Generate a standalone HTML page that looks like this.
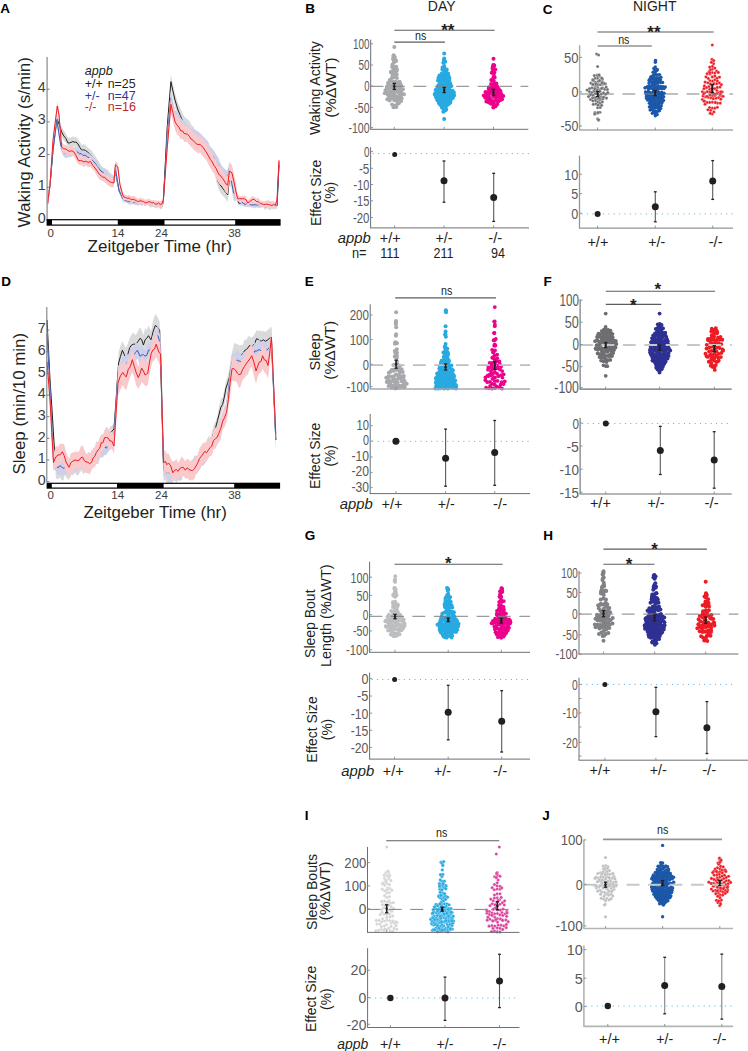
<!DOCTYPE html>
<html><head><meta charset="utf-8"><style>
html,body{margin:0;padding:0;background:#fff;width:748px;height:1051px;overflow:hidden}
svg{display:block}
text{font-family:"Liberation Sans", sans-serif}
</style></head><body>
<svg width="748" height="1051" viewBox="0 0 748 1051">
<rect width="748" height="1051" fill="#fff"/>
<text x="5.20" y="13.03" font-size="13.5" fill="#000" text-anchor="middle" font-weight="bold">A</text>
<polygon points="47.50,198.90 50.00,180.40 53.00,145.36 55.00,128.71 57.00,113.99 59.30,119.60 61.60,126.38 63.73,130.18 65.87,133.50 68.00,137.82 69.60,137.86 71.20,137.31 72.80,136.21 74.40,137.29 76.00,136.95 77.90,138.84 79.80,141.63 81.70,144.88 83.57,144.27 85.43,144.74 87.30,147.18 89.70,148.95 92.10,150.89 93.88,154.29 95.66,156.59 97.44,159.39 99.22,162.27 101.00,165.18 102.67,167.31 104.33,168.34 106.00,168.73 107.95,170.09 109.90,172.82 111.85,173.90 113.80,175.65 115.40,165.74 117.40,177.79 119.40,188.89 121.20,191.83 123.00,196.95 125.20,195.91 127.40,198.36 129.16,197.69 130.92,197.49 132.68,198.99 134.44,199.02 136.20,199.62 137.96,199.83 139.72,199.81 141.48,200.62 143.24,199.69 145.00,200.14 146.69,200.73 148.38,200.51 150.07,201.98 151.76,202.49 153.45,202.10 155.14,202.51 156.83,202.77 158.52,203.52 160.21,203.37 161.90,203.44 163.30,198.75 165.15,164.53 167.00,123.38 168.95,99.07 170.90,74.25 172.95,84.37 175.00,93.59 178.00,103.12 180.30,107.89 182.60,113.49 184.70,117.14 186.80,118.56 188.44,119.99 190.08,121.86 191.72,125.24 193.36,126.69 195.00,129.71 196.67,130.20 198.33,132.97 200.00,133.99 201.67,134.94 203.33,136.20 205.00,138.52 206.60,142.80 208.20,144.56 209.80,148.24 211.40,150.37 213.00,153.07 214.77,160.22 216.53,167.97 218.30,174.32 220.20,178.23 222.10,181.09 224.00,182.96 225.85,185.83 227.70,188.62 229.40,171.54 231.90,173.72 233.55,179.88 235.20,185.64 236.85,194.94 238.50,199.98 240.14,201.36 241.79,200.12 243.43,202.22 245.07,202.14 246.71,203.66 248.36,203.24 250.00,203.28 251.69,201.86 253.38,202.52 255.07,203.83 256.77,202.25 258.46,202.56 260.15,203.47 261.84,202.39 263.53,203.06 265.23,204.54 266.92,202.89 268.61,204.00 270.30,204.49 271.98,203.78 273.65,204.07 275.32,203.31 277.00,203.17 279.00,162.17 279.00,167.42 277.00,209.45 275.32,208.57 273.65,209.78 271.98,208.31 270.30,210.20 268.61,209.59 266.92,207.94 265.23,210.17 263.53,207.34 261.84,207.85 260.15,207.78 258.46,208.28 256.77,206.88 255.07,208.62 253.38,207.91 251.69,207.51 250.00,207.13 248.36,207.14 246.71,207.11 245.07,207.00 243.43,206.39 241.79,205.51 240.14,205.63 238.50,204.84 236.85,198.95 235.20,199.57 233.55,193.59 231.90,187.43 229.40,185.29 227.70,201.97 225.85,199.22 224.00,196.99 222.10,195.25 220.20,192.24 218.30,188.53 216.53,182.42 214.77,173.59 213.00,166.32 211.40,164.55 209.80,161.92 208.20,158.43 206.60,156.39 205.00,153.06 203.33,150.42 201.67,150.04 200.00,147.78 198.33,146.05 196.67,144.49 195.00,143.29 193.36,140.24 191.72,139.76 190.08,136.07 188.44,135.20 186.80,131.37 184.70,130.53 182.60,127.41 180.30,121.80 178.00,116.57 175.00,107.31 172.95,98.29 170.90,89.33 168.95,112.47 167.00,137.52 165.15,169.39 163.30,205.04 161.90,208.91 160.21,209.19 158.52,207.24 156.83,208.29 155.14,208.09 153.45,207.03 151.76,207.34 150.07,207.42 148.38,204.86 146.69,205.19 145.00,205.86 143.24,203.83 141.48,205.91 139.72,204.28 137.96,204.68 136.20,205.12 134.44,203.83 132.68,204.77 130.92,203.68 129.16,202.71 127.40,203.34 125.20,201.21 123.00,201.19 121.20,196.82 119.40,193.77 117.40,187.06 115.40,175.34 113.80,185.62 111.85,182.55 109.90,183.46 107.95,180.06 106.00,179.00 104.33,177.61 102.67,176.71 101.00,173.70 99.22,171.95 97.44,168.48 95.66,166.75 93.88,164.42 92.10,161.68 89.70,159.81 87.30,157.54 85.43,155.07 83.57,154.79 81.70,154.65 79.80,152.27 77.90,148.48 76.00,146.59 74.40,146.87 72.80,146.79 71.20,147.92 69.60,148.42 68.00,147.34 65.87,142.87 63.73,140.44 61.60,137.19 59.30,129.01 57.00,123.41 55.00,138.43 53.00,154.76 50.00,189.85 47.50,209.22" fill="#d9dadb" opacity="1"/>
<polyline points="47.50,204.00 50.00,185.00 53.00,150.00 55.00,134.15 57.00,119.00 59.30,124.70 61.60,131.80 63.73,135.84 65.87,138.41 68.00,143.00 69.60,142.87 71.20,142.33 72.80,141.52 74.40,142.21 76.00,142.00 77.90,143.81 79.80,147.33 81.70,150.20 83.57,149.87 85.43,150.45 87.30,151.80 89.70,154.05 92.10,156.60 93.88,159.83 95.66,161.01 97.44,163.79 99.22,167.17 101.00,169.50 102.67,171.90 104.33,172.65 106.00,174.00 107.95,175.54 109.90,178.45 111.85,178.34 113.80,181.00 115.40,171.00 117.40,182.22 119.40,192.00 121.20,195.08 123.00,199.00 125.20,199.14 127.40,200.70 129.16,200.17 130.92,200.78 132.68,202.02 134.44,200.98 136.20,202.01 137.96,202.36 139.72,202.05 141.48,202.64 143.24,201.90 145.00,203.00 146.69,202.46 148.38,203.09 150.07,204.38 151.76,204.22 153.45,204.33 155.14,205.21 156.83,205.29 158.52,205.32 160.21,206.65 161.90,206.40 163.30,202.00 165.15,166.40 167.00,130.00 168.95,105.34 170.90,81.70 172.95,91.00 175.00,100.00 178.00,110.00 180.30,115.55 182.60,121.00 184.70,123.75 186.80,125.00 188.44,127.66 190.08,128.98 191.72,132.56 193.36,133.04 195.00,136.00 196.67,137.50 198.33,139.85 200.00,140.30 201.67,142.64 203.33,143.41 205.00,146.00 206.60,149.14 208.20,152.13 209.80,154.55 211.40,157.95 213.00,160.00 214.77,166.96 216.53,175.06 218.30,182.00 220.20,184.86 222.10,187.49 224.00,190.00 225.85,192.41 227.70,195.00 229.40,178.00 231.90,180.00 233.55,186.40 235.20,192.34 236.85,197.12 238.50,202.90 240.14,203.53 241.79,202.62 243.43,204.20 245.07,204.39 246.71,205.39 248.36,205.34 250.00,205.00 251.69,204.74 253.38,205.10 255.07,205.84 256.77,204.71 258.46,205.76 260.15,205.34 261.84,205.40 263.53,205.45 265.23,207.04 266.92,205.93 268.61,206.33 270.30,207.00 271.98,206.58 273.65,207.34 275.32,205.56 277.00,206.20 279.00,165.00" fill="none" stroke="#231f20" stroke-width="1.0" stroke-linejoin="round"/>
<polygon points="47.50,199.87 50.00,180.96 53.00,144.79 54.90,130.71 56.80,115.07 58.80,128.72 60.80,140.86 62.40,144.74 64.00,149.09 66.00,148.29 68.00,148.55 70.00,146.88 72.00,146.73 74.00,147.76 76.00,146.86 77.67,147.71 79.33,149.96 81.00,149.69 83.10,151.03 85.20,150.68 87.30,152.82 89.65,153.93 92.00,155.75 93.80,157.46 95.60,158.82 97.40,162.87 99.20,164.08 101.00,165.96 102.75,168.38 104.50,168.33 106.25,171.25 108.00,172.86 109.93,174.91 111.87,176.50 113.80,177.67 115.40,162.70 117.20,175.26 119.00,187.72 121.00,192.50 123.00,196.86 125.00,198.25 127.00,199.14 128.66,198.39 130.32,199.58 131.99,197.48 133.65,200.46 135.31,200.39 136.97,200.37 138.63,200.93 140.30,200.01 141.96,199.28 143.62,199.00 145.28,200.36 146.94,199.70 148.60,199.45 150.27,199.88 151.93,200.60 153.59,200.88 155.25,201.56 156.91,200.56 158.58,201.50 160.24,201.11 161.90,202.27 163.30,199.84 165.15,168.95 167.00,131.82 168.95,111.15 170.90,90.54 172.95,101.00 175.00,109.82 176.75,111.85 178.50,113.04 180.25,116.89 182.00,119.25 183.62,120.89 185.25,121.89 186.88,123.04 188.50,126.23 190.12,127.90 191.75,128.15 193.38,128.44 195.00,130.50 196.67,131.29 198.33,131.39 200.00,132.89 201.67,134.78 203.33,137.57 205.00,137.99 206.67,139.98 208.33,141.80 210.00,146.56 211.67,147.97 213.33,149.68 215.00,152.39 216.70,155.22 218.40,157.65 220.10,162.45 221.80,165.64 223.77,168.09 225.73,169.76 227.70,170.76 229.40,161.20 231.45,173.65 233.50,184.55 235.18,187.24 236.87,193.66 238.55,194.88 240.23,197.53 241.92,199.90 243.60,201.57 245.27,202.23 246.95,201.17 248.62,200.95 250.29,201.39 251.96,201.98 253.64,201.74 255.31,203.09 256.98,203.17 258.65,202.00 260.33,200.75 262.00,202.04 263.67,201.95 265.33,202.62 267.00,201.40 268.67,200.60 270.33,201.32 272.00,201.28 273.67,202.02 275.33,203.76 277.00,203.13 279.00,160.05 279.00,165.17 277.00,207.91 275.33,207.56 273.67,207.41 272.00,206.56 270.33,207.18 268.67,205.90 267.00,206.41 265.33,207.55 263.67,206.73 262.00,206.74 260.33,207.02 258.65,207.73 256.98,207.03 255.31,207.99 253.64,206.64 251.96,206.79 250.29,206.38 248.62,206.29 246.95,206.50 245.27,206.69 243.60,205.45 241.92,205.08 240.23,202.89 238.55,199.59 236.87,199.34 235.18,201.44 233.50,200.26 231.45,187.57 229.40,175.39 227.70,186.02 225.73,185.07 223.77,182.89 221.80,180.03 220.10,178.05 218.40,172.45 216.70,171.57 215.00,167.26 213.33,163.94 211.67,161.76 210.00,160.37 208.33,156.28 206.67,154.12 205.00,152.31 203.33,152.25 201.67,148.95 200.00,149.08 198.33,147.74 196.67,145.34 195.00,145.23 193.38,144.78 191.75,143.48 190.12,142.73 188.50,141.31 186.88,138.51 185.25,136.81 183.62,134.87 182.00,133.78 180.25,130.93 178.50,129.56 176.75,126.77 175.00,124.33 172.95,115.18 170.90,106.22 168.95,125.82 167.00,147.37 165.15,172.78 163.30,204.00 161.90,207.49 160.24,207.24 158.58,206.09 156.91,206.35 155.25,205.40 153.59,205.80 151.93,206.19 150.27,205.28 148.60,205.86 146.94,204.44 145.28,205.87 143.62,204.99 141.96,205.49 140.30,204.33 138.63,205.72 136.97,205.26 135.31,204.75 133.65,204.32 131.99,202.74 130.32,204.91 128.66,204.19 127.00,203.11 125.00,202.40 123.00,201.78 121.00,197.38 119.00,191.73 117.20,184.10 115.40,172.83 113.80,187.24 111.87,184.89 109.93,183.15 108.00,182.46 106.25,181.20 104.50,178.24 102.75,177.51 101.00,175.44 99.20,173.16 97.40,170.29 95.60,168.53 93.80,165.72 92.00,164.32 89.65,162.49 87.30,161.54 85.20,158.91 83.10,159.39 81.00,158.22 79.33,158.42 77.67,156.29 76.00,155.90 74.00,156.02 72.00,156.29 70.00,157.17 68.00,157.13 66.00,158.26 64.00,156.76 62.40,154.55 60.80,149.83 58.80,137.57 56.80,124.44 54.90,139.60 53.00,155.21 50.00,189.79 47.50,208.54" fill="#cdd0ea" opacity="1"/>
<polyline points="47.50,204.00 50.00,185.00 53.00,150.00 54.90,134.75 56.80,119.70 58.80,132.65 60.80,145.40 62.40,149.97 64.00,153.00 66.00,153.31 68.00,153.06 70.00,152.00 72.00,151.56 74.00,151.83 76.00,152.00 77.67,152.18 79.33,153.70 81.00,153.40 83.10,155.52 85.20,155.10 87.30,157.00 89.65,157.85 92.00,160.00 93.80,161.66 95.60,163.87 97.40,166.57 99.20,168.98 101.00,171.00 102.75,172.28 104.50,173.51 106.25,176.09 108.00,178.00 109.93,179.07 111.87,180.80 113.80,182.00 115.40,168.00 117.20,179.91 119.00,190.00 121.00,194.88 123.00,199.00 125.00,200.03 127.00,201.00 128.66,201.43 130.32,201.73 131.99,200.68 133.65,202.56 135.31,202.51 136.97,202.89 138.63,202.93 140.30,202.31 141.96,202.51 143.62,202.11 145.28,203.36 146.94,202.41 148.60,202.61 150.27,203.08 151.93,203.18 153.59,203.73 155.25,203.34 156.91,203.43 158.58,203.92 160.24,204.01 161.90,205.00 163.30,202.00 165.15,170.73 167.00,140.00 168.95,118.05 170.90,98.00 172.95,108.25 175.00,117.00 176.75,119.73 178.50,121.30 180.25,124.00 182.00,127.00 183.62,128.07 185.25,129.48 186.88,130.37 188.50,133.20 190.12,134.86 191.75,135.18 193.38,136.59 195.00,138.00 196.67,138.34 198.33,139.54 200.00,141.19 201.67,142.20 203.33,144.49 205.00,145.00 206.67,146.82 208.33,149.05 210.00,153.40 211.67,155.06 213.33,156.79 215.00,160.00 216.70,163.34 218.40,165.55 220.10,169.81 221.80,173.00 223.77,175.62 225.73,177.06 227.70,178.00 229.40,168.00 231.45,180.79 233.50,192.80 235.18,194.14 236.87,196.17 238.55,197.58 240.23,200.61 241.92,201.95 243.60,203.70 245.27,204.33 246.95,203.50 248.62,203.36 250.29,204.61 251.96,205.03 253.64,204.84 255.31,204.82 256.98,204.92 258.65,204.83 260.33,203.88 262.00,204.50 263.67,204.59 265.33,204.32 267.00,203.72 268.67,203.78 270.33,204.34 272.00,204.35 273.67,205.27 275.33,205.86 277.00,205.00 279.00,162.00" fill="none" stroke="#3b5bab" stroke-width="1.0" stroke-linejoin="round"/>
<polygon points="47.50,199.29 50.00,179.79 53.00,136.26 55.15,118.82 57.30,101.54 59.00,109.77 61.60,141.77 63.80,144.56 66.00,144.90 67.92,146.29 69.85,146.82 71.78,145.64 73.70,147.81 76.10,150.66 78.50,155.72 80.33,155.50 82.17,155.99 84.00,157.33 85.62,157.03 87.25,157.74 88.88,158.07 90.50,156.45 92.75,161.55 95.00,163.98 97.20,166.20 99.40,170.20 101.05,171.98 102.70,173.50 104.35,172.41 106.00,174.78 107.95,175.05 109.90,176.71 111.85,177.28 113.80,178.88 115.40,160.87 117.80,163.15 120.00,182.00 121.70,188.01 123.40,193.78 125.40,194.88 127.40,195.43 129.30,194.89 131.20,196.45 133.10,195.84 135.00,196.44 136.70,197.66 138.40,199.19 140.10,197.21 141.80,198.41 143.50,198.49 145.20,199.98 146.90,199.23 148.60,199.26 150.30,199.38 152.00,200.41 153.65,200.02 155.30,200.53 156.95,200.99 158.60,200.24 160.25,201.65 161.90,200.21 163.30,196.99 165.15,173.39 167.00,141.01 168.95,118.72 170.90,95.01 172.95,104.89 175.00,113.34 176.97,115.95 178.93,118.15 180.90,121.84 182.57,123.09 184.25,125.42 185.93,125.88 187.60,126.30 189.28,127.00 190.95,130.33 192.62,130.68 194.30,133.60 196.18,134.58 198.05,136.18 199.93,136.28 201.80,137.06 203.48,138.79 205.15,142.72 206.82,144.33 208.50,147.31 210.34,151.32 212.18,153.63 214.02,157.51 215.86,160.04 217.70,163.89 219.37,166.38 221.03,167.40 222.70,170.54 224.37,173.32 226.03,175.67 227.70,176.51 229.40,163.00 231.90,164.60 233.83,173.25 235.77,181.93 237.70,195.42 239.38,196.20 241.05,196.20 242.72,195.71 244.40,195.42 246.05,196.41 247.70,200.35 249.38,199.27 251.05,197.05 252.72,196.30 254.40,196.65 256.37,198.61 258.33,197.72 260.30,200.80 261.97,200.53 263.63,201.56 265.30,201.31 266.97,200.32 268.63,200.69 270.30,201.96 271.97,202.88 273.63,200.86 275.30,202.67 277.00,197.59 279.00,156.36 279.00,163.62 277.00,203.25 275.30,207.98 273.63,208.08 271.97,208.26 270.30,208.78 268.63,208.17 266.97,208.01 265.30,207.04 263.63,207.22 261.97,206.29 260.30,206.61 258.33,204.85 256.37,204.32 254.40,202.23 252.72,203.23 251.05,203.77 249.38,204.56 247.70,206.61 246.05,202.68 244.40,202.53 242.72,201.40 241.05,202.37 239.38,201.66 237.70,201.20 235.77,200.09 233.83,190.24 231.90,180.76 229.40,180.17 227.70,194.53 226.03,192.38 224.37,190.30 222.70,186.58 221.03,185.14 219.37,183.91 217.70,181.29 215.86,177.13 214.02,173.36 212.18,171.14 210.34,167.68 208.50,164.51 206.82,160.77 205.15,159.10 203.48,156.95 201.80,154.87 199.93,152.23 198.05,153.32 196.18,151.43 194.30,150.42 192.62,148.27 190.95,146.81 189.28,144.64 187.60,142.21 185.93,141.65 184.25,142.05 182.57,138.84 180.90,139.43 178.93,136.14 176.97,133.89 175.00,129.88 172.95,121.23 170.90,112.99 168.95,135.20 167.00,158.40 165.15,178.88 163.30,203.25 161.90,206.88 160.25,207.62 158.60,205.83 156.95,206.80 155.30,207.35 153.65,205.55 152.00,206.16 150.30,204.36 148.60,205.32 146.90,204.87 145.20,206.19 143.50,204.70 141.80,203.35 140.10,204.39 138.40,204.94 136.70,203.52 135.00,202.40 133.10,202.05 131.20,202.76 129.30,200.92 127.40,200.85 125.40,199.95 123.40,200.23 121.70,194.90 120.00,187.85 117.80,171.06 115.40,169.66 113.80,186.96 111.85,187.58 109.90,186.51 107.95,185.47 106.00,183.32 104.35,182.18 102.70,181.03 101.05,180.25 99.40,179.56 97.20,176.32 95.00,171.90 92.75,169.40 90.50,166.65 88.88,167.34 87.25,166.43 85.62,165.13 84.00,167.18 82.17,165.46 80.33,164.67 78.50,164.53 76.10,160.15 73.70,156.09 71.78,155.52 69.85,155.15 67.92,155.83 66.00,153.73 63.80,153.46 61.60,150.72 59.00,118.96 57.30,110.44 55.15,128.01 53.00,144.35 50.00,190.01 47.50,208.38" fill="#f9c9cb" opacity="1"/>
<polyline points="47.50,204.00 50.00,185.00 53.00,140.00 55.15,122.89 57.30,106.00 59.00,115.00 61.60,147.00 63.80,148.87 66.00,149.00 67.92,150.68 69.85,151.31 71.78,150.83 73.70,151.80 76.10,155.64 78.50,160.60 80.33,160.52 82.17,160.93 84.00,162.00 85.62,161.26 87.25,161.95 88.88,162.35 90.50,161.40 92.75,165.38 95.00,168.00 97.20,171.11 99.40,174.30 101.05,175.78 102.70,177.25 104.35,176.99 106.00,179.00 107.95,180.32 109.90,181.82 111.85,182.56 113.80,183.00 115.40,164.70 117.80,167.00 120.00,185.00 121.70,191.35 123.40,196.70 125.40,197.46 127.40,198.30 129.30,198.08 131.20,199.73 133.10,199.24 135.00,200.00 136.70,200.92 138.40,201.58 140.10,200.75 141.80,201.08 143.50,201.60 145.20,202.77 146.90,202.61 148.60,201.78 150.30,201.97 152.00,203.00 153.65,202.47 155.30,204.14 156.95,204.11 158.60,202.96 160.25,204.49 161.90,204.00 163.30,200.00 165.15,175.96 167.00,150.00 168.95,127.46 170.90,104.30 172.95,112.75 175.00,121.80 176.97,124.96 178.93,127.20 180.90,131.00 182.57,130.85 184.25,133.59 185.93,133.77 187.60,134.30 189.28,136.25 190.95,138.97 192.62,139.87 194.30,141.90 196.18,143.67 198.05,144.60 199.93,144.40 201.80,146.00 203.48,148.00 205.15,150.59 206.82,152.98 208.50,156.00 210.34,159.37 212.18,161.92 214.02,165.44 215.86,168.06 217.70,172.00 219.37,175.04 221.03,176.14 222.70,178.57 224.37,181.03 226.03,183.89 227.70,185.30 229.40,171.00 231.90,172.80 233.83,181.27 235.77,190.90 237.70,198.70 239.38,198.70 241.05,198.76 242.72,198.75 244.40,198.70 246.05,199.84 247.70,202.90 249.38,201.93 251.05,200.57 252.72,199.36 254.40,199.50 256.37,201.50 258.33,201.64 260.30,203.70 261.97,203.84 263.63,204.53 265.30,204.38 266.97,204.11 268.63,204.68 270.30,204.94 271.97,205.59 273.63,204.42 275.30,205.40 277.00,200.00 279.00,160.20" fill="none" stroke="#ed1c24" stroke-width="1.0" stroke-linejoin="round"/>
<line x1="47.10" y1="57.00" x2="47.10" y2="221.00" stroke="#a0a0a0" stroke-width="1.5" />
<text x="45.80" y="222.52" font-size="14.3" fill="#3d3d3f" text-anchor="end">0</text>
<line x1="47.10" y1="220.00" x2="49.60" y2="220.00" stroke="#6d6e71" stroke-width="0.9" />
<text x="45.80" y="189.82" font-size="14.3" fill="#3d3d3f" text-anchor="end">1</text>
<line x1="47.10" y1="187.30" x2="49.60" y2="187.30" stroke="#6d6e71" stroke-width="0.9" />
<text x="45.80" y="157.12" font-size="14.3" fill="#3d3d3f" text-anchor="end">2</text>
<line x1="47.10" y1="154.60" x2="49.60" y2="154.60" stroke="#6d6e71" stroke-width="0.9" />
<text x="45.80" y="124.42" font-size="14.3" fill="#3d3d3f" text-anchor="end">3</text>
<line x1="47.10" y1="121.90" x2="49.60" y2="121.90" stroke="#6d6e71" stroke-width="0.9" />
<text x="45.80" y="91.72" font-size="14.3" fill="#3d3d3f" text-anchor="end">4</text>
<line x1="47.10" y1="89.20" x2="49.60" y2="89.20" stroke="#6d6e71" stroke-width="0.9" />
<rect x="46.60" y="219.10" width="234.00" height="6.60" fill="#000"/>
<rect x="52.00" y="220.30" width="65.80" height="4.20" fill="#fff"/>
<rect x="164.50" y="220.30" width="70.70" height="4.20" fill="#fff"/>
<text x="50.80" y="236.52" font-size="11.5" fill="#3a3a3a" text-anchor="middle">0</text>
<text x="118.00" y="236.52" font-size="11.5" fill="#3a3a3a" text-anchor="middle">14</text>
<text x="161.50" y="236.52" font-size="11.5" fill="#3a3a3a" text-anchor="middle">24</text>
<text x="234.60" y="236.52" font-size="11.5" fill="#3a3a3a" text-anchor="middle">38</text>
<text x="87.60" y="251.60" font-size="17" fill="#231f20" text-anchor="start" textLength="144.4" lengthAdjust="spacingAndGlyphs">Zeitgeber Time (hr)</text>
<text x="29.50" y="227.50" font-size="16.5" fill="#231f20" text-anchor="start" textLength="170.5" lengthAdjust="spacingAndGlyphs" transform="rotate(-90 29.50 227.50)">Waking Activity (s/min)</text>
<text x="84.80" y="75.40" font-size="13.5" fill="#231f20" text-anchor="start" font-style="italic" textLength="28" lengthAdjust="spacingAndGlyphs">appb</text>
<text x="84.80" y="88.40" font-size="13.5" fill="#231f20" text-anchor="start" textLength="18" lengthAdjust="spacingAndGlyphs">+/+</text>
<text x="107.70" y="88.40" font-size="13.5" fill="#231f20" text-anchor="start" textLength="28" lengthAdjust="spacingAndGlyphs">n=25</text>
<text x="84.80" y="99.70" font-size="13.5" fill="#2b3a97" text-anchor="start" textLength="14.8" lengthAdjust="spacingAndGlyphs">+/-</text>
<text x="107.70" y="99.70" font-size="13.5" fill="#2b3a97" text-anchor="start" textLength="28" lengthAdjust="spacingAndGlyphs">n=47</text>
<text x="84.80" y="110.90" font-size="13.5" fill="#c1272d" text-anchor="start" textLength="11.6" lengthAdjust="spacingAndGlyphs">-/-</text>
<text x="107.70" y="110.90" font-size="13.5" fill="#c1272d" text-anchor="start" textLength="28.4" lengthAdjust="spacingAndGlyphs">n=16</text>
<text x="6.20" y="285.53" font-size="13.5" fill="#000" text-anchor="middle" font-weight="bold">D</text>
<polygon points="47.00,313.46 50.00,371.06 51.97,401.10 53.93,433.51 55.90,462.96 57.95,465.31 60.00,464.45 61.67,466.59 63.33,467.19 65.00,462.71 66.67,467.70 68.33,464.31 70.00,461.84 71.67,461.09 73.33,462.97 75.00,459.44 76.67,462.64 78.33,461.44 80.00,458.59 81.67,458.10 83.33,457.87 85.00,455.11 86.67,455.19 88.33,456.44 90.00,454.00 91.67,451.66 93.33,454.16 95.00,448.03 96.67,447.43 98.33,447.70 100.00,444.20 101.60,441.57 103.20,440.20 104.80,436.41 106.40,433.39 108.00,433.75 110.00,426.77 112.00,425.73 114.00,422.32 116.30,388.38 118.60,352.15 120.50,345.78 122.40,341.20 124.10,344.46 125.80,348.18 127.75,344.10 129.70,338.06 131.70,334.21 133.70,332.45 135.70,335.47 137.85,331.31 140.00,327.19 141.70,330.04 143.40,335.14 145.10,327.88 146.80,330.04 148.50,325.53 151.10,331.36 153.25,319.84 155.40,313.64 157.55,317.24 159.70,322.10 161.65,388.74 163.60,459.84 165.23,465.27 166.87,468.88 168.50,470.74 170.14,467.78 171.79,469.96 173.43,468.85 175.07,464.30 176.71,469.88 178.36,464.03 180.00,465.43 181.67,461.74 183.33,463.40 185.00,461.67 186.67,464.55 188.33,464.68 190.00,461.47 191.67,459.70 193.33,459.46 195.00,459.33 196.73,457.25 198.46,453.06 200.19,450.80 201.92,449.74 203.65,446.30 205.38,443.70 207.11,439.30 208.84,436.11 210.57,437.51 212.30,430.69 214.01,424.38 215.73,421.30 217.44,415.14 219.16,405.87 220.87,399.00 222.59,396.93 224.30,390.42 225.95,380.79 227.60,377.39 229.25,369.03 230.90,357.85 232.55,349.84 234.20,343.33 235.94,343.59 237.68,344.32 239.42,345.39 241.16,344.91 242.90,345.00 244.60,339.16 246.30,340.09 248.00,336.49 249.70,336.13 251.40,337.82 253.10,336.26 254.80,333.70 256.50,329.96 258.20,331.29 259.96,330.15 261.72,331.69 263.48,330.83 265.24,332.04 267.00,330.48 269.20,328.78 271.40,326.45 273.60,379.66 275.80,433.55 275.80,448.29 273.60,393.77 271.40,347.62 269.20,350.15 267.00,351.50 265.24,349.39 263.48,348.53 261.72,349.22 259.96,352.09 258.20,349.13 256.50,349.37 254.80,352.25 253.10,356.00 251.40,357.71 249.70,355.99 248.00,358.40 246.30,359.97 244.60,360.94 242.90,365.14 241.16,366.25 239.42,365.19 237.68,364.63 235.94,366.54 234.20,363.36 232.55,368.42 230.90,376.46 229.25,383.09 227.60,390.47 225.95,396.58 224.30,405.19 222.59,409.63 220.87,415.38 219.16,421.51 217.44,428.00 215.73,433.35 214.01,437.22 212.30,445.22 210.57,451.55 208.84,450.83 207.11,456.96 205.38,458.69 203.65,458.29 201.92,462.82 200.19,463.83 198.46,469.17 196.73,470.10 195.00,474.31 193.33,471.73 191.67,472.99 190.00,474.31 188.33,475.75 186.67,479.05 185.00,477.71 183.33,475.79 181.67,476.25 180.00,480.45 178.36,478.13 176.71,483.22 175.07,480.97 173.43,480.63 171.79,485.64 170.14,483.04 168.50,485.34 166.87,484.85 165.23,479.46 163.60,481.73 161.65,409.77 159.70,340.94 157.55,335.44 155.40,335.94 153.25,341.52 151.10,348.30 148.50,347.54 146.80,347.87 145.10,349.28 143.40,356.46 141.70,350.26 140.00,348.55 137.85,351.80 135.70,355.56 133.70,352.19 131.70,356.37 129.70,357.86 127.75,364.58 125.80,367.97 124.10,362.73 122.40,360.07 120.50,364.54 118.60,372.97 116.30,402.07 114.00,434.94 112.00,437.18 110.00,441.50 108.00,448.53 106.40,446.96 104.80,451.94 103.20,455.04 101.60,457.75 100.00,457.79 98.33,464.15 96.67,464.10 95.00,464.49 93.33,467.75 91.67,466.47 90.00,469.43 88.33,472.30 86.67,467.58 85.00,471.91 83.33,474.45 81.67,470.33 80.00,472.39 78.33,475.11 76.67,475.43 75.00,472.54 73.33,475.38 71.67,474.87 70.00,477.62 68.33,479.71 66.67,477.88 65.00,474.32 63.33,480.55 61.67,480.34 60.00,477.56 57.95,479.23 55.90,478.32 53.93,449.75 51.97,414.51 50.00,388.42 47.00,328.71" fill="#d9dadb" opacity="1"/>
<polyline points="47.00,320.00 50.00,380.00 51.97,409.28 53.93,441.44 55.90,469.70 57.95,471.09 60.00,472.00 61.67,472.02 63.33,473.02 65.00,469.26 66.67,472.84 68.33,470.90 70.00,470.00 71.67,468.87 73.33,469.98 75.00,466.96 76.67,469.49 78.33,467.01 80.00,466.00 81.67,464.72 83.33,465.83 85.00,463.75 86.67,461.91 88.33,463.74 90.00,462.00 91.67,458.35 93.33,460.07 95.00,455.92 96.67,455.95 98.33,455.80 100.00,452.00 101.60,449.98 103.20,447.92 104.80,443.98 106.40,440.21 108.00,440.00 110.00,434.28 112.00,431.12 114.00,429.00 116.30,396.51 118.60,363.00 120.50,356.30 122.40,350.20 124.10,354.16 125.80,358.00 127.75,354.59 129.70,347.70 131.70,344.91 133.70,344.17 135.70,344.20 137.85,341.92 140.00,338.30 141.70,339.60 143.40,345.10 145.10,339.78 146.80,338.20 148.50,335.70 151.10,340.00 153.25,330.97 155.40,325.40 157.55,327.32 159.70,330.50 161.65,399.04 163.60,470.00 165.23,473.13 166.87,475.93 168.50,478.30 170.14,476.10 171.79,477.05 173.43,475.49 175.07,473.09 176.71,475.72 178.36,471.77 180.00,472.00 181.67,469.79 183.33,468.89 185.00,470.61 186.67,470.97 188.33,469.91 190.00,467.57 191.67,466.30 193.33,464.52 195.00,466.00 196.73,463.93 198.46,460.85 200.19,457.21 201.92,455.80 203.65,452.20 205.38,451.66 207.11,448.06 208.84,443.21 210.57,443.39 212.30,438.90 214.01,430.95 215.73,427.15 217.44,420.66 219.16,413.97 220.87,407.24 222.59,404.47 224.30,397.30 225.95,388.04 227.60,383.29 229.25,377.89 230.90,367.26 232.55,360.39 234.20,354.60 235.94,354.86 237.68,354.19 239.42,354.56 241.16,355.10 242.90,353.50 244.60,350.49 246.30,349.51 248.00,347.89 249.70,345.20 251.40,347.32 253.10,345.28 254.80,343.40 256.50,338.71 258.20,339.30 259.96,341.04 261.72,340.82 263.48,339.81 265.24,341.24 267.00,340.40 269.20,338.49 271.40,337.00 273.60,387.29 275.80,440.00" fill="none" stroke="#231f20" stroke-width="1.0" stroke-linejoin="round"/>
<polygon points="47.00,325.85 50.00,382.75 51.75,418.23 53.50,455.79 55.75,457.13 58.00,461.73 59.71,458.96 61.43,459.14 63.14,459.51 64.86,462.50 66.57,460.82 68.29,462.06 70.00,460.52 71.67,456.23 73.33,457.94 75.00,455.54 76.67,458.48 78.33,458.55 80.00,455.42 81.67,455.76 83.33,455.30 85.00,451.33 86.67,455.77 88.33,451.72 90.00,454.59 91.64,450.00 93.27,450.26 94.91,451.38 96.55,451.44 98.18,449.25 99.82,443.32 101.45,446.64 103.09,439.47 104.73,441.23 106.36,439.68 108.00,439.48 110.00,437.84 112.00,432.64 114.00,431.03 116.00,397.29 118.00,365.25 120.00,365.61 122.00,358.30 123.60,356.53 125.20,355.71 126.80,353.71 128.40,355.12 130.00,349.49 131.85,346.94 133.70,347.25 135.55,342.73 137.40,343.18 140.00,346.34 141.70,346.29 143.40,348.49 145.10,350.08 146.80,346.80 148.53,340.81 150.27,343.96 152.00,337.76 154.00,331.42 156.00,330.05 158.00,326.26 160.50,337.05 163.60,461.76 165.20,461.30 166.80,465.59 168.40,465.06 170.00,466.29 171.67,466.34 173.33,462.74 175.00,464.03 176.67,465.27 178.33,464.57 180.00,465.19 181.67,465.00 183.33,459.94 185.00,461.12 186.67,460.26 188.33,462.63 190.00,461.83 191.67,463.05 193.33,458.60 195.00,454.94 196.67,456.86 198.33,457.94 200.00,455.87 201.67,449.58 203.33,449.49 205.00,450.60 206.67,447.06 208.33,443.24 210.00,441.98 211.67,440.87 213.33,435.85 215.00,432.59 216.83,427.85 218.67,422.35 220.50,417.93 222.33,413.23 224.17,407.18 226.00,403.31 228.00,387.79 230.00,368.44 232.00,352.45 233.62,355.04 235.25,352.33 236.88,350.65 238.50,351.46 240.12,352.76 241.75,355.85 243.38,352.01 245.00,352.77 246.62,350.97 248.25,351.39 249.88,350.13 251.50,351.21 253.12,346.81 254.75,341.75 256.38,344.32 258.00,341.00 259.80,339.99 261.60,344.27 263.40,340.90 265.20,342.19 267.00,342.14 269.20,340.84 271.40,337.98 273.60,383.25 275.80,431.83 275.80,448.36 273.60,397.34 271.40,351.62 269.20,355.31 267.00,357.07 265.20,360.38 263.40,355.90 261.60,359.41 259.80,358.58 258.00,356.23 256.38,358.00 254.75,357.51 253.12,363.53 251.50,365.46 249.88,366.81 248.25,368.40 246.62,367.52 245.00,370.51 243.38,370.79 241.75,372.66 240.12,367.43 238.50,368.72 236.88,366.45 235.25,371.22 233.62,370.67 232.00,371.74 230.00,382.58 228.00,403.84 226.00,415.14 224.17,419.01 222.33,426.11 220.50,429.11 218.67,438.29 216.83,442.00 215.00,445.95 213.33,449.26 211.67,454.30 210.00,456.03 208.33,455.98 206.67,459.59 205.00,463.42 203.33,465.85 201.67,465.86 200.00,469.48 198.33,471.98 196.67,473.93 195.00,470.78 193.33,473.08 191.67,473.52 190.00,476.94 188.33,477.48 186.67,476.24 185.00,478.04 183.33,473.28 181.67,479.89 180.00,480.49 178.33,480.70 176.67,479.26 175.00,476.51 173.33,476.08 171.67,477.81 170.00,482.97 168.40,480.68 166.80,478.53 165.20,474.56 163.60,475.57 160.50,353.68 158.00,345.53 156.00,345.28 154.00,348.59 152.00,352.03 150.27,360.11 148.53,356.56 146.80,362.99 145.10,364.53 143.40,360.79 141.70,364.79 140.00,365.99 137.40,358.03 135.55,361.94 133.70,363.32 131.85,361.98 130.00,364.33 128.40,368.18 126.80,369.43 125.20,371.29 123.60,372.40 122.00,377.25 120.00,381.08 118.00,381.07 116.00,414.01 114.00,443.70 112.00,448.63 110.00,448.95 108.00,452.27 106.36,455.10 104.73,455.04 103.09,457.30 101.45,457.26 99.82,456.14 98.18,461.34 96.55,462.88 94.91,464.37 93.27,461.74 91.64,465.73 90.00,467.53 88.33,463.79 86.67,469.17 85.00,469.24 83.33,469.22 81.67,468.72 80.00,469.04 78.33,470.21 76.67,472.53 75.00,470.67 73.33,473.04 71.67,470.19 70.00,471.77 68.29,472.97 66.57,475.45 64.86,474.62 63.14,475.33 61.43,475.25 59.71,474.27 58.00,475.32 55.75,469.75 53.50,470.09 51.75,432.49 50.00,395.35 47.00,340.84" fill="#cdd0ea" opacity="1"/>
<polyline points="47.00,334.00 50.00,390.00 51.75,424.26 53.50,462.00 55.75,463.82 58.00,468.00 59.71,465.69 61.43,466.70 63.14,468.24 64.86,467.72 66.57,468.09 68.29,467.22 70.00,466.00 71.67,464.47 73.33,465.24 75.00,464.22 76.67,465.27 78.33,463.60 80.00,461.97 81.67,463.12 83.33,464.05 85.00,460.25 86.67,462.67 88.33,458.37 90.00,460.00 91.64,457.58 93.27,456.11 94.91,456.98 96.55,456.50 98.18,454.26 99.82,451.06 101.45,452.13 103.09,448.34 104.73,446.58 106.36,448.16 108.00,445.00 110.00,442.91 112.00,440.52 114.00,437.00 116.00,405.23 118.00,372.00 120.00,371.81 122.00,367.40 123.60,365.39 125.20,365.13 126.80,362.63 128.40,361.45 130.00,358.00 131.85,355.77 133.70,355.09 135.55,352.46 137.40,350.20 140.00,356.20 141.70,355.15 143.40,354.53 145.10,356.14 146.80,355.40 148.53,350.08 150.27,350.27 152.00,345.00 154.00,340.34 156.00,336.72 158.00,335.70 160.50,345.00 163.60,468.00 165.20,467.77 166.80,472.89 168.40,471.82 170.00,474.00 171.67,471.92 173.33,470.93 175.00,470.48 176.67,472.85 178.33,472.09 180.00,471.87 181.67,471.54 183.33,468.09 185.00,469.90 186.67,468.40 188.33,469.90 190.00,468.00 191.67,468.29 193.33,467.50 195.00,462.76 196.67,465.17 198.33,464.27 200.00,463.29 201.67,458.49 203.33,457.82 205.00,458.00 206.67,453.29 208.33,449.95 210.00,450.53 211.67,447.37 213.33,443.59 215.00,440.00 216.83,436.43 218.67,430.58 220.50,424.06 222.33,418.24 224.17,413.23 226.00,410.00 228.00,395.13 230.00,376.70 232.00,362.00 233.62,361.20 235.25,361.66 236.88,359.89 238.50,360.93 240.12,361.04 241.75,362.95 243.38,361.42 245.00,362.00 246.62,359.71 248.25,361.04 249.88,357.52 251.50,357.55 253.12,355.02 254.75,350.94 256.38,351.12 258.00,350.00 259.80,349.72 261.60,351.20 263.40,349.33 265.20,350.90 267.00,350.00 269.20,347.67 271.40,345.00 273.60,391.25 275.80,440.00" fill="none" stroke="#3b5bab" stroke-width="1.0" stroke-linejoin="round"/>
<polygon points="47.00,352.66 50.00,391.83 51.75,423.38 53.50,453.73 55.75,445.84 58.00,447.04 60.15,443.39 62.30,444.07 64.15,444.37 66.00,451.83 68.90,458.96 70.93,453.26 72.97,452.48 75.00,451.47 76.93,452.11 78.87,451.68 80.80,446.34 82.53,445.53 84.27,449.36 86.00,454.11 87.83,453.47 89.67,452.55 91.50,454.77 93.12,447.58 94.75,447.55 96.38,441.04 98.00,442.44 99.65,437.63 101.30,433.88 102.95,434.59 104.60,430.09 106.38,426.67 108.15,428.44 109.92,432.78 111.70,431.76 114.00,434.85 116.00,406.02 118.00,370.51 120.40,365.38 122.80,361.78 124.55,362.17 126.30,363.95 128.30,358.47 130.30,356.35 132.30,349.35 134.30,354.10 136.30,360.91 138.30,366.50 140.00,362.64 141.70,355.75 143.40,358.13 145.10,361.75 147.70,361.07 149.40,352.31 151.10,343.44 152.80,337.14 154.50,337.45 156.20,331.31 158.80,341.78 160.50,340.76 163.60,451.66 165.23,450.31 166.87,453.75 168.50,453.53 170.65,458.25 172.80,461.66 174.56,461.02 176.32,458.61 178.08,462.76 179.84,460.24 181.60,456.57 183.43,458.43 185.27,462.00 187.10,458.84 188.93,459.48 190.77,462.69 192.60,461.02 194.34,459.60 196.08,456.47 197.82,454.74 199.56,448.21 201.30,445.63 203.04,442.94 204.78,442.62 206.52,442.34 208.26,441.13 210.00,437.19 211.76,438.16 213.52,429.53 215.28,427.53 217.04,427.98 218.80,423.85 220.73,418.93 222.65,411.71 224.57,410.05 226.50,401.23 228.33,391.30 230.17,371.52 232.00,358.39 233.74,357.54 235.48,356.86 237.22,362.87 238.96,364.33 240.70,361.50 242.53,358.90 244.37,356.52 246.20,351.49 248.03,348.83 249.87,346.81 251.70,342.89 253.85,351.45 256.00,357.52 257.65,353.55 259.30,351.80 260.95,351.12 262.60,343.73 264.40,347.97 266.20,349.36 268.00,355.01 269.70,341.66 271.40,326.45 273.60,374.13 275.80,423.56 275.80,445.04 273.60,394.47 271.40,349.96 269.70,365.36 268.00,378.78 266.20,373.88 264.40,372.44 262.60,368.40 260.95,373.03 259.30,373.33 257.65,377.04 256.00,383.95 253.85,375.70 251.70,366.60 249.87,369.33 248.03,374.08 246.20,375.65 244.37,378.14 242.53,379.93 240.70,386.06 238.96,388.20 237.22,383.26 235.48,380.76 233.74,381.63 232.00,379.98 230.17,396.20 228.33,408.33 226.50,422.07 224.57,427.36 222.65,429.81 220.73,439.50 218.80,442.31 217.04,445.01 215.28,448.69 213.52,449.56 211.76,455.45 210.00,456.09 208.26,458.62 206.52,461.43 204.78,460.78 203.04,463.85 201.30,466.09 199.56,467.92 197.82,473.07 196.08,474.34 194.34,478.98 192.60,480.38 190.77,480.15 188.93,480.22 187.10,477.51 185.27,478.01 183.43,475.88 181.60,476.05 179.84,477.61 178.08,480.00 176.32,477.62 174.56,478.42 172.80,480.89 170.65,475.45 168.50,472.37 166.87,473.28 165.23,470.73 163.60,476.82 160.50,366.38 158.80,362.48 156.20,356.79 154.50,360.31 152.80,361.22 151.10,367.50 149.40,374.85 147.70,385.48 145.10,386.00 143.40,383.45 141.70,381.90 140.00,385.63 138.30,388.69 136.30,385.61 134.30,377.60 132.30,372.27 130.30,376.80 128.30,382.79 126.30,390.34 124.55,388.49 122.80,385.03 120.40,389.68 118.00,395.91 116.00,425.77 114.00,454.06 111.70,448.58 109.92,450.55 108.15,447.28 106.38,445.28 104.60,447.22 102.95,451.61 101.30,452.78 99.65,457.55 98.00,458.50 96.38,463.69 94.75,467.56 93.12,467.56 91.50,470.21 89.67,474.53 87.83,472.89 86.00,473.15 84.27,471.28 82.53,468.44 80.80,467.04 78.87,469.48 76.93,468.88 75.00,468.85 72.97,471.73 70.93,473.94 68.90,476.38 66.00,471.60 64.15,466.31 62.30,460.98 60.15,463.86 58.00,466.25 55.75,467.75 53.50,470.66 51.75,443.33 50.00,409.79 47.00,369.59" fill="#f9c9cb" opacity="1"/>
<polyline points="47.00,361.50 50.00,400.00 51.75,432.84 53.50,462.50 55.75,456.95 58.00,455.00 60.15,454.81 62.30,451.80 64.15,455.45 66.00,462.00 68.90,467.30 70.93,462.67 72.97,461.12 75.00,460.00 76.93,460.42 78.87,460.64 80.80,457.80 82.53,457.02 84.27,460.56 86.00,462.00 87.83,462.13 89.67,463.64 91.50,462.50 93.12,457.99 94.75,456.23 96.38,452.45 98.00,450.00 99.65,448.36 101.30,442.75 102.95,442.65 104.60,437.60 106.38,437.50 108.15,438.04 109.92,441.03 111.70,441.00 114.00,446.00 116.00,414.39 118.00,382.80 120.40,375.93 122.80,372.50 124.55,375.25 126.30,376.80 128.30,369.26 130.30,366.67 132.30,359.70 134.30,366.53 136.30,372.90 138.30,377.60 140.00,373.46 141.70,368.20 143.40,370.96 145.10,375.00 147.70,373.40 149.40,363.12 151.10,353.70 152.80,350.07 154.50,349.08 156.20,344.20 158.80,352.00 160.50,354.00 163.60,463.00 165.23,461.18 166.87,464.71 168.50,463.00 170.65,465.81 172.80,472.80 174.56,470.43 176.32,469.60 178.08,471.33 179.84,468.49 181.60,467.40 183.43,467.40 185.27,470.16 187.10,467.83 188.93,469.36 190.77,470.21 192.60,470.60 194.34,468.88 196.08,466.03 197.82,462.72 199.56,458.57 201.30,456.40 203.04,453.90 204.78,451.40 206.52,452.69 208.26,450.15 210.00,447.70 211.76,445.90 213.52,440.53 215.28,438.85 217.04,437.46 218.80,433.40 220.73,428.55 222.65,421.35 224.57,417.63 226.50,412.60 228.33,399.69 230.17,382.25 232.00,368.80 233.74,368.54 235.48,370.13 237.22,372.99 238.96,374.71 240.70,374.30 242.53,369.68 244.37,366.59 246.20,363.89 248.03,361.14 249.87,358.90 251.70,355.70 253.85,361.86 256.00,371.00 257.65,366.42 259.30,361.98 260.95,361.62 262.60,355.70 264.40,359.97 266.20,360.48 268.00,365.50 269.70,353.28 271.40,337.00 273.60,384.00 275.80,434.50" fill="none" stroke="#ed1c24" stroke-width="1.0" stroke-linejoin="round"/>
<line x1="46.80" y1="307.10" x2="46.80" y2="482.60" stroke="#808285" stroke-width="1.1" />
<text x="45.80" y="484.92" font-size="14.3" fill="#3d3d3f" text-anchor="end">0</text>
<line x1="46.80" y1="481.60" x2="49.30" y2="481.60" stroke="#6d6e71" stroke-width="0.9" />
<text x="45.80" y="463.27" font-size="14.3" fill="#3d3d3f" text-anchor="end">1</text>
<line x1="46.80" y1="459.95" x2="49.30" y2="459.95" stroke="#6d6e71" stroke-width="0.9" />
<text x="45.80" y="441.62" font-size="14.3" fill="#3d3d3f" text-anchor="end">2</text>
<line x1="46.80" y1="438.30" x2="49.30" y2="438.30" stroke="#6d6e71" stroke-width="0.9" />
<text x="45.80" y="419.97" font-size="14.3" fill="#3d3d3f" text-anchor="end">3</text>
<line x1="46.80" y1="416.65" x2="49.30" y2="416.65" stroke="#6d6e71" stroke-width="0.9" />
<text x="45.80" y="398.32" font-size="14.3" fill="#3d3d3f" text-anchor="end">4</text>
<line x1="46.80" y1="395.00" x2="49.30" y2="395.00" stroke="#6d6e71" stroke-width="0.9" />
<text x="45.80" y="376.67" font-size="14.3" fill="#3d3d3f" text-anchor="end">5</text>
<line x1="46.80" y1="373.35" x2="49.30" y2="373.35" stroke="#6d6e71" stroke-width="0.9" />
<text x="45.80" y="355.02" font-size="14.3" fill="#3d3d3f" text-anchor="end">6</text>
<line x1="46.80" y1="351.70" x2="49.30" y2="351.70" stroke="#6d6e71" stroke-width="0.9" />
<text x="45.80" y="333.37" font-size="14.3" fill="#3d3d3f" text-anchor="end">7</text>
<line x1="46.80" y1="330.05" x2="49.30" y2="330.05" stroke="#6d6e71" stroke-width="0.9" />
<rect x="46.60" y="482.70" width="233.50" height="6.00" fill="#000"/>
<rect x="51.80" y="483.90" width="65.20" height="3.60" fill="#fff"/>
<rect x="163.60" y="483.90" width="70.60" height="3.60" fill="#fff"/>
<text x="50.60" y="498.92" font-size="11.5" fill="#3a3a3a" text-anchor="middle">0</text>
<text x="117.70" y="498.92" font-size="11.5" fill="#3a3a3a" text-anchor="middle">14</text>
<text x="161.50" y="498.92" font-size="11.5" fill="#3a3a3a" text-anchor="middle">24</text>
<text x="234.60" y="498.92" font-size="11.5" fill="#3a3a3a" text-anchor="middle">38</text>
<text x="83.40" y="517.50" font-size="17" fill="#231f20" text-anchor="start" textLength="143.4" lengthAdjust="spacingAndGlyphs">Zeitgeber Time (hr)</text>
<text x="25.50" y="474.40" font-size="16.5" fill="#231f20" text-anchor="start" textLength="141.5" lengthAdjust="spacingAndGlyphs" transform="rotate(-90 25.50 474.40)">Sleep (min/10 min)</text>
<text x="310.00" y="13.43" font-size="13.5" fill="#000" text-anchor="middle" font-weight="bold">B</text>
<text x="441.70" y="10.81" font-size="14" fill="#231f20" text-anchor="middle">DAY</text>
<line x1="394.30" y1="30.20" x2="494.70" y2="30.20" stroke="#5d5d5f" stroke-width="1.1" />
<text x="447.80" y="35.80" font-size="17" fill="#231f20" text-anchor="middle" font-weight="bold">**</text>
<line x1="394.30" y1="42.10" x2="444.90" y2="42.10" stroke="#5d5d5f" stroke-width="1.1" />
<text x="420.70" y="40.26" font-size="13.3" fill="#231f20" text-anchor="middle" textLength="11.3" lengthAdjust="spacingAndGlyphs">ns</text>
<circle cx="394.04" cy="94.26" r="2.0" fill="#a7a9ac"/>
<circle cx="394.52" cy="56.84" r="2.0" fill="#a7a9ac"/>
<circle cx="394.56" cy="81.98" r="2.0" fill="#a7a9ac"/>
<circle cx="397.11" cy="82.47" r="2.0" fill="#a7a9ac"/>
<circle cx="394.38" cy="77.21" r="2.0" fill="#a7a9ac"/>
<circle cx="395.86" cy="96.12" r="2.0" fill="#a7a9ac"/>
<circle cx="394.47" cy="90.42" r="2.0" fill="#a7a9ac"/>
<circle cx="394.02" cy="62.24" r="2.0" fill="#a7a9ac"/>
<circle cx="394.24" cy="86.69" r="2.0" fill="#a7a9ac"/>
<circle cx="394.33" cy="105.68" r="2.0" fill="#a7a9ac"/>
<circle cx="396.79" cy="104.82" r="2.0" fill="#a7a9ac"/>
<circle cx="393.52" cy="97.26" r="2.0" fill="#a7a9ac"/>
<circle cx="392.09" cy="91.46" r="2.0" fill="#a7a9ac"/>
<circle cx="392.03" cy="81.36" r="2.0" fill="#a7a9ac"/>
<circle cx="394.40" cy="100.22" r="2.0" fill="#a7a9ac"/>
<circle cx="396.76" cy="87.32" r="2.0" fill="#a7a9ac"/>
<circle cx="396.63" cy="91.87" r="2.0" fill="#a7a9ac"/>
<circle cx="389.90" cy="92.86" r="2.0" fill="#a7a9ac"/>
<circle cx="392.06" cy="104.41" r="2.0" fill="#a7a9ac"/>
<circle cx="394.32" cy="68.51" r="2.0" fill="#a7a9ac"/>
<circle cx="396.26" cy="106.91" r="2.0" fill="#a7a9ac"/>
<circle cx="391.75" cy="87.44" r="2.0" fill="#a7a9ac"/>
<circle cx="391.20" cy="98.44" r="2.0" fill="#a7a9ac"/>
<circle cx="389.61" cy="88.91" r="2.0" fill="#a7a9ac"/>
<circle cx="393.11" cy="70.81" r="2.0" fill="#a7a9ac"/>
<circle cx="398.43" cy="89.31" r="2.0" fill="#a7a9ac"/>
<circle cx="391.89" cy="77.96" r="2.0" fill="#a7a9ac"/>
<circle cx="391.56" cy="95.05" r="2.0" fill="#a7a9ac"/>
<circle cx="396.67" cy="98.59" r="2.0" fill="#a7a9ac"/>
<circle cx="396.88" cy="77.93" r="2.0" fill="#a7a9ac"/>
<circle cx="390.14" cy="85.40" r="2.0" fill="#a7a9ac"/>
<circle cx="400.71" cy="90.56" r="2.0" fill="#a7a9ac"/>
<circle cx="399.62" cy="81.79" r="2.0" fill="#a7a9ac"/>
<circle cx="399.02" cy="92.89" r="2.0" fill="#a7a9ac"/>
<circle cx="387.13" cy="88.14" r="2.0" fill="#a7a9ac"/>
<circle cx="385.53" cy="90.19" r="2.0" fill="#a7a9ac"/>
<circle cx="397.10" cy="101.15" r="2.0" fill="#a7a9ac"/>
<circle cx="402.96" cy="89.26" r="2.0" fill="#a7a9ac"/>
<circle cx="389.87" cy="79.91" r="2.0" fill="#a7a9ac"/>
<circle cx="399.19" cy="99.20" r="2.0" fill="#a7a9ac"/>
<circle cx="397.36" cy="90.85" r="2.0" fill="#a7a9ac"/>
<circle cx="387.35" cy="93.36" r="2.0" fill="#a7a9ac"/>
<circle cx="395.63" cy="60.20" r="2.0" fill="#a7a9ac"/>
<circle cx="401.61" cy="93.12" r="2.0" fill="#a7a9ac"/>
<circle cx="393.46" cy="56.42" r="2.0" fill="#a7a9ac"/>
<circle cx="396.26" cy="66.77" r="2.0" fill="#a7a9ac"/>
<circle cx="394.47" cy="73.03" r="2.0" fill="#a7a9ac"/>
<circle cx="392.16" cy="67.06" r="2.0" fill="#a7a9ac"/>
<circle cx="398.38" cy="84.74" r="2.0" fill="#a7a9ac"/>
<circle cx="395.01" cy="67.87" r="2.0" fill="#a7a9ac"/>
<circle cx="400.94" cy="85.21" r="2.0" fill="#a7a9ac"/>
<circle cx="384.75" cy="93.32" r="2.0" fill="#a7a9ac"/>
<circle cx="389.13" cy="96.87" r="2.0" fill="#a7a9ac"/>
<circle cx="403.94" cy="94.28" r="2.0" fill="#a7a9ac"/>
<circle cx="401.60" cy="98.21" r="2.0" fill="#a7a9ac"/>
<circle cx="394.07" cy="67.73" r="2.0" fill="#a7a9ac"/>
<circle cx="396.25" cy="71.13" r="2.0" fill="#a7a9ac"/>
<circle cx="390.49" cy="92.72" r="2.0" fill="#a7a9ac"/>
<circle cx="387.77" cy="94.77" r="2.0" fill="#a7a9ac"/>
<circle cx="398.81" cy="103.19" r="2.0" fill="#a7a9ac"/>
<circle cx="390.10" cy="80.50" r="2.0" fill="#a7a9ac"/>
<circle cx="400.75" cy="87.89" r="2.0" fill="#a7a9ac"/>
<circle cx="388.16" cy="83.72" r="2.0" fill="#a7a9ac"/>
<circle cx="389.41" cy="92.38" r="2.0" fill="#a7a9ac"/>
<circle cx="391.19" cy="72.56" r="2.0" fill="#a7a9ac"/>
<circle cx="393.10" cy="59.02" r="2.0" fill="#a7a9ac"/>
<circle cx="386.81" cy="86.77" r="2.0" fill="#a7a9ac"/>
<circle cx="398.45" cy="96.69" r="2.0" fill="#a7a9ac"/>
<circle cx="389.60" cy="100.48" r="2.0" fill="#a7a9ac"/>
<circle cx="393.04" cy="84.38" r="2.0" fill="#a7a9ac"/>
<circle cx="396.11" cy="60.93" r="2.0" fill="#a7a9ac"/>
<circle cx="393.47" cy="107.16" r="2.0" fill="#a7a9ac"/>
<circle cx="387.65" cy="88.80" r="2.0" fill="#a7a9ac"/>
<circle cx="393.49" cy="91.24" r="2.0" fill="#a7a9ac"/>
<circle cx="391.12" cy="72.09" r="2.0" fill="#a7a9ac"/>
<circle cx="387.32" cy="99.22" r="2.0" fill="#a7a9ac"/>
<circle cx="396.16" cy="82.05" r="2.0" fill="#a7a9ac"/>
<circle cx="393.67" cy="59.99" r="2.0" fill="#a7a9ac"/>
<circle cx="395.07" cy="84.89" r="2.0" fill="#a7a9ac"/>
<circle cx="390.78" cy="98.04" r="2.0" fill="#a7a9ac"/>
<circle cx="388.52" cy="92.83" r="2.0" fill="#a7a9ac"/>
<circle cx="392.51" cy="64.48" r="2.0" fill="#a7a9ac"/>
<circle cx="393.61" cy="55.29" r="2.0" fill="#a7a9ac"/>
<circle cx="401.18" cy="100.88" r="2.0" fill="#a7a9ac"/>
<circle cx="392.66" cy="75.26" r="2.0" fill="#a7a9ac"/>
<circle cx="395.56" cy="106.69" r="2.0" fill="#a7a9ac"/>
<circle cx="398.53" cy="98.01" r="2.0" fill="#a7a9ac"/>
<circle cx="396.66" cy="74.42" r="2.0" fill="#a7a9ac"/>
<circle cx="398.71" cy="98.04" r="2.0" fill="#a7a9ac"/>
<circle cx="399.78" cy="93.52" r="2.0" fill="#a7a9ac"/>
<circle cx="401.09" cy="95.47" r="2.0" fill="#a7a9ac"/>
<circle cx="393.48" cy="57.92" r="2.0" fill="#a7a9ac"/>
<circle cx="400.19" cy="83.47" r="2.0" fill="#a7a9ac"/>
<circle cx="397.01" cy="69.73" r="2.0" fill="#a7a9ac"/>
<circle cx="394.71" cy="57.72" r="2.0" fill="#a7a9ac"/>
<circle cx="391.24" cy="71.70" r="2.0" fill="#a7a9ac"/>
<circle cx="392.76" cy="65.65" r="2.0" fill="#a7a9ac"/>
<circle cx="391.76" cy="71.84" r="2.0" fill="#a7a9ac"/>
<circle cx="388.25" cy="82.87" r="2.0" fill="#a7a9ac"/>
<circle cx="388.77" cy="83.13" r="2.0" fill="#a7a9ac"/>
<circle cx="394.30" cy="47.10" r="2.0" fill="#a7a9ac"/>
<circle cx="443.93" cy="98.32" r="2.0" fill="#27aae1"/>
<circle cx="444.14" cy="84.26" r="2.0" fill="#27aae1"/>
<circle cx="443.99" cy="93.72" r="2.0" fill="#27aae1"/>
<circle cx="444.45" cy="91.14" r="2.0" fill="#27aae1"/>
<circle cx="442.25" cy="91.16" r="2.0" fill="#27aae1"/>
<circle cx="446.06" cy="89.63" r="2.0" fill="#27aae1"/>
<circle cx="444.33" cy="78.41" r="2.0" fill="#27aae1"/>
<circle cx="445.85" cy="97.25" r="2.0" fill="#27aae1"/>
<circle cx="448.01" cy="90.64" r="2.0" fill="#27aae1"/>
<circle cx="444.05" cy="88.73" r="2.0" fill="#27aae1"/>
<circle cx="444.88" cy="76.27" r="2.0" fill="#27aae1"/>
<circle cx="443.94" cy="102.62" r="2.0" fill="#27aae1"/>
<circle cx="443.00" cy="95.68" r="2.0" fill="#27aae1"/>
<circle cx="444.08" cy="70.95" r="2.0" fill="#27aae1"/>
<circle cx="442.70" cy="76.61" r="2.0" fill="#27aae1"/>
<circle cx="441.96" cy="83.99" r="2.0" fill="#27aae1"/>
<circle cx="445.58" cy="101.15" r="2.0" fill="#27aae1"/>
<circle cx="443.99" cy="109.72" r="2.0" fill="#27aae1"/>
<circle cx="440.92" cy="89.41" r="2.0" fill="#27aae1"/>
<circle cx="442.22" cy="79.01" r="2.0" fill="#27aae1"/>
<circle cx="445.81" cy="82.83" r="2.0" fill="#27aae1"/>
<circle cx="446.37" cy="95.11" r="2.0" fill="#27aae1"/>
<circle cx="440.99" cy="96.58" r="2.0" fill="#27aae1"/>
<circle cx="446.04" cy="85.36" r="2.0" fill="#27aae1"/>
<circle cx="445.02" cy="80.50" r="2.0" fill="#27aae1"/>
<circle cx="446.52" cy="78.13" r="2.0" fill="#27aae1"/>
<circle cx="440.97" cy="92.95" r="2.0" fill="#27aae1"/>
<circle cx="442.83" cy="100.72" r="2.0" fill="#27aae1"/>
<circle cx="447.16" cy="80.99" r="2.0" fill="#27aae1"/>
<circle cx="447.61" cy="93.30" r="2.0" fill="#27aae1"/>
<circle cx="449.72" cy="92.02" r="2.0" fill="#27aae1"/>
<circle cx="444.25" cy="66.03" r="2.0" fill="#27aae1"/>
<circle cx="448.10" cy="82.98" r="2.0" fill="#27aae1"/>
<circle cx="438.83" cy="92.43" r="2.0" fill="#27aae1"/>
<circle cx="447.22" cy="99.69" r="2.0" fill="#27aae1"/>
<circle cx="436.70" cy="91.86" r="2.0" fill="#27aae1"/>
<circle cx="446.18" cy="109.47" r="2.0" fill="#27aae1"/>
<circle cx="439.80" cy="83.57" r="2.0" fill="#27aae1"/>
<circle cx="448.24" cy="85.42" r="2.0" fill="#27aae1"/>
<circle cx="441.35" cy="98.75" r="2.0" fill="#27aae1"/>
<circle cx="451.87" cy="91.56" r="2.0" fill="#27aae1"/>
<circle cx="449.49" cy="94.43" r="2.0" fill="#27aae1"/>
<circle cx="440.64" cy="77.36" r="2.0" fill="#27aae1"/>
<circle cx="453.81" cy="92.61" r="2.0" fill="#27aae1"/>
<circle cx="442.67" cy="86.07" r="2.0" fill="#27aae1"/>
<circle cx="448.05" cy="97.24" r="2.0" fill="#27aae1"/>
<circle cx="446.78" cy="87.55" r="2.0" fill="#27aae1"/>
<circle cx="445.96" cy="103.50" r="2.0" fill="#27aae1"/>
<circle cx="447.87" cy="76.40" r="2.0" fill="#27aae1"/>
<circle cx="435.24" cy="93.51" r="2.0" fill="#27aae1"/>
<circle cx="440.11" cy="79.63" r="2.0" fill="#27aae1"/>
<circle cx="444.13" cy="105.33" r="2.0" fill="#27aae1"/>
<circle cx="447.39" cy="92.53" r="2.0" fill="#27aae1"/>
<circle cx="439.17" cy="98.42" r="2.0" fill="#27aae1"/>
<circle cx="438.49" cy="77.82" r="2.0" fill="#27aae1"/>
<circle cx="445.26" cy="91.58" r="2.0" fill="#27aae1"/>
<circle cx="444.42" cy="68.46" r="2.0" fill="#27aae1"/>
<circle cx="438.04" cy="96.53" r="2.0" fill="#27aae1"/>
<circle cx="441.91" cy="103.47" r="2.0" fill="#27aae1"/>
<circle cx="440.67" cy="93.33" r="2.0" fill="#27aae1"/>
<circle cx="453.18" cy="92.75" r="2.0" fill="#27aae1"/>
<circle cx="445.16" cy="110.62" r="2.0" fill="#27aae1"/>
<circle cx="450.52" cy="96.38" r="2.0" fill="#27aae1"/>
<circle cx="449.35" cy="80.77" r="2.0" fill="#27aae1"/>
<circle cx="446.13" cy="106.26" r="2.0" fill="#27aae1"/>
<circle cx="443.91" cy="59.93" r="2.0" fill="#27aae1"/>
<circle cx="438.11" cy="80.55" r="2.0" fill="#27aae1"/>
<circle cx="438.45" cy="80.28" r="2.0" fill="#27aae1"/>
<circle cx="443.84" cy="74.33" r="2.0" fill="#27aae1"/>
<circle cx="438.73" cy="89.47" r="2.0" fill="#27aae1"/>
<circle cx="446.16" cy="74.49" r="2.0" fill="#27aae1"/>
<circle cx="452.62" cy="90.74" r="2.0" fill="#27aae1"/>
<circle cx="451.84" cy="94.62" r="2.0" fill="#27aae1"/>
<circle cx="436.12" cy="97.61" r="2.0" fill="#27aae1"/>
<circle cx="443.43" cy="90.83" r="2.0" fill="#27aae1"/>
<circle cx="440.64" cy="100.92" r="2.0" fill="#27aae1"/>
<circle cx="449.30" cy="100.43" r="2.0" fill="#27aae1"/>
<circle cx="448.05" cy="104.21" r="2.0" fill="#27aae1"/>
<circle cx="435.65" cy="89.93" r="2.0" fill="#27aae1"/>
<circle cx="447.02" cy="76.24" r="2.0" fill="#27aae1"/>
<circle cx="436.36" cy="94.00" r="2.0" fill="#27aae1"/>
<circle cx="440.01" cy="79.95" r="2.0" fill="#27aae1"/>
<circle cx="452.49" cy="97.34" r="2.0" fill="#27aae1"/>
<circle cx="447.39" cy="80.54" r="2.0" fill="#27aae1"/>
<circle cx="439.09" cy="102.48" r="2.0" fill="#27aae1"/>
<circle cx="453.96" cy="95.20" r="2.0" fill="#27aae1"/>
<circle cx="450.31" cy="102.38" r="2.0" fill="#27aae1"/>
<circle cx="446.85" cy="77.08" r="2.0" fill="#27aae1"/>
<circle cx="450.22" cy="83.56" r="2.0" fill="#27aae1"/>
<circle cx="449.29" cy="91.83" r="2.0" fill="#27aae1"/>
<circle cx="440.47" cy="86.15" r="2.0" fill="#27aae1"/>
<circle cx="450.55" cy="98.62" r="2.0" fill="#27aae1"/>
<circle cx="438.36" cy="85.53" r="2.0" fill="#27aae1"/>
<circle cx="446.93" cy="94.09" r="2.0" fill="#27aae1"/>
<circle cx="448.03" cy="96.99" r="2.0" fill="#27aae1"/>
<circle cx="449.38" cy="77.99" r="2.0" fill="#27aae1"/>
<circle cx="445.29" cy="78.08" r="2.0" fill="#27aae1"/>
<circle cx="450.18" cy="86.47" r="2.0" fill="#27aae1"/>
<circle cx="442.61" cy="80.61" r="2.0" fill="#27aae1"/>
<circle cx="451.03" cy="96.67" r="2.0" fill="#27aae1"/>
<circle cx="437.47" cy="87.67" r="2.0" fill="#27aae1"/>
<circle cx="440.45" cy="84.79" r="2.0" fill="#27aae1"/>
<circle cx="446.21" cy="71.52" r="2.0" fill="#27aae1"/>
<circle cx="440.09" cy="104.70" r="2.0" fill="#27aae1"/>
<circle cx="451.32" cy="86.01" r="2.0" fill="#27aae1"/>
<circle cx="440.46" cy="84.74" r="2.0" fill="#27aae1"/>
<circle cx="436.97" cy="90.56" r="2.0" fill="#27aae1"/>
<circle cx="442.16" cy="98.13" r="2.0" fill="#27aae1"/>
<circle cx="434.87" cy="94.29" r="2.0" fill="#27aae1"/>
<circle cx="448.70" cy="76.42" r="2.0" fill="#27aae1"/>
<circle cx="437.55" cy="99.90" r="2.0" fill="#27aae1"/>
<circle cx="445.19" cy="61.72" r="2.0" fill="#27aae1"/>
<circle cx="444.91" cy="99.67" r="2.0" fill="#27aae1"/>
<circle cx="448.68" cy="85.66" r="2.0" fill="#27aae1"/>
<circle cx="449.28" cy="88.85" r="2.0" fill="#27aae1"/>
<circle cx="438.44" cy="97.11" r="2.0" fill="#27aae1"/>
<circle cx="441.84" cy="73.43" r="2.0" fill="#27aae1"/>
<circle cx="452.79" cy="97.94" r="2.0" fill="#27aae1"/>
<circle cx="444.30" cy="81.30" r="2.0" fill="#27aae1"/>
<circle cx="448.06" cy="103.78" r="2.0" fill="#27aae1"/>
<circle cx="442.37" cy="106.64" r="2.0" fill="#27aae1"/>
<circle cx="443.46" cy="95.13" r="2.0" fill="#27aae1"/>
<circle cx="453.99" cy="95.45" r="2.0" fill="#27aae1"/>
<circle cx="444.75" cy="94.68" r="2.0" fill="#27aae1"/>
<circle cx="439.86" cy="95.39" r="2.0" fill="#27aae1"/>
<circle cx="437.80" cy="94.48" r="2.0" fill="#27aae1"/>
<circle cx="449.67" cy="99.94" r="2.0" fill="#27aae1"/>
<circle cx="448.47" cy="86.60" r="2.0" fill="#27aae1"/>
<circle cx="442.95" cy="86.96" r="2.0" fill="#27aae1"/>
<circle cx="449.95" cy="95.39" r="2.0" fill="#27aae1"/>
<circle cx="442.28" cy="107.76" r="2.0" fill="#27aae1"/>
<circle cx="449.24" cy="78.92" r="2.0" fill="#27aae1"/>
<circle cx="448.31" cy="84.51" r="2.0" fill="#27aae1"/>
<circle cx="449.70" cy="93.86" r="2.0" fill="#27aae1"/>
<circle cx="442.00" cy="107.14" r="2.0" fill="#27aae1"/>
<circle cx="448.19" cy="73.64" r="2.0" fill="#27aae1"/>
<circle cx="444.90" cy="91.09" r="2.0" fill="#27aae1"/>
<circle cx="442.40" cy="69.53" r="2.0" fill="#27aae1"/>
<circle cx="446.95" cy="73.49" r="2.0" fill="#27aae1"/>
<circle cx="443.46" cy="91.09" r="2.0" fill="#27aae1"/>
<circle cx="438.10" cy="99.54" r="2.0" fill="#27aae1"/>
<circle cx="442.11" cy="101.60" r="2.0" fill="#27aae1"/>
<circle cx="444.28" cy="60.38" r="2.0" fill="#27aae1"/>
<circle cx="447.74" cy="77.57" r="2.0" fill="#27aae1"/>
<circle cx="443.60" cy="79.74" r="2.0" fill="#27aae1"/>
<circle cx="443.28" cy="62.80" r="2.0" fill="#27aae1"/>
<circle cx="443.45" cy="68.91" r="2.0" fill="#27aae1"/>
<circle cx="448.93" cy="103.80" r="2.0" fill="#27aae1"/>
<circle cx="439.12" cy="103.29" r="2.0" fill="#27aae1"/>
<circle cx="438.77" cy="85.36" r="2.0" fill="#27aae1"/>
<circle cx="446.74" cy="105.09" r="2.0" fill="#27aae1"/>
<circle cx="446.73" cy="69.38" r="2.0" fill="#27aae1"/>
<circle cx="449.77" cy="94.60" r="2.0" fill="#27aae1"/>
<circle cx="435.32" cy="95.23" r="2.0" fill="#27aae1"/>
<circle cx="442.54" cy="106.47" r="2.0" fill="#27aae1"/>
<circle cx="444.84" cy="97.71" r="2.0" fill="#27aae1"/>
<circle cx="450.77" cy="100.05" r="2.0" fill="#27aae1"/>
<circle cx="447.05" cy="101.34" r="2.0" fill="#27aae1"/>
<circle cx="440.47" cy="99.21" r="2.0" fill="#27aae1"/>
<circle cx="439.46" cy="75.49" r="2.0" fill="#27aae1"/>
<circle cx="439.28" cy="102.77" r="2.0" fill="#27aae1"/>
<circle cx="443.32" cy="111.82" r="2.0" fill="#27aae1"/>
<circle cx="448.20" cy="101.30" r="2.0" fill="#27aae1"/>
<circle cx="442.61" cy="67.48" r="2.0" fill="#27aae1"/>
<circle cx="443.94" cy="103.40" r="2.0" fill="#27aae1"/>
<circle cx="440.03" cy="102.49" r="2.0" fill="#27aae1"/>
<circle cx="442.13" cy="95.12" r="2.0" fill="#27aae1"/>
<circle cx="439.10" cy="80.27" r="2.0" fill="#27aae1"/>
<circle cx="440.63" cy="77.76" r="2.0" fill="#27aae1"/>
<circle cx="437.24" cy="99.93" r="2.0" fill="#27aae1"/>
<circle cx="444.20" cy="53.50" r="2.0" fill="#27aae1"/>
<circle cx="444.20" cy="58.50" r="2.0" fill="#27aae1"/>
<circle cx="444.20" cy="119.00" r="2.0" fill="#27aae1"/>
<circle cx="493.50" cy="104.59" r="2.0" fill="#ec008c"/>
<circle cx="493.37" cy="85.15" r="2.0" fill="#ec008c"/>
<circle cx="493.22" cy="93.64" r="2.0" fill="#ec008c"/>
<circle cx="495.57" cy="106.17" r="2.0" fill="#ec008c"/>
<circle cx="495.62" cy="94.64" r="2.0" fill="#ec008c"/>
<circle cx="493.61" cy="88.58" r="2.0" fill="#ec008c"/>
<circle cx="491.21" cy="87.56" r="2.0" fill="#ec008c"/>
<circle cx="493.40" cy="101.56" r="2.0" fill="#ec008c"/>
<circle cx="496.20" cy="88.73" r="2.0" fill="#ec008c"/>
<circle cx="491.22" cy="100.14" r="2.0" fill="#ec008c"/>
<circle cx="488.77" cy="88.47" r="2.0" fill="#ec008c"/>
<circle cx="491.88" cy="90.53" r="2.0" fill="#ec008c"/>
<circle cx="493.61" cy="96.29" r="2.0" fill="#ec008c"/>
<circle cx="490.63" cy="92.80" r="2.0" fill="#ec008c"/>
<circle cx="498.05" cy="93.72" r="2.0" fill="#ec008c"/>
<circle cx="495.99" cy="97.34" r="2.0" fill="#ec008c"/>
<circle cx="488.10" cy="92.20" r="2.0" fill="#ec008c"/>
<circle cx="495.97" cy="85.25" r="2.0" fill="#ec008c"/>
<circle cx="493.30" cy="107.43" r="2.0" fill="#ec008c"/>
<circle cx="488.95" cy="94.79" r="2.0" fill="#ec008c"/>
<circle cx="493.31" cy="67.84" r="2.0" fill="#ec008c"/>
<circle cx="498.79" cy="88.97" r="2.0" fill="#ec008c"/>
<circle cx="493.73" cy="73.22" r="2.0" fill="#ec008c"/>
<circle cx="493.56" cy="77.35" r="2.0" fill="#ec008c"/>
<circle cx="494.34" cy="72.65" r="2.0" fill="#ec008c"/>
<circle cx="491.01" cy="103.85" r="2.0" fill="#ec008c"/>
<circle cx="494.41" cy="91.12" r="2.0" fill="#ec008c"/>
<circle cx="493.76" cy="80.74" r="2.0" fill="#ec008c"/>
<circle cx="486.36" cy="95.03" r="2.0" fill="#ec008c"/>
<circle cx="489.81" cy="97.96" r="2.0" fill="#ec008c"/>
<circle cx="493.86" cy="76.46" r="2.0" fill="#ec008c"/>
<circle cx="497.16" cy="86.62" r="2.0" fill="#ec008c"/>
<circle cx="500.47" cy="92.76" r="2.0" fill="#ec008c"/>
<circle cx="491.70" cy="72.66" r="2.0" fill="#ec008c"/>
<circle cx="497.01" cy="91.30" r="2.0" fill="#ec008c"/>
<circle cx="491.08" cy="83.91" r="2.0" fill="#ec008c"/>
<circle cx="495.84" cy="100.67" r="2.0" fill="#ec008c"/>
<circle cx="498.55" cy="96.91" r="2.0" fill="#ec008c"/>
<circle cx="492.57" cy="68.91" r="2.0" fill="#ec008c"/>
<circle cx="501.11" cy="96.44" r="2.0" fill="#ec008c"/>
<circle cx="492.97" cy="66.64" r="2.0" fill="#ec008c"/>
<circle cx="483.80" cy="95.46" r="2.0" fill="#ec008c"/>
<circle cx="495.26" cy="69.55" r="2.0" fill="#ec008c"/>
<circle cx="494.04" cy="95.61" r="2.0" fill="#ec008c"/>
<circle cx="493.11" cy="87.51" r="2.0" fill="#ec008c"/>
<circle cx="498.32" cy="101.43" r="2.0" fill="#ec008c"/>
<circle cx="487.46" cy="99.08" r="2.0" fill="#ec008c"/>
<circle cx="493.28" cy="68.22" r="2.0" fill="#ec008c"/>
<circle cx="488.86" cy="102.39" r="2.0" fill="#ec008c"/>
<circle cx="500.93" cy="95.32" r="2.0" fill="#ec008c"/>
<circle cx="493.87" cy="90.05" r="2.0" fill="#ec008c"/>
<circle cx="486.39" cy="101.45" r="2.0" fill="#ec008c"/>
<circle cx="500.41" cy="99.89" r="2.0" fill="#ec008c"/>
<circle cx="502.04" cy="99.23" r="2.0" fill="#ec008c"/>
<circle cx="503.19" cy="96.02" r="2.0" fill="#ec008c"/>
<circle cx="501.43" cy="94.55" r="2.0" fill="#ec008c"/>
<circle cx="485.51" cy="91.98" r="2.0" fill="#ec008c"/>
<circle cx="491.24" cy="80.08" r="2.0" fill="#ec008c"/>
<circle cx="496.27" cy="92.03" r="2.0" fill="#ec008c"/>
<circle cx="488.57" cy="93.74" r="2.0" fill="#ec008c"/>
<circle cx="495.32" cy="100.18" r="2.0" fill="#ec008c"/>
<circle cx="493.50" cy="70.62" r="2.0" fill="#ec008c"/>
<circle cx="493.24" cy="65.09" r="2.0" fill="#ec008c"/>
<circle cx="494.64" cy="105.77" r="2.0" fill="#ec008c"/>
<circle cx="499.04" cy="100.30" r="2.0" fill="#ec008c"/>
<circle cx="494.60" cy="77.29" r="2.0" fill="#ec008c"/>
<circle cx="498.88" cy="93.25" r="2.0" fill="#ec008c"/>
<circle cx="500.47" cy="91.00" r="2.0" fill="#ec008c"/>
<circle cx="485.25" cy="97.71" r="2.0" fill="#ec008c"/>
<circle cx="487.75" cy="100.68" r="2.0" fill="#ec008c"/>
<circle cx="487.70" cy="95.50" r="2.0" fill="#ec008c"/>
<circle cx="497.19" cy="104.13" r="2.0" fill="#ec008c"/>
<circle cx="493.51" cy="95.27" r="2.0" fill="#ec008c"/>
<circle cx="494.49" cy="83.45" r="2.0" fill="#ec008c"/>
<circle cx="492.93" cy="80.86" r="2.0" fill="#ec008c"/>
<circle cx="489.11" cy="87.33" r="2.0" fill="#ec008c"/>
<circle cx="493.97" cy="65.75" r="2.0" fill="#ec008c"/>
<circle cx="495.85" cy="95.46" r="2.0" fill="#ec008c"/>
<circle cx="493.96" cy="104.51" r="2.0" fill="#ec008c"/>
<circle cx="493.41" cy="96.64" r="2.0" fill="#ec008c"/>
<circle cx="494.16" cy="65.20" r="2.0" fill="#ec008c"/>
<circle cx="488.97" cy="89.69" r="2.0" fill="#ec008c"/>
<circle cx="490.31" cy="99.99" r="2.0" fill="#ec008c"/>
<circle cx="496.35" cy="83.56" r="2.0" fill="#ec008c"/>
<circle cx="492.80" cy="67.22" r="2.0" fill="#ec008c"/>
<circle cx="493.50" cy="58.70" r="2.0" fill="#ec008c"/>
<line x1="370.70" y1="86.30" x2="528.30" y2="86.30" stroke="#808285" stroke-width="1.0" stroke-dasharray="12.8 8.6"/>
<line x1="394.30" y1="83.40" x2="394.30" y2="89.40" stroke="#231f20" stroke-width="1.5" />
<line x1="392.60" y1="83.40" x2="396.00" y2="83.40" stroke="#231f20" stroke-width="1.3" />
<line x1="392.60" y1="89.40" x2="396.00" y2="89.40" stroke="#231f20" stroke-width="1.3" />
<circle cx="394.30" cy="86.40" r="1.2" fill="#231f20"/>
<line x1="444.20" y1="87.50" x2="444.20" y2="92.50" stroke="#231f20" stroke-width="1.5" />
<line x1="442.50" y1="87.50" x2="445.90" y2="87.50" stroke="#231f20" stroke-width="1.3" />
<line x1="442.50" y1="92.50" x2="445.90" y2="92.50" stroke="#231f20" stroke-width="1.3" />
<circle cx="444.20" cy="90.00" r="1.2" fill="#231f20"/>
<line x1="493.50" y1="89.40" x2="493.50" y2="95.40" stroke="#231f20" stroke-width="1.5" />
<line x1="491.80" y1="89.40" x2="495.20" y2="89.40" stroke="#231f20" stroke-width="1.3" />
<line x1="491.80" y1="95.40" x2="495.20" y2="95.40" stroke="#231f20" stroke-width="1.3" />
<circle cx="493.50" cy="92.40" r="1.2" fill="#231f20"/>
<line x1="370.70" y1="39.60" x2="370.70" y2="129.30" stroke="#6d6e71" stroke-width="1.0" />
<line x1="370.20" y1="129.30" x2="528.30" y2="129.30" stroke="#6d6e71" stroke-width="1.0" />
<line x1="394.30" y1="129.30" x2="394.30" y2="126.80" stroke="#8a8a8a" stroke-width="0.9" />
<line x1="444.20" y1="129.30" x2="444.20" y2="126.80" stroke="#8a8a8a" stroke-width="0.9" />
<line x1="493.50" y1="129.30" x2="493.50" y2="126.80" stroke="#8a8a8a" stroke-width="0.9" />
<line x1="370.70" y1="43.80" x2="373.20" y2="43.80" stroke="#8a8a8a" stroke-width="0.9" />
<text x="369.50" y="48.99" font-size="14.5" fill="#58595b" text-anchor="end" textLength="16.5" lengthAdjust="spacingAndGlyphs">100</text>
<line x1="370.70" y1="65.00" x2="373.20" y2="65.00" stroke="#8a8a8a" stroke-width="0.9" />
<text x="369.50" y="70.19" font-size="14.5" fill="#58595b" text-anchor="end" textLength="11" lengthAdjust="spacingAndGlyphs">50</text>
<line x1="370.70" y1="86.00" x2="373.20" y2="86.00" stroke="#8a8a8a" stroke-width="0.9" />
<text x="369.50" y="91.19" font-size="14.5" fill="#58595b" text-anchor="end" textLength="5.3" lengthAdjust="spacingAndGlyphs">0</text>
<line x1="370.70" y1="107.40" x2="373.20" y2="107.40" stroke="#8a8a8a" stroke-width="0.9" />
<text x="369.50" y="112.59" font-size="14.5" fill="#58595b" text-anchor="end" textLength="15.2" lengthAdjust="spacingAndGlyphs">-50</text>
<line x1="370.70" y1="127.60" x2="373.20" y2="127.60" stroke="#8a8a8a" stroke-width="0.9" />
<text x="369.50" y="132.79" font-size="14.5" fill="#58595b" text-anchor="end" textLength="21" lengthAdjust="spacingAndGlyphs">-100</text>
<text x="314.20" y="93.65" font-size="15.5" fill="#231f20" text-anchor="middle" textLength="93.8" lengthAdjust="spacingAndGlyphs" transform="rotate(-90 314.20 88.10)">Waking Activity</text>
<text x="330.00" y="93.05" font-size="15.5" fill="#231f20" text-anchor="middle" textLength="60.4" lengthAdjust="spacingAndGlyphs" transform="rotate(-90 330.00 87.50)">(%ΔWT)</text>
<line x1="370.60" y1="153.60" x2="529.00" y2="153.60" stroke="#5ab4ea" stroke-width="1.0" stroke-dasharray="1.1 4.25" stroke-dashoffset="-2.1"/>
<circle cx="394.70" cy="154.60" r="2.5" fill="#231f20"/>
<line x1="444.00" y1="161.00" x2="444.00" y2="202.20" stroke="#58595b" stroke-width="1.1" />
<line x1="442.60" y1="161.00" x2="445.40" y2="161.00" stroke="#231f20" stroke-width="1.3" />
<line x1="442.60" y1="202.20" x2="445.40" y2="202.20" stroke="#231f20" stroke-width="1.3" />
<circle cx="444.00" cy="180.70" r="3.5" fill="#231f20"/>
<line x1="493.70" y1="173.30" x2="493.70" y2="221.40" stroke="#58595b" stroke-width="1.1" />
<line x1="492.30" y1="173.30" x2="495.10" y2="173.30" stroke="#231f20" stroke-width="1.3" />
<line x1="492.30" y1="221.40" x2="495.10" y2="221.40" stroke="#231f20" stroke-width="1.3" />
<circle cx="493.70" cy="197.40" r="3.5" fill="#231f20"/>
<line x1="370.60" y1="147.20" x2="370.60" y2="227.90" stroke="#6d6e71" stroke-width="1.0" />
<line x1="370.10" y1="227.90" x2="529.00" y2="227.90" stroke="#6d6e71" stroke-width="1.0" />
<line x1="394.70" y1="227.90" x2="394.70" y2="225.40" stroke="#8a8a8a" stroke-width="0.9" />
<line x1="444.00" y1="227.90" x2="444.00" y2="225.40" stroke="#8a8a8a" stroke-width="0.9" />
<line x1="493.70" y1="227.90" x2="493.70" y2="225.40" stroke="#8a8a8a" stroke-width="0.9" />
<text x="369.40" y="156.90" font-size="14.8" fill="#58595b" text-anchor="end" textLength="5.5" lengthAdjust="spacingAndGlyphs">0</text>
<line x1="370.60" y1="151.60" x2="373.10" y2="151.60" stroke="#8a8a8a" stroke-width="0.9" />
<text x="369.40" y="173.60" font-size="14.8" fill="#58595b" text-anchor="end" textLength="10.5" lengthAdjust="spacingAndGlyphs">-5</text>
<line x1="370.60" y1="168.30" x2="373.10" y2="168.30" stroke="#8a8a8a" stroke-width="0.9" />
<text x="369.40" y="189.80" font-size="14.8" fill="#58595b" text-anchor="end" textLength="15.8" lengthAdjust="spacingAndGlyphs">-10</text>
<line x1="370.60" y1="184.50" x2="373.10" y2="184.50" stroke="#8a8a8a" stroke-width="0.9" />
<text x="369.40" y="206.10" font-size="14.8" fill="#58595b" text-anchor="end" textLength="16" lengthAdjust="spacingAndGlyphs">-15</text>
<line x1="370.60" y1="200.80" x2="373.10" y2="200.80" stroke="#8a8a8a" stroke-width="0.9" />
<text x="369.40" y="222.80" font-size="14.8" fill="#58595b" text-anchor="end" textLength="16.5" lengthAdjust="spacingAndGlyphs">-20</text>
<line x1="370.60" y1="217.50" x2="373.10" y2="217.50" stroke="#8a8a8a" stroke-width="0.9" />
<text x="315.00" y="198.35" font-size="15.5" fill="#231f20" text-anchor="middle" textLength="66.3" lengthAdjust="spacingAndGlyphs" transform="rotate(-90 315.00 192.80)">Effect Size</text>
<text x="329.30" y="198.25" font-size="15.5" fill="#231f20" text-anchor="middle" textLength="21.4" lengthAdjust="spacingAndGlyphs" transform="rotate(-90 329.30 192.70)">(%)</text>
<text x="354.20" y="243.40" font-size="14" fill="#231f20" text-anchor="middle" font-style="italic" textLength="33" lengthAdjust="spacingAndGlyphs">appb</text>
<text x="390.30" y="243.40" font-size="14" fill="#231f20" text-anchor="middle" textLength="21" lengthAdjust="spacingAndGlyphs">+/+</text>
<text x="444.00" y="243.40" font-size="14" fill="#231f20" text-anchor="middle" textLength="17" lengthAdjust="spacingAndGlyphs">+/-</text>
<text x="495.30" y="243.40" font-size="14" fill="#231f20" text-anchor="middle" textLength="14" lengthAdjust="spacingAndGlyphs">-/-</text>
<text x="359.30" y="258.30" font-size="14" fill="#231f20" text-anchor="middle" textLength="14.6" lengthAdjust="spacingAndGlyphs">n=</text>
<text x="389.90" y="258.30" font-size="14" fill="#231f20" text-anchor="middle" textLength="19.3" lengthAdjust="spacingAndGlyphs">111</text>
<text x="443.50" y="258.30" font-size="14" fill="#231f20" text-anchor="middle" textLength="20" lengthAdjust="spacingAndGlyphs">211</text>
<text x="497.90" y="258.30" font-size="14" fill="#231f20" text-anchor="middle" textLength="14" lengthAdjust="spacingAndGlyphs">94</text>
<text x="547.50" y="13.53" font-size="13.5" fill="#000" text-anchor="middle" font-weight="bold">C</text>
<text x="654.70" y="10.81" font-size="14" fill="#231f20" text-anchor="middle">NIGHT</text>
<line x1="597.60" y1="32.00" x2="713.60" y2="32.00" stroke="#5d5d5f" stroke-width="1.1" />
<text x="653.90" y="38.20" font-size="17" fill="#231f20" text-anchor="middle" font-weight="bold">**</text>
<line x1="597.60" y1="46.00" x2="651.80" y2="46.00" stroke="#5d5d5f" stroke-width="1.1" />
<text x="623.80" y="44.26" font-size="13.3" fill="#231f20" text-anchor="middle" textLength="11.3" lengthAdjust="spacingAndGlyphs">ns</text>
<circle cx="597.61" cy="93.26" r="1.6" fill="#6d6e71" stroke="#fff" stroke-width="0.3"/>
<circle cx="596.50" cy="90.90" r="1.6" fill="#6d6e71" stroke="#fff" stroke-width="0.3"/>
<circle cx="597.63" cy="87.39" r="1.6" fill="#6d6e71" stroke="#fff" stroke-width="0.3"/>
<circle cx="597.88" cy="81.64" r="1.6" fill="#6d6e71" stroke="#fff" stroke-width="0.3"/>
<circle cx="597.43" cy="98.84" r="1.6" fill="#6d6e71" stroke="#fff" stroke-width="0.3"/>
<circle cx="595.03" cy="93.57" r="1.6" fill="#6d6e71" stroke="#fff" stroke-width="0.3"/>
<circle cx="599.05" cy="95.42" r="1.6" fill="#6d6e71" stroke="#fff" stroke-width="0.3"/>
<circle cx="597.56" cy="78.22" r="1.6" fill="#6d6e71" stroke="#fff" stroke-width="0.3"/>
<circle cx="597.70" cy="84.70" r="1.6" fill="#6d6e71" stroke="#fff" stroke-width="0.3"/>
<circle cx="595.35" cy="82.23" r="1.6" fill="#6d6e71" stroke="#fff" stroke-width="0.3"/>
<circle cx="597.46" cy="113.16" r="1.6" fill="#6d6e71" stroke="#fff" stroke-width="0.3"/>
<circle cx="595.12" cy="97.65" r="1.6" fill="#6d6e71" stroke="#fff" stroke-width="0.3"/>
<circle cx="599.67" cy="91.67" r="1.6" fill="#6d6e71" stroke="#fff" stroke-width="0.3"/>
<circle cx="600.07" cy="80.23" r="1.6" fill="#6d6e71" stroke="#fff" stroke-width="0.3"/>
<circle cx="600.89" cy="97.26" r="1.6" fill="#6d6e71" stroke="#fff" stroke-width="0.3"/>
<circle cx="597.60" cy="118.93" r="1.6" fill="#6d6e71" stroke="#fff" stroke-width="0.3"/>
<circle cx="592.53" cy="97.88" r="1.6" fill="#6d6e71" stroke="#fff" stroke-width="0.3"/>
<circle cx="597.64" cy="107.74" r="1.6" fill="#6d6e71" stroke="#fff" stroke-width="0.3"/>
<circle cx="600.39" cy="89.17" r="1.6" fill="#6d6e71" stroke="#fff" stroke-width="0.3"/>
<circle cx="599.59" cy="100.28" r="1.6" fill="#6d6e71" stroke="#fff" stroke-width="0.3"/>
<circle cx="600.30" cy="84.71" r="1.6" fill="#6d6e71" stroke="#fff" stroke-width="0.3"/>
<circle cx="595.28" cy="85.64" r="1.6" fill="#6d6e71" stroke="#fff" stroke-width="0.3"/>
<circle cx="602.60" cy="99.22" r="1.6" fill="#6d6e71" stroke="#fff" stroke-width="0.3"/>
<circle cx="597.73" cy="102.09" r="1.6" fill="#6d6e71" stroke="#fff" stroke-width="0.3"/>
<circle cx="594.60" cy="88.15" r="1.6" fill="#6d6e71" stroke="#fff" stroke-width="0.3"/>
<circle cx="600.23" cy="107.52" r="1.6" fill="#6d6e71" stroke="#fff" stroke-width="0.3"/>
<circle cx="593.03" cy="95.23" r="1.6" fill="#6d6e71" stroke="#fff" stroke-width="0.3"/>
<circle cx="590.51" cy="99.52" r="1.6" fill="#6d6e71" stroke="#fff" stroke-width="0.3"/>
<circle cx="599.20" cy="76.21" r="1.6" fill="#6d6e71" stroke="#fff" stroke-width="0.3"/>
<circle cx="592.82" cy="84.79" r="1.6" fill="#6d6e71" stroke="#fff" stroke-width="0.3"/>
<circle cx="598.73" cy="120.03" r="1.6" fill="#6d6e71" stroke="#fff" stroke-width="0.3"/>
<circle cx="602.29" cy="81.59" r="1.6" fill="#6d6e71" stroke="#fff" stroke-width="0.3"/>
<circle cx="594.96" cy="78.34" r="1.6" fill="#6d6e71" stroke="#fff" stroke-width="0.3"/>
<circle cx="595.36" cy="100.41" r="1.6" fill="#6d6e71" stroke="#fff" stroke-width="0.3"/>
<circle cx="602.64" cy="87.87" r="1.6" fill="#6d6e71" stroke="#fff" stroke-width="0.3"/>
<circle cx="593.44" cy="80.44" r="1.6" fill="#6d6e71" stroke="#fff" stroke-width="0.3"/>
<circle cx="598.44" cy="119.84" r="1.6" fill="#6d6e71" stroke="#fff" stroke-width="0.3"/>
<circle cx="601.32" cy="94.16" r="1.6" fill="#6d6e71" stroke="#fff" stroke-width="0.3"/>
<circle cx="594.92" cy="112.61" r="1.6" fill="#6d6e71" stroke="#fff" stroke-width="0.3"/>
<circle cx="592.01" cy="87.97" r="1.6" fill="#6d6e71" stroke="#fff" stroke-width="0.3"/>
<circle cx="596.87" cy="75.05" r="1.6" fill="#6d6e71" stroke="#fff" stroke-width="0.3"/>
<circle cx="592.68" cy="79.91" r="1.6" fill="#6d6e71" stroke="#fff" stroke-width="0.3"/>
<circle cx="604.10" cy="97.10" r="1.6" fill="#6d6e71" stroke="#fff" stroke-width="0.3"/>
<circle cx="602.84" cy="84.18" r="1.6" fill="#6d6e71" stroke="#fff" stroke-width="0.3"/>
<circle cx="589.50" cy="88.66" r="1.6" fill="#6d6e71" stroke="#fff" stroke-width="0.3"/>
<circle cx="595.86" cy="103.90" r="1.6" fill="#6d6e71" stroke="#fff" stroke-width="0.3"/>
<circle cx="590.84" cy="83.11" r="1.6" fill="#6d6e71" stroke="#fff" stroke-width="0.3"/>
<circle cx="603.53" cy="92.80" r="1.6" fill="#6d6e71" stroke="#fff" stroke-width="0.3"/>
<circle cx="593.91" cy="91.16" r="1.6" fill="#6d6e71" stroke="#fff" stroke-width="0.3"/>
<circle cx="600.03" cy="103.31" r="1.6" fill="#6d6e71" stroke="#fff" stroke-width="0.3"/>
<circle cx="594.32" cy="75.55" r="1.6" fill="#6d6e71" stroke="#fff" stroke-width="0.3"/>
<circle cx="601.93" cy="78.42" r="1.6" fill="#6d6e71" stroke="#fff" stroke-width="0.3"/>
<circle cx="597.68" cy="75.42" r="1.6" fill="#6d6e71" stroke="#fff" stroke-width="0.3"/>
<circle cx="605.44" cy="83.96" r="1.6" fill="#6d6e71" stroke="#fff" stroke-width="0.3"/>
<circle cx="604.78" cy="89.34" r="1.6" fill="#6d6e71" stroke="#fff" stroke-width="0.3"/>
<circle cx="591.68" cy="92.49" r="1.6" fill="#6d6e71" stroke="#fff" stroke-width="0.3"/>
<circle cx="590.46" cy="94.83" r="1.6" fill="#6d6e71" stroke="#fff" stroke-width="0.3"/>
<circle cx="599.48" cy="80.63" r="1.6" fill="#6d6e71" stroke="#fff" stroke-width="0.3"/>
<circle cx="598.15" cy="105.13" r="1.6" fill="#6d6e71" stroke="#fff" stroke-width="0.3"/>
<circle cx="604.14" cy="83.43" r="1.6" fill="#6d6e71" stroke="#fff" stroke-width="0.3"/>
<circle cx="593.30" cy="104.35" r="1.6" fill="#6d6e71" stroke="#fff" stroke-width="0.3"/>
<circle cx="595.81" cy="83.79" r="1.6" fill="#6d6e71" stroke="#fff" stroke-width="0.3"/>
<circle cx="602.34" cy="79.07" r="1.6" fill="#6d6e71" stroke="#fff" stroke-width="0.3"/>
<circle cx="606.50" cy="98.10" r="1.6" fill="#6d6e71" stroke="#fff" stroke-width="0.3"/>
<circle cx="588.54" cy="96.58" r="1.6" fill="#6d6e71" stroke="#fff" stroke-width="0.3"/>
<circle cx="607.38" cy="89.42" r="1.6" fill="#6d6e71" stroke="#fff" stroke-width="0.3"/>
<circle cx="605.72" cy="94.21" r="1.6" fill="#6d6e71" stroke="#fff" stroke-width="0.3"/>
<circle cx="589.27" cy="91.51" r="1.6" fill="#6d6e71" stroke="#fff" stroke-width="0.3"/>
<circle cx="599.91" cy="112.27" r="1.6" fill="#6d6e71" stroke="#fff" stroke-width="0.3"/>
<circle cx="601.72" cy="78.07" r="1.6" fill="#6d6e71" stroke="#fff" stroke-width="0.3"/>
<circle cx="587.09" cy="90.09" r="1.6" fill="#6d6e71" stroke="#fff" stroke-width="0.3"/>
<circle cx="592.80" cy="100.87" r="1.6" fill="#6d6e71" stroke="#fff" stroke-width="0.3"/>
<circle cx="606.18" cy="87.12" r="1.6" fill="#6d6e71" stroke="#fff" stroke-width="0.3"/>
<circle cx="599.12" cy="74.92" r="1.6" fill="#6d6e71" stroke="#fff" stroke-width="0.3"/>
<circle cx="598.09" cy="89.58" r="1.6" fill="#6d6e71" stroke="#fff" stroke-width="0.3"/>
<circle cx="601.65" cy="105.34" r="1.6" fill="#6d6e71" stroke="#fff" stroke-width="0.3"/>
<circle cx="594.69" cy="114.06" r="1.6" fill="#6d6e71" stroke="#fff" stroke-width="0.3"/>
<circle cx="597.97" cy="112.48" r="1.6" fill="#6d6e71" stroke="#fff" stroke-width="0.3"/>
<circle cx="599.81" cy="91.23" r="1.6" fill="#6d6e71" stroke="#fff" stroke-width="0.3"/>
<circle cx="602.28" cy="102.01" r="1.6" fill="#6d6e71" stroke="#fff" stroke-width="0.3"/>
<circle cx="593.06" cy="84.34" r="1.6" fill="#6d6e71" stroke="#fff" stroke-width="0.3"/>
<circle cx="592.87" cy="84.36" r="1.6" fill="#6d6e71" stroke="#fff" stroke-width="0.3"/>
<circle cx="600.08" cy="98.62" r="1.6" fill="#6d6e71" stroke="#fff" stroke-width="0.3"/>
<circle cx="603.34" cy="97.26" r="1.6" fill="#6d6e71" stroke="#fff" stroke-width="0.3"/>
<circle cx="601.93" cy="82.80" r="1.6" fill="#6d6e71" stroke="#fff" stroke-width="0.3"/>
<circle cx="601.71" cy="88.29" r="1.6" fill="#6d6e71" stroke="#fff" stroke-width="0.3"/>
<circle cx="607.77" cy="92.61" r="1.6" fill="#6d6e71" stroke="#fff" stroke-width="0.3"/>
<circle cx="597.08" cy="89.84" r="1.6" fill="#6d6e71" stroke="#fff" stroke-width="0.3"/>
<circle cx="598.90" cy="98.26" r="1.6" fill="#6d6e71" stroke="#fff" stroke-width="0.3"/>
<circle cx="594.83" cy="88.79" r="1.6" fill="#6d6e71" stroke="#fff" stroke-width="0.3"/>
<circle cx="596.60" cy="54.00" r="1.6" fill="#6d6e71" stroke="#fff" stroke-width="0.3"/>
<circle cx="598.60" cy="55.00" r="1.6" fill="#6d6e71" stroke="#fff" stroke-width="0.3"/>
<circle cx="597.60" cy="66.50" r="1.6" fill="#6d6e71" stroke="#fff" stroke-width="0.3"/>
<circle cx="655.10" cy="98.11" r="1.7" fill="#1c58a8"/>
<circle cx="654.90" cy="87.65" r="1.7" fill="#1c58a8"/>
<circle cx="654.90" cy="100.37" r="1.7" fill="#1c58a8"/>
<circle cx="655.28" cy="107.70" r="1.7" fill="#1c58a8"/>
<circle cx="655.33" cy="62.36" r="1.7" fill="#1c58a8"/>
<circle cx="655.21" cy="111.16" r="1.7" fill="#1c58a8"/>
<circle cx="653.00" cy="97.99" r="1.7" fill="#1c58a8"/>
<circle cx="655.05" cy="78.25" r="1.7" fill="#1c58a8"/>
<circle cx="655.28" cy="84.89" r="1.7" fill="#1c58a8"/>
<circle cx="656.81" cy="99.34" r="1.7" fill="#1c58a8"/>
<circle cx="656.60" cy="83.25" r="1.7" fill="#1c58a8"/>
<circle cx="655.16" cy="102.71" r="1.7" fill="#1c58a8"/>
<circle cx="654.58" cy="82.69" r="1.7" fill="#1c58a8"/>
<circle cx="653.66" cy="104.19" r="1.7" fill="#1c58a8"/>
<circle cx="651.72" cy="99.65" r="1.7" fill="#1c58a8"/>
<circle cx="656.94" cy="97.11" r="1.7" fill="#1c58a8"/>
<circle cx="655.34" cy="115.81" r="1.7" fill="#1c58a8"/>
<circle cx="650.96" cy="97.52" r="1.7" fill="#1c58a8"/>
<circle cx="654.72" cy="96.05" r="1.7" fill="#1c58a8"/>
<circle cx="658.99" cy="96.65" r="1.7" fill="#1c58a8"/>
<circle cx="655.58" cy="60.94" r="1.7" fill="#1c58a8"/>
<circle cx="655.45" cy="60.46" r="1.7" fill="#1c58a8"/>
<circle cx="656.99" cy="87.43" r="1.7" fill="#1c58a8"/>
<circle cx="655.12" cy="70.54" r="1.7" fill="#1c58a8"/>
<circle cx="653.33" cy="106.93" r="1.7" fill="#1c58a8"/>
<circle cx="656.12" cy="94.48" r="1.7" fill="#1c58a8"/>
<circle cx="653.22" cy="88.91" r="1.7" fill="#1c58a8"/>
<circle cx="653.46" cy="86.12" r="1.7" fill="#1c58a8"/>
<circle cx="652.79" cy="95.23" r="1.7" fill="#1c58a8"/>
<circle cx="658.90" cy="99.50" r="1.7" fill="#1c58a8"/>
<circle cx="657.33" cy="107.23" r="1.7" fill="#1c58a8"/>
<circle cx="657.96" cy="89.30" r="1.7" fill="#1c58a8"/>
<circle cx="658.20" cy="94.19" r="1.7" fill="#1c58a8"/>
<circle cx="653.08" cy="101.41" r="1.7" fill="#1c58a8"/>
<circle cx="653.72" cy="79.87" r="1.7" fill="#1c58a8"/>
<circle cx="650.69" cy="95.31" r="1.7" fill="#1c58a8"/>
<circle cx="657.14" cy="78.02" r="1.7" fill="#1c58a8"/>
<circle cx="655.27" cy="74.92" r="1.7" fill="#1c58a8"/>
<circle cx="654.51" cy="93.13" r="1.7" fill="#1c58a8"/>
<circle cx="657.23" cy="102.36" r="1.7" fill="#1c58a8"/>
<circle cx="648.86" cy="97.46" r="1.7" fill="#1c58a8"/>
<circle cx="656.35" cy="92.11" r="1.7" fill="#1c58a8"/>
<circle cx="659.51" cy="101.51" r="1.7" fill="#1c58a8"/>
<circle cx="651.20" cy="88.34" r="1.7" fill="#1c58a8"/>
<circle cx="652.49" cy="82.52" r="1.7" fill="#1c58a8"/>
<circle cx="655.24" cy="113.57" r="1.7" fill="#1c58a8"/>
<circle cx="651.88" cy="84.74" r="1.7" fill="#1c58a8"/>
<circle cx="651.38" cy="106.16" r="1.7" fill="#1c58a8"/>
<circle cx="659.37" cy="106.71" r="1.7" fill="#1c58a8"/>
<circle cx="661.02" cy="96.09" r="1.7" fill="#1c58a8"/>
<circle cx="658.37" cy="79.72" r="1.7" fill="#1c58a8"/>
<circle cx="658.40" cy="82.16" r="1.7" fill="#1c58a8"/>
<circle cx="651.03" cy="101.86" r="1.7" fill="#1c58a8"/>
<circle cx="650.61" cy="81.59" r="1.7" fill="#1c58a8"/>
<circle cx="649.66" cy="100.27" r="1.7" fill="#1c58a8"/>
<circle cx="657.29" cy="111.48" r="1.7" fill="#1c58a8"/>
<circle cx="648.68" cy="94.69" r="1.7" fill="#1c58a8"/>
<circle cx="662.41" cy="94.52" r="1.7" fill="#1c58a8"/>
<circle cx="651.91" cy="93.32" r="1.7" fill="#1c58a8"/>
<circle cx="658.44" cy="91.90" r="1.7" fill="#1c58a8"/>
<circle cx="655.77" cy="80.34" r="1.7" fill="#1c58a8"/>
<circle cx="660.96" cy="99.99" r="1.7" fill="#1c58a8"/>
<circle cx="653.28" cy="110.34" r="1.7" fill="#1c58a8"/>
<circle cx="662.68" cy="101.20" r="1.7" fill="#1c58a8"/>
<circle cx="659.80" cy="88.27" r="1.7" fill="#1c58a8"/>
<circle cx="651.95" cy="78.76" r="1.7" fill="#1c58a8"/>
<circle cx="661.13" cy="102.85" r="1.7" fill="#1c58a8"/>
<circle cx="649.18" cy="87.77" r="1.7" fill="#1c58a8"/>
<circle cx="660.24" cy="93.70" r="1.7" fill="#1c58a8"/>
<circle cx="647.57" cy="100.12" r="1.7" fill="#1c58a8"/>
<circle cx="655.27" cy="66.97" r="1.7" fill="#1c58a8"/>
<circle cx="662.18" cy="98.28" r="1.7" fill="#1c58a8"/>
<circle cx="649.41" cy="106.90" r="1.7" fill="#1c58a8"/>
<circle cx="653.40" cy="112.56" r="1.7" fill="#1c58a8"/>
<circle cx="653.37" cy="75.82" r="1.7" fill="#1c58a8"/>
<circle cx="658.57" cy="103.97" r="1.7" fill="#1c58a8"/>
<circle cx="653.94" cy="107.25" r="1.7" fill="#1c58a8"/>
<circle cx="646.83" cy="95.68" r="1.7" fill="#1c58a8"/>
<circle cx="661.89" cy="88.43" r="1.7" fill="#1c58a8"/>
<circle cx="663.66" cy="96.80" r="1.7" fill="#1c58a8"/>
<circle cx="658.14" cy="85.67" r="1.7" fill="#1c58a8"/>
<circle cx="653.84" cy="68.51" r="1.7" fill="#1c58a8"/>
<circle cx="656.98" cy="69.56" r="1.7" fill="#1c58a8"/>
<circle cx="658.63" cy="108.88" r="1.7" fill="#1c58a8"/>
<circle cx="657.37" cy="74.86" r="1.7" fill="#1c58a8"/>
<circle cx="655.10" cy="72.82" r="1.7" fill="#1c58a8"/>
<circle cx="660.47" cy="79.82" r="1.7" fill="#1c58a8"/>
<circle cx="651.69" cy="97.44" r="1.7" fill="#1c58a8"/>
<circle cx="649.91" cy="79.28" r="1.7" fill="#1c58a8"/>
<circle cx="661.28" cy="105.86" r="1.7" fill="#1c58a8"/>
<circle cx="649.09" cy="80.17" r="1.7" fill="#1c58a8"/>
<circle cx="647.01" cy="93.42" r="1.7" fill="#1c58a8"/>
<circle cx="656.01" cy="104.63" r="1.7" fill="#1c58a8"/>
<circle cx="647.32" cy="86.79" r="1.7" fill="#1c58a8"/>
<circle cx="658.93" cy="78.05" r="1.7" fill="#1c58a8"/>
<circle cx="649.36" cy="103.14" r="1.7" fill="#1c58a8"/>
<circle cx="650.71" cy="77.06" r="1.7" fill="#1c58a8"/>
<circle cx="650.93" cy="97.31" r="1.7" fill="#1c58a8"/>
<circle cx="650.00" cy="92.46" r="1.7" fill="#1c58a8"/>
<circle cx="657.29" cy="70.04" r="1.7" fill="#1c58a8"/>
<circle cx="651.51" cy="95.46" r="1.7" fill="#1c58a8"/>
<circle cx="664.06" cy="93.22" r="1.7" fill="#1c58a8"/>
<circle cx="653.09" cy="72.22" r="1.7" fill="#1c58a8"/>
<circle cx="661.65" cy="92.14" r="1.7" fill="#1c58a8"/>
<circle cx="659.45" cy="74.60" r="1.7" fill="#1c58a8"/>
<circle cx="663.98" cy="88.62" r="1.7" fill="#1c58a8"/>
<circle cx="660.76" cy="86.41" r="1.7" fill="#1c58a8"/>
<circle cx="645.49" cy="91.97" r="1.7" fill="#1c58a8"/>
<circle cx="654.75" cy="96.90" r="1.7" fill="#1c58a8"/>
<circle cx="660.48" cy="82.44" r="1.7" fill="#1c58a8"/>
<circle cx="646.45" cy="98.34" r="1.7" fill="#1c58a8"/>
<circle cx="660.90" cy="77.32" r="1.7" fill="#1c58a8"/>
<circle cx="645.38" cy="87.59" r="1.7" fill="#1c58a8"/>
<circle cx="652.80" cy="98.00" r="1.7" fill="#1c58a8"/>
<circle cx="651.45" cy="109.31" r="1.7" fill="#1c58a8"/>
<circle cx="658.28" cy="104.58" r="1.7" fill="#1c58a8"/>
<circle cx="650.80" cy="104.42" r="1.7" fill="#1c58a8"/>
<circle cx="665.28" cy="86.97" r="1.7" fill="#1c58a8"/>
<circle cx="652.54" cy="75.99" r="1.7" fill="#1c58a8"/>
<circle cx="656.72" cy="75.08" r="1.7" fill="#1c58a8"/>
<circle cx="655.75" cy="107.69" r="1.7" fill="#1c58a8"/>
<circle cx="657.57" cy="105.85" r="1.7" fill="#1c58a8"/>
<circle cx="660.40" cy="98.08" r="1.7" fill="#1c58a8"/>
<circle cx="660.01" cy="99.55" r="1.7" fill="#1c58a8"/>
<circle cx="653.47" cy="91.31" r="1.7" fill="#1c58a8"/>
<circle cx="655.62" cy="79.54" r="1.7" fill="#1c58a8"/>
<circle cx="663.05" cy="86.68" r="1.7" fill="#1c58a8"/>
<circle cx="650.14" cy="109.99" r="1.7" fill="#1c58a8"/>
<circle cx="656.08" cy="93.69" r="1.7" fill="#1c58a8"/>
<circle cx="651.37" cy="103.12" r="1.7" fill="#1c58a8"/>
<circle cx="650.57" cy="106.00" r="1.7" fill="#1c58a8"/>
<circle cx="653.81" cy="77.89" r="1.7" fill="#1c58a8"/>
<circle cx="660.71" cy="108.62" r="1.7" fill="#1c58a8"/>
<circle cx="648.98" cy="82.92" r="1.7" fill="#1c58a8"/>
<circle cx="663.38" cy="100.25" r="1.7" fill="#1c58a8"/>
<circle cx="656.19" cy="70.70" r="1.7" fill="#1c58a8"/>
<circle cx="662.58" cy="82.45" r="1.7" fill="#1c58a8"/>
<circle cx="654.74" cy="81.81" r="1.7" fill="#1c58a8"/>
<circle cx="650.84" cy="86.93" r="1.7" fill="#1c58a8"/>
<circle cx="657.12" cy="114.52" r="1.7" fill="#1c58a8"/>
<circle cx="650.12" cy="80.81" r="1.7" fill="#1c58a8"/>
<circle cx="652.52" cy="109.87" r="1.7" fill="#1c58a8"/>
<circle cx="658.41" cy="105.74" r="1.7" fill="#1c58a8"/>
<circle cx="648.53" cy="88.77" r="1.7" fill="#1c58a8"/>
<circle cx="649.07" cy="85.64" r="1.7" fill="#1c58a8"/>
<circle cx="659.44" cy="110.82" r="1.7" fill="#1c58a8"/>
<circle cx="655.11" cy="104.90" r="1.7" fill="#1c58a8"/>
<circle cx="652.34" cy="113.30" r="1.7" fill="#1c58a8"/>
<circle cx="661.65" cy="103.25" r="1.7" fill="#1c58a8"/>
<circle cx="655.17" cy="80.71" r="1.7" fill="#1c58a8"/>
<circle cx="649.53" cy="98.60" r="1.7" fill="#1c58a8"/>
<circle cx="645.08" cy="87.91" r="1.7" fill="#1c58a8"/>
<circle cx="660.45" cy="106.83" r="1.7" fill="#1c58a8"/>
<circle cx="658.33" cy="110.10" r="1.7" fill="#1c58a8"/>
<circle cx="657.43" cy="82.40" r="1.7" fill="#1c58a8"/>
<circle cx="654.11" cy="81.48" r="1.7" fill="#1c58a8"/>
<circle cx="648.34" cy="91.18" r="1.7" fill="#1c58a8"/>
<circle cx="660.08" cy="93.77" r="1.7" fill="#1c58a8"/>
<circle cx="658.39" cy="79.48" r="1.7" fill="#1c58a8"/>
<circle cx="652.67" cy="97.26" r="1.7" fill="#1c58a8"/>
<circle cx="655.06" cy="89.92" r="1.7" fill="#1c58a8"/>
<circle cx="653.70" cy="85.67" r="1.7" fill="#1c58a8"/>
<circle cx="651.14" cy="101.73" r="1.7" fill="#1c58a8"/>
<circle cx="651.73" cy="96.50" r="1.7" fill="#1c58a8"/>
<circle cx="651.82" cy="108.21" r="1.7" fill="#1c58a8"/>
<circle cx="646.50" cy="96.28" r="1.7" fill="#1c58a8"/>
<circle cx="646.33" cy="94.21" r="1.7" fill="#1c58a8"/>
<circle cx="653.60" cy="77.85" r="1.7" fill="#1c58a8"/>
<circle cx="654.96" cy="89.29" r="1.7" fill="#1c58a8"/>
<circle cx="658.80" cy="101.01" r="1.7" fill="#1c58a8"/>
<circle cx="712.36" cy="69.26" r="1.6" fill="#ed1c24" stroke="#fff" stroke-width="0.3"/>
<circle cx="712.27" cy="88.46" r="1.6" fill="#ed1c24" stroke="#fff" stroke-width="0.3"/>
<circle cx="712.17" cy="108.11" r="1.6" fill="#ed1c24" stroke="#fff" stroke-width="0.3"/>
<circle cx="712.01" cy="61.44" r="1.6" fill="#ed1c24" stroke="#fff" stroke-width="0.3"/>
<circle cx="712.33" cy="102.19" r="1.6" fill="#ed1c24" stroke="#fff" stroke-width="0.3"/>
<circle cx="712.04" cy="59.23" r="1.6" fill="#ed1c24" stroke="#fff" stroke-width="0.3"/>
<circle cx="712.56" cy="81.11" r="1.6" fill="#ed1c24" stroke="#fff" stroke-width="0.3"/>
<circle cx="713.51" cy="63.69" r="1.6" fill="#ed1c24" stroke="#fff" stroke-width="0.3"/>
<circle cx="712.28" cy="76.95" r="1.6" fill="#ed1c24" stroke="#fff" stroke-width="0.3"/>
<circle cx="712.54" cy="95.69" r="1.6" fill="#ed1c24" stroke="#fff" stroke-width="0.3"/>
<circle cx="709.93" cy="80.50" r="1.6" fill="#ed1c24" stroke="#fff" stroke-width="0.3"/>
<circle cx="709.67" cy="89.16" r="1.6" fill="#ed1c24" stroke="#fff" stroke-width="0.3"/>
<circle cx="712.58" cy="92.70" r="1.6" fill="#ed1c24" stroke="#fff" stroke-width="0.3"/>
<circle cx="712.18" cy="72.50" r="1.6" fill="#ed1c24" stroke="#fff" stroke-width="0.3"/>
<circle cx="712.25" cy="85.58" r="1.6" fill="#ed1c24" stroke="#fff" stroke-width="0.3"/>
<circle cx="714.97" cy="88.67" r="1.6" fill="#ed1c24" stroke="#fff" stroke-width="0.3"/>
<circle cx="708.89" cy="86.57" r="1.6" fill="#ed1c24" stroke="#fff" stroke-width="0.3"/>
<circle cx="715.03" cy="102.05" r="1.6" fill="#ed1c24" stroke="#fff" stroke-width="0.3"/>
<circle cx="714.87" cy="108.22" r="1.6" fill="#ed1c24" stroke="#fff" stroke-width="0.3"/>
<circle cx="709.51" cy="107.62" r="1.6" fill="#ed1c24" stroke="#fff" stroke-width="0.3"/>
<circle cx="710.85" cy="97.79" r="1.6" fill="#ed1c24" stroke="#fff" stroke-width="0.3"/>
<circle cx="713.39" cy="98.71" r="1.6" fill="#ed1c24" stroke="#fff" stroke-width="0.3"/>
<circle cx="710.01" cy="91.87" r="1.6" fill="#ed1c24" stroke="#fff" stroke-width="0.3"/>
<circle cx="714.08" cy="83.60" r="1.6" fill="#ed1c24" stroke="#fff" stroke-width="0.3"/>
<circle cx="709.92" cy="95.05" r="1.6" fill="#ed1c24" stroke="#fff" stroke-width="0.3"/>
<circle cx="709.64" cy="102.43" r="1.6" fill="#ed1c24" stroke="#fff" stroke-width="0.3"/>
<circle cx="716.89" cy="90.56" r="1.6" fill="#ed1c24" stroke="#fff" stroke-width="0.3"/>
<circle cx="714.84" cy="76.08" r="1.6" fill="#ed1c24" stroke="#fff" stroke-width="0.3"/>
<circle cx="717.36" cy="87.42" r="1.6" fill="#ed1c24" stroke="#fff" stroke-width="0.3"/>
<circle cx="716.03" cy="98.15" r="1.6" fill="#ed1c24" stroke="#fff" stroke-width="0.3"/>
<circle cx="706.42" cy="87.66" r="1.6" fill="#ed1c24" stroke="#fff" stroke-width="0.3"/>
<circle cx="712.11" cy="113.92" r="1.6" fill="#ed1c24" stroke="#fff" stroke-width="0.3"/>
<circle cx="706.94" cy="102.38" r="1.6" fill="#ed1c24" stroke="#fff" stroke-width="0.3"/>
<circle cx="709.91" cy="73.95" r="1.6" fill="#ed1c24" stroke="#fff" stroke-width="0.3"/>
<circle cx="710.20" cy="83.82" r="1.6" fill="#ed1c24" stroke="#fff" stroke-width="0.3"/>
<circle cx="715.23" cy="95.37" r="1.6" fill="#ed1c24" stroke="#fff" stroke-width="0.3"/>
<circle cx="716.78" cy="83.66" r="1.6" fill="#ed1c24" stroke="#fff" stroke-width="0.3"/>
<circle cx="708.19" cy="97.34" r="1.6" fill="#ed1c24" stroke="#fff" stroke-width="0.3"/>
<circle cx="717.02" cy="93.35" r="1.6" fill="#ed1c24" stroke="#fff" stroke-width="0.3"/>
<circle cx="717.53" cy="103.08" r="1.6" fill="#ed1c24" stroke="#fff" stroke-width="0.3"/>
<circle cx="710.57" cy="110.29" r="1.6" fill="#ed1c24" stroke="#fff" stroke-width="0.3"/>
<circle cx="708.24" cy="78.39" r="1.6" fill="#ed1c24" stroke="#fff" stroke-width="0.3"/>
<circle cx="712.39" cy="66.34" r="1.6" fill="#ed1c24" stroke="#fff" stroke-width="0.3"/>
<circle cx="705.51" cy="96.99" r="1.6" fill="#ed1c24" stroke="#fff" stroke-width="0.3"/>
<circle cx="720.04" cy="87.08" r="1.6" fill="#ed1c24" stroke="#fff" stroke-width="0.3"/>
<circle cx="718.66" cy="97.53" r="1.6" fill="#ed1c24" stroke="#fff" stroke-width="0.3"/>
<circle cx="714.83" cy="73.06" r="1.6" fill="#ed1c24" stroke="#fff" stroke-width="0.3"/>
<circle cx="707.73" cy="82.73" r="1.6" fill="#ed1c24" stroke="#fff" stroke-width="0.3"/>
<circle cx="714.95" cy="79.85" r="1.6" fill="#ed1c24" stroke="#fff" stroke-width="0.3"/>
<circle cx="711.36" cy="62.28" r="1.6" fill="#ed1c24" stroke="#fff" stroke-width="0.3"/>
<circle cx="717.39" cy="107.25" r="1.6" fill="#ed1c24" stroke="#fff" stroke-width="0.3"/>
<circle cx="704.99" cy="104.24" r="1.6" fill="#ed1c24" stroke="#fff" stroke-width="0.3"/>
<circle cx="713.94" cy="111.94" r="1.6" fill="#ed1c24" stroke="#fff" stroke-width="0.3"/>
<circle cx="720.23" cy="95.34" r="1.6" fill="#ed1c24" stroke="#fff" stroke-width="0.3"/>
<circle cx="719.36" cy="82.87" r="1.6" fill="#ed1c24" stroke="#fff" stroke-width="0.3"/>
<circle cx="709.25" cy="71.33" r="1.6" fill="#ed1c24" stroke="#fff" stroke-width="0.3"/>
<circle cx="717.04" cy="78.13" r="1.6" fill="#ed1c24" stroke="#fff" stroke-width="0.3"/>
<circle cx="720.23" cy="103.09" r="1.6" fill="#ed1c24" stroke="#fff" stroke-width="0.3"/>
<circle cx="713.70" cy="60.53" r="1.6" fill="#ed1c24" stroke="#fff" stroke-width="0.3"/>
<circle cx="704.63" cy="100.99" r="1.6" fill="#ed1c24" stroke="#fff" stroke-width="0.3"/>
<circle cx="707.32" cy="91.69" r="1.6" fill="#ed1c24" stroke="#fff" stroke-width="0.3"/>
<circle cx="703.92" cy="88.68" r="1.6" fill="#ed1c24" stroke="#fff" stroke-width="0.3"/>
<circle cx="703.00" cy="96.00" r="1.6" fill="#ed1c24" stroke="#fff" stroke-width="0.3"/>
<circle cx="719.54" cy="92.39" r="1.6" fill="#ed1c24" stroke="#fff" stroke-width="0.3"/>
<circle cx="716.62" cy="71.04" r="1.6" fill="#ed1c24" stroke="#fff" stroke-width="0.3"/>
<circle cx="707.87" cy="109.77" r="1.6" fill="#ed1c24" stroke="#fff" stroke-width="0.3"/>
<circle cx="704.84" cy="92.77" r="1.6" fill="#ed1c24" stroke="#fff" stroke-width="0.3"/>
<circle cx="707.22" cy="73.66" r="1.6" fill="#ed1c24" stroke="#fff" stroke-width="0.3"/>
<circle cx="722.21" cy="91.97" r="1.6" fill="#ed1c24" stroke="#fff" stroke-width="0.3"/>
<circle cx="705.96" cy="76.96" r="1.6" fill="#ed1c24" stroke="#fff" stroke-width="0.3"/>
<circle cx="710.38" cy="69.70" r="1.6" fill="#ed1c24" stroke="#fff" stroke-width="0.3"/>
<circle cx="720.78" cy="99.20" r="1.6" fill="#ed1c24" stroke="#fff" stroke-width="0.3"/>
<circle cx="722.77" cy="96.25" r="1.6" fill="#ed1c24" stroke="#fff" stroke-width="0.3"/>
<circle cx="714.30" cy="95.18" r="1.6" fill="#ed1c24" stroke="#fff" stroke-width="0.3"/>
<circle cx="722.94" cy="96.25" r="1.6" fill="#ed1c24" stroke="#fff" stroke-width="0.3"/>
<circle cx="705.11" cy="82.08" r="1.6" fill="#ed1c24" stroke="#fff" stroke-width="0.3"/>
<circle cx="704.38" cy="85.90" r="1.6" fill="#ed1c24" stroke="#fff" stroke-width="0.3"/>
<circle cx="706.99" cy="96.29" r="1.6" fill="#ed1c24" stroke="#fff" stroke-width="0.3"/>
<circle cx="718.29" cy="72.42" r="1.6" fill="#ed1c24" stroke="#fff" stroke-width="0.3"/>
<circle cx="709.72" cy="67.09" r="1.6" fill="#ed1c24" stroke="#fff" stroke-width="0.3"/>
<circle cx="709.68" cy="72.55" r="1.6" fill="#ed1c24" stroke="#fff" stroke-width="0.3"/>
<circle cx="719.53" cy="77.10" r="1.6" fill="#ed1c24" stroke="#fff" stroke-width="0.3"/>
<circle cx="715.40" cy="102.59" r="1.6" fill="#ed1c24" stroke="#fff" stroke-width="0.3"/>
<circle cx="702.34" cy="91.75" r="1.6" fill="#ed1c24" stroke="#fff" stroke-width="0.3"/>
<circle cx="702.37" cy="99.52" r="1.6" fill="#ed1c24" stroke="#fff" stroke-width="0.3"/>
<circle cx="711.96" cy="90.41" r="1.6" fill="#ed1c24" stroke="#fff" stroke-width="0.3"/>
<circle cx="714.77" cy="68.03" r="1.6" fill="#ed1c24" stroke="#fff" stroke-width="0.3"/>
<circle cx="717.40" cy="80.98" r="1.6" fill="#ed1c24" stroke="#fff" stroke-width="0.3"/>
<circle cx="704.04" cy="101.19" r="1.6" fill="#ed1c24" stroke="#fff" stroke-width="0.3"/>
<circle cx="703.59" cy="93.96" r="1.6" fill="#ed1c24" stroke="#fff" stroke-width="0.3"/>
<circle cx="720.58" cy="93.86" r="1.6" fill="#ed1c24" stroke="#fff" stroke-width="0.3"/>
<circle cx="710.19" cy="113.32" r="1.6" fill="#ed1c24" stroke="#fff" stroke-width="0.3"/>
<circle cx="721.38" cy="84.66" r="1.6" fill="#ed1c24" stroke="#fff" stroke-width="0.3"/>
<circle cx="714.62" cy="93.99" r="1.6" fill="#ed1c24" stroke="#fff" stroke-width="0.3"/>
<circle cx="720.84" cy="91.76" r="1.6" fill="#ed1c24" stroke="#fff" stroke-width="0.3"/>
<circle cx="712.30" cy="45.00" r="1.6" fill="#ed1c24" stroke="#fff" stroke-width="0.3"/>
<line x1="579.60" y1="94.00" x2="733.00" y2="94.00" stroke="#808285" stroke-width="1.2" stroke-dasharray="12.8 8.6"/>
<line x1="597.60" y1="91.60" x2="597.60" y2="96.60" stroke="#231f20" stroke-width="1.5" />
<line x1="595.90" y1="91.60" x2="599.30" y2="91.60" stroke="#231f20" stroke-width="1.3" />
<line x1="595.90" y1="96.60" x2="599.30" y2="96.60" stroke="#231f20" stroke-width="1.3" />
<circle cx="597.60" cy="94.10" r="1.2" fill="#231f20"/>
<line x1="655.20" y1="90.60" x2="655.20" y2="95.60" stroke="#231f20" stroke-width="1.5" />
<line x1="653.50" y1="90.60" x2="656.90" y2="90.60" stroke="#231f20" stroke-width="1.3" />
<line x1="653.50" y1="95.60" x2="656.90" y2="95.60" stroke="#231f20" stroke-width="1.3" />
<circle cx="655.20" cy="93.10" r="1.2" fill="#231f20"/>
<line x1="712.30" y1="84.50" x2="712.30" y2="92.50" stroke="#231f20" stroke-width="1.5" />
<line x1="710.60" y1="84.50" x2="714.00" y2="84.50" stroke="#231f20" stroke-width="1.3" />
<line x1="710.60" y1="92.50" x2="714.00" y2="92.50" stroke="#231f20" stroke-width="1.3" />
<circle cx="712.30" cy="88.50" r="1.2" fill="#231f20"/>
<line x1="579.60" y1="45.20" x2="579.60" y2="130.00" stroke="#a7a9ac" stroke-width="1.4" />
<line x1="579.10" y1="130.00" x2="733.00" y2="130.00" stroke="#a7a9ac" stroke-width="1.4" />
<line x1="597.60" y1="130.00" x2="597.60" y2="127.50" stroke="#8a8a8a" stroke-width="0.9" />
<line x1="655.20" y1="130.00" x2="655.20" y2="127.50" stroke="#8a8a8a" stroke-width="0.9" />
<line x1="712.30" y1="130.00" x2="712.30" y2="127.50" stroke="#8a8a8a" stroke-width="0.9" />
<line x1="579.60" y1="57.40" x2="582.10" y2="57.40" stroke="#8a8a8a" stroke-width="0.9" />
<text x="578.40" y="62.70" font-size="14.8" fill="#58595b" text-anchor="end" textLength="14.5" lengthAdjust="spacingAndGlyphs">50</text>
<line x1="579.60" y1="91.90" x2="582.10" y2="91.90" stroke="#8a8a8a" stroke-width="0.9" />
<text x="578.40" y="97.20" font-size="14.8" fill="#58595b" text-anchor="end" textLength="7" lengthAdjust="spacingAndGlyphs">0</text>
<line x1="579.60" y1="126.00" x2="582.10" y2="126.00" stroke="#8a8a8a" stroke-width="0.9" />
<text x="578.40" y="131.30" font-size="14.8" fill="#58595b" text-anchor="end" textLength="18" lengthAdjust="spacingAndGlyphs">-50</text>
<line x1="579.50" y1="213.90" x2="733.00" y2="213.90" stroke="#5ab4ea" stroke-width="1.0" stroke-dasharray="1.1 4.25" stroke-dashoffset="-2.1"/>
<circle cx="597.60" cy="213.90" r="3" fill="#231f20"/>
<line x1="655.30" y1="191.80" x2="655.30" y2="221.80" stroke="#58595b" stroke-width="1.1" />
<line x1="653.90" y1="191.80" x2="656.70" y2="191.80" stroke="#231f20" stroke-width="1.3" />
<line x1="653.90" y1="221.80" x2="656.70" y2="221.80" stroke="#231f20" stroke-width="1.3" />
<circle cx="655.30" cy="206.70" r="3.5" fill="#231f20"/>
<line x1="712.70" y1="160.60" x2="712.70" y2="199.40" stroke="#58595b" stroke-width="1.1" />
<line x1="711.30" y1="160.60" x2="714.10" y2="160.60" stroke="#231f20" stroke-width="1.3" />
<line x1="711.30" y1="199.40" x2="714.10" y2="199.40" stroke="#231f20" stroke-width="1.3" />
<circle cx="712.70" cy="181.00" r="3.5" fill="#231f20"/>
<line x1="579.50" y1="155.60" x2="579.50" y2="228.20" stroke="#939598" stroke-width="1.3" />
<line x1="579.00" y1="228.20" x2="733.00" y2="228.20" stroke="#939598" stroke-width="1.3" />
<line x1="597.60" y1="228.20" x2="597.60" y2="225.70" stroke="#8a8a8a" stroke-width="0.9" />
<line x1="655.30" y1="228.20" x2="655.30" y2="225.70" stroke="#8a8a8a" stroke-width="0.9" />
<line x1="712.70" y1="228.20" x2="712.70" y2="225.70" stroke="#8a8a8a" stroke-width="0.9" />
<text x="578.30" y="179.60" font-size="14.8" fill="#58595b" text-anchor="end" textLength="14" lengthAdjust="spacingAndGlyphs">10</text>
<line x1="579.50" y1="174.30" x2="582.00" y2="174.30" stroke="#8a8a8a" stroke-width="0.9" />
<text x="578.30" y="198.90" font-size="14.8" fill="#58595b" text-anchor="end" textLength="7" lengthAdjust="spacingAndGlyphs">5</text>
<line x1="579.50" y1="193.60" x2="582.00" y2="193.60" stroke="#8a8a8a" stroke-width="0.9" />
<text x="578.30" y="218.50" font-size="14.8" fill="#58595b" text-anchor="end" textLength="7" lengthAdjust="spacingAndGlyphs">0</text>
<line x1="579.50" y1="213.20" x2="582.00" y2="213.20" stroke="#8a8a8a" stroke-width="0.9" />
<text x="597.90" y="246.50" font-size="14" fill="#231f20" text-anchor="middle" textLength="21" lengthAdjust="spacingAndGlyphs">+/+</text>
<text x="656.80" y="246.50" font-size="14" fill="#231f20" text-anchor="middle" textLength="17" lengthAdjust="spacingAndGlyphs">+/-</text>
<text x="715.70" y="246.50" font-size="14" fill="#231f20" text-anchor="middle" textLength="14" lengthAdjust="spacingAndGlyphs">-/-</text>
<text x="309.20" y="285.73" font-size="13.5" fill="#000" text-anchor="middle" font-weight="bold">E</text>
<line x1="395.20" y1="297.90" x2="496.00" y2="297.90" stroke="#5d5d5f" stroke-width="1.1" />
<text x="446.60" y="294.86" font-size="13.3" fill="#231f20" text-anchor="middle" textLength="11.3" lengthAdjust="spacingAndGlyphs">ns</text>
<circle cx="395.99" cy="374.40" r="2.0" fill="#a7a9ac"/>
<circle cx="396.29" cy="385.67" r="2.0" fill="#a7a9ac"/>
<circle cx="395.81" cy="355.17" r="2.0" fill="#a7a9ac"/>
<circle cx="396.03" cy="380.09" r="2.0" fill="#a7a9ac"/>
<circle cx="393.59" cy="385.81" r="2.0" fill="#a7a9ac"/>
<circle cx="396.14" cy="364.22" r="2.0" fill="#a7a9ac"/>
<circle cx="398.68" cy="374.64" r="2.0" fill="#a7a9ac"/>
<circle cx="393.93" cy="376.14" r="2.0" fill="#a7a9ac"/>
<circle cx="398.19" cy="365.98" r="2.0" fill="#a7a9ac"/>
<circle cx="397.78" cy="387.92" r="2.0" fill="#a7a9ac"/>
<circle cx="398.24" cy="378.54" r="2.0" fill="#a7a9ac"/>
<circle cx="397.66" cy="382.24" r="2.0" fill="#a7a9ac"/>
<circle cx="396.22" cy="369.78" r="2.0" fill="#a7a9ac"/>
<circle cx="393.45" cy="379.30" r="2.0" fill="#a7a9ac"/>
<circle cx="395.82" cy="342.64" r="2.0" fill="#a7a9ac"/>
<circle cx="399.24" cy="385.64" r="2.0" fill="#a7a9ac"/>
<circle cx="391.05" cy="384.89" r="2.0" fill="#a7a9ac"/>
<circle cx="400.86" cy="376.24" r="2.0" fill="#a7a9ac"/>
<circle cx="400.91" cy="378.95" r="2.0" fill="#a7a9ac"/>
<circle cx="393.71" cy="370.77" r="2.0" fill="#a7a9ac"/>
<circle cx="394.98" cy="382.59" r="2.0" fill="#a7a9ac"/>
<circle cx="396.99" cy="352.74" r="2.0" fill="#a7a9ac"/>
<circle cx="393.53" cy="364.88" r="2.0" fill="#a7a9ac"/>
<circle cx="391.28" cy="376.66" r="2.0" fill="#a7a9ac"/>
<circle cx="391.67" cy="381.33" r="2.0" fill="#a7a9ac"/>
<circle cx="396.81" cy="361.60" r="2.0" fill="#a7a9ac"/>
<circle cx="395.92" cy="322.42" r="2.0" fill="#a7a9ac"/>
<circle cx="388.60" cy="376.36" r="2.0" fill="#a7a9ac"/>
<circle cx="400.01" cy="372.28" r="2.0" fill="#a7a9ac"/>
<circle cx="396.79" cy="355.51" r="2.0" fill="#a7a9ac"/>
<circle cx="399.82" cy="366.01" r="2.0" fill="#a7a9ac"/>
<circle cx="398.90" cy="369.46" r="2.0" fill="#a7a9ac"/>
<circle cx="395.30" cy="342.14" r="2.0" fill="#a7a9ac"/>
<circle cx="401.93" cy="381.45" r="2.0" fill="#a7a9ac"/>
<circle cx="403.27" cy="377.64" r="2.0" fill="#a7a9ac"/>
<circle cx="394.78" cy="356.57" r="2.0" fill="#a7a9ac"/>
<circle cx="396.08" cy="334.33" r="2.0" fill="#a7a9ac"/>
<circle cx="391.05" cy="371.26" r="2.0" fill="#a7a9ac"/>
<circle cx="401.92" cy="386.00" r="2.0" fill="#a7a9ac"/>
<circle cx="401.59" cy="369.27" r="2.0" fill="#a7a9ac"/>
<circle cx="398.44" cy="370.31" r="2.0" fill="#a7a9ac"/>
<circle cx="395.93" cy="335.78" r="2.0" fill="#a7a9ac"/>
<circle cx="394.84" cy="351.11" r="2.0" fill="#a7a9ac"/>
<circle cx="394.91" cy="343.86" r="2.0" fill="#a7a9ac"/>
<circle cx="389.36" cy="382.79" r="2.0" fill="#a7a9ac"/>
<circle cx="388.74" cy="380.16" r="2.0" fill="#a7a9ac"/>
<circle cx="396.79" cy="349.25" r="2.0" fill="#a7a9ac"/>
<circle cx="386.24" cy="377.67" r="2.0" fill="#a7a9ac"/>
<circle cx="388.55" cy="385.91" r="2.0" fill="#a7a9ac"/>
<circle cx="404.07" cy="384.36" r="2.0" fill="#a7a9ac"/>
<circle cx="396.49" cy="356.89" r="2.0" fill="#a7a9ac"/>
<circle cx="392.97" cy="369.79" r="2.0" fill="#a7a9ac"/>
<circle cx="395.28" cy="388.50" r="2.0" fill="#a7a9ac"/>
<circle cx="404.58" cy="380.97" r="2.0" fill="#a7a9ac"/>
<circle cx="396.63" cy="358.31" r="2.0" fill="#a7a9ac"/>
<circle cx="395.26" cy="352.52" r="2.0" fill="#a7a9ac"/>
<circle cx="397.68" cy="364.81" r="2.0" fill="#a7a9ac"/>
<circle cx="396.97" cy="343.24" r="2.0" fill="#a7a9ac"/>
<circle cx="396.89" cy="363.64" r="2.0" fill="#a7a9ac"/>
<circle cx="402.68" cy="371.92" r="2.0" fill="#a7a9ac"/>
<circle cx="391.61" cy="370.05" r="2.0" fill="#a7a9ac"/>
<circle cx="404.28" cy="387.31" r="2.0" fill="#a7a9ac"/>
<circle cx="395.96" cy="320.96" r="2.0" fill="#a7a9ac"/>
<circle cx="386.77" cy="382.01" r="2.0" fill="#a7a9ac"/>
<circle cx="395.92" cy="324.35" r="2.0" fill="#a7a9ac"/>
<circle cx="403.79" cy="376.10" r="2.0" fill="#a7a9ac"/>
<circle cx="388.86" cy="372.83" r="2.0" fill="#a7a9ac"/>
<circle cx="389.65" cy="372.45" r="2.0" fill="#a7a9ac"/>
<circle cx="403.30" cy="387.06" r="2.0" fill="#a7a9ac"/>
<circle cx="391.57" cy="387.60" r="2.0" fill="#a7a9ac"/>
<circle cx="400.77" cy="386.99" r="2.0" fill="#a7a9ac"/>
<circle cx="403.00" cy="376.85" r="2.0" fill="#a7a9ac"/>
<circle cx="404.60" cy="386.93" r="2.0" fill="#a7a9ac"/>
<circle cx="399.37" cy="377.58" r="2.0" fill="#a7a9ac"/>
<circle cx="388.71" cy="381.87" r="2.0" fill="#a7a9ac"/>
<circle cx="406.70" cy="383.77" r="2.0" fill="#a7a9ac"/>
<circle cx="393.43" cy="387.59" r="2.0" fill="#a7a9ac"/>
<circle cx="396.19" cy="327.30" r="2.0" fill="#a7a9ac"/>
<circle cx="388.23" cy="379.81" r="2.0" fill="#a7a9ac"/>
<circle cx="398.61" cy="376.15" r="2.0" fill="#a7a9ac"/>
<circle cx="396.10" cy="312.20" r="2.0" fill="#a7a9ac"/>
<circle cx="445.82" cy="387.67" r="2.0" fill="#27aae1"/>
<circle cx="445.83" cy="336.75" r="2.0" fill="#27aae1"/>
<circle cx="443.89" cy="388.50" r="2.0" fill="#27aae1"/>
<circle cx="445.47" cy="384.75" r="2.0" fill="#27aae1"/>
<circle cx="445.41" cy="372.69" r="2.0" fill="#27aae1"/>
<circle cx="445.39" cy="358.22" r="2.0" fill="#27aae1"/>
<circle cx="443.41" cy="385.53" r="2.0" fill="#27aae1"/>
<circle cx="443.41" cy="373.61" r="2.0" fill="#27aae1"/>
<circle cx="445.42" cy="364.24" r="2.0" fill="#27aae1"/>
<circle cx="447.56" cy="386.33" r="2.0" fill="#27aae1"/>
<circle cx="445.67" cy="376.53" r="2.0" fill="#27aae1"/>
<circle cx="445.68" cy="379.71" r="2.0" fill="#27aae1"/>
<circle cx="441.45" cy="386.53" r="2.0" fill="#27aae1"/>
<circle cx="445.61" cy="382.08" r="2.0" fill="#27aae1"/>
<circle cx="443.55" cy="377.10" r="2.0" fill="#27aae1"/>
<circle cx="447.29" cy="365.40" r="2.0" fill="#27aae1"/>
<circle cx="443.48" cy="379.62" r="2.0" fill="#27aae1"/>
<circle cx="447.60" cy="372.50" r="2.0" fill="#27aae1"/>
<circle cx="443.50" cy="382.69" r="2.0" fill="#27aae1"/>
<circle cx="449.48" cy="387.41" r="2.0" fill="#27aae1"/>
<circle cx="445.61" cy="368.12" r="2.0" fill="#27aae1"/>
<circle cx="448.24" cy="363.41" r="2.0" fill="#27aae1"/>
<circle cx="451.62" cy="386.93" r="2.0" fill="#27aae1"/>
<circle cx="439.35" cy="385.90" r="2.0" fill="#27aae1"/>
<circle cx="437.58" cy="387.21" r="2.0" fill="#27aae1"/>
<circle cx="445.53" cy="361.53" r="2.0" fill="#27aae1"/>
<circle cx="443.48" cy="367.55" r="2.0" fill="#27aae1"/>
<circle cx="447.42" cy="377.86" r="2.0" fill="#27aae1"/>
<circle cx="447.12" cy="359.57" r="2.0" fill="#27aae1"/>
<circle cx="447.61" cy="383.00" r="2.0" fill="#27aae1"/>
<circle cx="449.29" cy="381.58" r="2.0" fill="#27aae1"/>
<circle cx="453.32" cy="385.53" r="2.0" fill="#27aae1"/>
<circle cx="449.30" cy="366.28" r="2.0" fill="#27aae1"/>
<circle cx="441.57" cy="378.53" r="2.0" fill="#27aae1"/>
<circle cx="454.26" cy="387.51" r="2.0" fill="#27aae1"/>
<circle cx="441.45" cy="381.88" r="2.0" fill="#27aae1"/>
<circle cx="449.30" cy="379.01" r="2.0" fill="#27aae1"/>
<circle cx="443.27" cy="363.74" r="2.0" fill="#27aae1"/>
<circle cx="441.30" cy="367.83" r="2.0" fill="#27aae1"/>
<circle cx="451.28" cy="382.53" r="2.0" fill="#27aae1"/>
<circle cx="444.45" cy="369.99" r="2.0" fill="#27aae1"/>
<circle cx="446.88" cy="374.69" r="2.0" fill="#27aae1"/>
<circle cx="449.15" cy="384.57" r="2.0" fill="#27aae1"/>
<circle cx="448.98" cy="375.35" r="2.0" fill="#27aae1"/>
<circle cx="449.80" cy="372.44" r="2.0" fill="#27aae1"/>
<circle cx="450.93" cy="377.53" r="2.0" fill="#27aae1"/>
<circle cx="441.43" cy="374.57" r="2.0" fill="#27aae1"/>
<circle cx="439.68" cy="377.41" r="2.0" fill="#27aae1"/>
<circle cx="440.12" cy="388.28" r="2.0" fill="#27aae1"/>
<circle cx="436.32" cy="385.40" r="2.0" fill="#27aae1"/>
<circle cx="440.04" cy="383.58" r="2.0" fill="#27aae1"/>
<circle cx="452.59" cy="378.98" r="2.0" fill="#27aae1"/>
<circle cx="443.82" cy="359.76" r="2.0" fill="#27aae1"/>
<circle cx="445.84" cy="310.23" r="2.0" fill="#27aae1"/>
<circle cx="453.75" cy="377.11" r="2.0" fill="#27aae1"/>
<circle cx="441.91" cy="365.47" r="2.0" fill="#27aae1"/>
<circle cx="448.91" cy="361.32" r="2.0" fill="#27aae1"/>
<circle cx="438.28" cy="375.71" r="2.0" fill="#27aae1"/>
<circle cx="445.58" cy="331.52" r="2.0" fill="#27aae1"/>
<circle cx="445.61" cy="347.41" r="2.0" fill="#27aae1"/>
<circle cx="447.80" cy="368.27" r="2.0" fill="#27aae1"/>
<circle cx="456.11" cy="386.32" r="2.0" fill="#27aae1"/>
<circle cx="450.94" cy="374.33" r="2.0" fill="#27aae1"/>
<circle cx="449.95" cy="368.74" r="2.0" fill="#27aae1"/>
<circle cx="439.99" cy="380.24" r="2.0" fill="#27aae1"/>
<circle cx="453.25" cy="381.54" r="2.0" fill="#27aae1"/>
<circle cx="439.37" cy="373.80" r="2.0" fill="#27aae1"/>
<circle cx="441.10" cy="363.37" r="2.0" fill="#27aae1"/>
<circle cx="437.98" cy="378.82" r="2.0" fill="#27aae1"/>
<circle cx="453.13" cy="374.49" r="2.0" fill="#27aae1"/>
<circle cx="451.83" cy="386.24" r="2.0" fill="#27aae1"/>
<circle cx="455.13" cy="380.40" r="2.0" fill="#27aae1"/>
<circle cx="451.40" cy="365.61" r="2.0" fill="#27aae1"/>
<circle cx="442.71" cy="371.34" r="2.0" fill="#27aae1"/>
<circle cx="450.97" cy="376.48" r="2.0" fill="#27aae1"/>
<circle cx="445.98" cy="312.27" r="2.0" fill="#27aae1"/>
<circle cx="447.57" cy="374.92" r="2.0" fill="#27aae1"/>
<circle cx="447.55" cy="363.65" r="2.0" fill="#27aae1"/>
<circle cx="445.59" cy="352.54" r="2.0" fill="#27aae1"/>
<circle cx="445.67" cy="386.19" r="2.0" fill="#27aae1"/>
<circle cx="442.04" cy="361.05" r="2.0" fill="#27aae1"/>
<circle cx="436.64" cy="380.56" r="2.0" fill="#27aae1"/>
<circle cx="435.88" cy="378.17" r="2.0" fill="#27aae1"/>
<circle cx="447.34" cy="357.21" r="2.0" fill="#27aae1"/>
<circle cx="447.35" cy="360.46" r="2.0" fill="#27aae1"/>
<circle cx="447.97" cy="375.88" r="2.0" fill="#27aae1"/>
<circle cx="445.90" cy="380.32" r="2.0" fill="#27aae1"/>
<circle cx="440.13" cy="384.41" r="2.0" fill="#27aae1"/>
<circle cx="443.18" cy="362.27" r="2.0" fill="#27aae1"/>
<circle cx="439.32" cy="368.78" r="2.0" fill="#27aae1"/>
<circle cx="444.92" cy="379.17" r="2.0" fill="#27aae1"/>
<circle cx="444.91" cy="354.63" r="2.0" fill="#27aae1"/>
<circle cx="441.60" cy="360.78" r="2.0" fill="#27aae1"/>
<circle cx="445.61" cy="386.41" r="2.0" fill="#27aae1"/>
<circle cx="450.08" cy="384.80" r="2.0" fill="#27aae1"/>
<circle cx="443.80" cy="356.70" r="2.0" fill="#27aae1"/>
<circle cx="443.28" cy="377.54" r="2.0" fill="#27aae1"/>
<circle cx="446.30" cy="367.63" r="2.0" fill="#27aae1"/>
<circle cx="437.18" cy="373.55" r="2.0" fill="#27aae1"/>
<circle cx="435.61" cy="388.19" r="2.0" fill="#27aae1"/>
<circle cx="445.31" cy="334.49" r="2.0" fill="#27aae1"/>
<circle cx="438.16" cy="382.15" r="2.0" fill="#27aae1"/>
<circle cx="447.79" cy="352.56" r="2.0" fill="#27aae1"/>
<circle cx="445.11" cy="377.97" r="2.0" fill="#27aae1"/>
<circle cx="452.02" cy="369.48" r="2.0" fill="#27aae1"/>
<circle cx="444.76" cy="346.71" r="2.0" fill="#27aae1"/>
<circle cx="435.80" cy="382.59" r="2.0" fill="#27aae1"/>
<circle cx="440.82" cy="368.59" r="2.0" fill="#27aae1"/>
<circle cx="452.23" cy="375.41" r="2.0" fill="#27aae1"/>
<circle cx="439.77" cy="365.96" r="2.0" fill="#27aae1"/>
<circle cx="455.89" cy="385.14" r="2.0" fill="#27aae1"/>
<circle cx="443.87" cy="386.26" r="2.0" fill="#27aae1"/>
<circle cx="439.04" cy="379.43" r="2.0" fill="#27aae1"/>
<circle cx="437.05" cy="377.12" r="2.0" fill="#27aae1"/>
<circle cx="445.54" cy="380.91" r="2.0" fill="#27aae1"/>
<circle cx="448.29" cy="376.45" r="2.0" fill="#27aae1"/>
<circle cx="446.64" cy="370.18" r="2.0" fill="#27aae1"/>
<circle cx="445.56" cy="326.37" r="2.0" fill="#27aae1"/>
<circle cx="443.36" cy="381.51" r="2.0" fill="#27aae1"/>
<circle cx="440.26" cy="370.77" r="2.0" fill="#27aae1"/>
<circle cx="443.05" cy="364.10" r="2.0" fill="#27aae1"/>
<circle cx="445.73" cy="357.81" r="2.0" fill="#27aae1"/>
<circle cx="452.81" cy="370.46" r="2.0" fill="#27aae1"/>
<circle cx="440.79" cy="372.67" r="2.0" fill="#27aae1"/>
<circle cx="456.10" cy="388.50" r="2.0" fill="#27aae1"/>
<circle cx="452.17" cy="374.87" r="2.0" fill="#27aae1"/>
<circle cx="441.92" cy="372.10" r="2.0" fill="#27aae1"/>
<circle cx="445.92" cy="310.99" r="2.0" fill="#27aae1"/>
<circle cx="444.24" cy="369.78" r="2.0" fill="#27aae1"/>
<circle cx="445.29" cy="378.87" r="2.0" fill="#27aae1"/>
<circle cx="438.28" cy="388.50" r="2.0" fill="#27aae1"/>
<circle cx="447.86" cy="388.50" r="2.0" fill="#27aae1"/>
<circle cx="451.75" cy="371.79" r="2.0" fill="#27aae1"/>
<circle cx="453.05" cy="377.44" r="2.0" fill="#27aae1"/>
<circle cx="449.69" cy="376.45" r="2.0" fill="#27aae1"/>
<circle cx="445.07" cy="370.58" r="2.0" fill="#27aae1"/>
<circle cx="443.54" cy="364.54" r="2.0" fill="#27aae1"/>
<circle cx="441.09" cy="362.48" r="2.0" fill="#27aae1"/>
<circle cx="450.88" cy="373.84" r="2.0" fill="#27aae1"/>
<circle cx="453.86" cy="376.08" r="2.0" fill="#27aae1"/>
<circle cx="445.42" cy="354.46" r="2.0" fill="#27aae1"/>
<circle cx="448.12" cy="354.44" r="2.0" fill="#27aae1"/>
<circle cx="448.52" cy="359.93" r="2.0" fill="#27aae1"/>
<circle cx="447.64" cy="374.48" r="2.0" fill="#27aae1"/>
<circle cx="448.43" cy="372.74" r="2.0" fill="#27aae1"/>
<circle cx="454.28" cy="380.82" r="2.0" fill="#27aae1"/>
<circle cx="446.69" cy="387.82" r="2.0" fill="#27aae1"/>
<circle cx="445.06" cy="347.94" r="2.0" fill="#27aae1"/>
<circle cx="452.07" cy="370.60" r="2.0" fill="#27aae1"/>
<circle cx="447.31" cy="348.81" r="2.0" fill="#27aae1"/>
<circle cx="452.91" cy="375.98" r="2.0" fill="#27aae1"/>
<circle cx="445.64" cy="350.24" r="2.0" fill="#27aae1"/>
<circle cx="445.57" cy="344.02" r="2.0" fill="#27aae1"/>
<circle cx="454.60" cy="383.35" r="2.0" fill="#27aae1"/>
<circle cx="445.24" cy="334.43" r="2.0" fill="#27aae1"/>
<circle cx="447.15" cy="362.46" r="2.0" fill="#27aae1"/>
<circle cx="453.66" cy="376.03" r="2.0" fill="#27aae1"/>
<circle cx="443.47" cy="378.92" r="2.0" fill="#27aae1"/>
<circle cx="443.39" cy="352.61" r="2.0" fill="#27aae1"/>
<circle cx="441.66" cy="366.64" r="2.0" fill="#27aae1"/>
<circle cx="438.61" cy="373.12" r="2.0" fill="#27aae1"/>
<circle cx="450.88" cy="375.61" r="2.0" fill="#27aae1"/>
<circle cx="453.15" cy="388.07" r="2.0" fill="#27aae1"/>
<circle cx="442.51" cy="378.45" r="2.0" fill="#27aae1"/>
<circle cx="452.00" cy="384.08" r="2.0" fill="#27aae1"/>
<circle cx="440.78" cy="385.98" r="2.0" fill="#27aae1"/>
<circle cx="435.47" cy="388.50" r="2.0" fill="#27aae1"/>
<circle cx="451.06" cy="375.85" r="2.0" fill="#27aae1"/>
<circle cx="442.83" cy="386.89" r="2.0" fill="#27aae1"/>
<circle cx="450.42" cy="385.66" r="2.0" fill="#27aae1"/>
<circle cx="494.82" cy="371.99" r="1.9" fill="#ec008c"/>
<circle cx="494.74" cy="368.37" r="1.9" fill="#ec008c"/>
<circle cx="494.89" cy="324.66" r="1.9" fill="#ec008c"/>
<circle cx="495.07" cy="363.99" r="1.9" fill="#ec008c"/>
<circle cx="497.03" cy="373.72" r="1.9" fill="#ec008c"/>
<circle cx="494.65" cy="340.17" r="1.9" fill="#ec008c"/>
<circle cx="492.50" cy="362.86" r="1.9" fill="#ec008c"/>
<circle cx="494.54" cy="355.62" r="1.9" fill="#ec008c"/>
<circle cx="492.82" cy="373.95" r="1.9" fill="#ec008c"/>
<circle cx="492.01" cy="369.01" r="1.9" fill="#ec008c"/>
<circle cx="494.68" cy="381.07" r="1.9" fill="#ec008c"/>
<circle cx="495.01" cy="350.37" r="1.9" fill="#ec008c"/>
<circle cx="494.64" cy="359.26" r="1.9" fill="#ec008c"/>
<circle cx="495.00" cy="377.59" r="1.9" fill="#ec008c"/>
<circle cx="490.44" cy="375.42" r="1.9" fill="#ec008c"/>
<circle cx="497.50" cy="367.93" r="1.9" fill="#ec008c"/>
<circle cx="494.61" cy="388.21" r="1.9" fill="#ec008c"/>
<circle cx="494.83" cy="384.64" r="1.9" fill="#ec008c"/>
<circle cx="499.87" cy="369.43" r="1.9" fill="#ec008c"/>
<circle cx="498.38" cy="376.17" r="1.9" fill="#ec008c"/>
<circle cx="497.12" cy="354.53" r="1.9" fill="#ec008c"/>
<circle cx="490.99" cy="371.62" r="1.9" fill="#ec008c"/>
<circle cx="493.12" cy="352.43" r="1.9" fill="#ec008c"/>
<circle cx="491.48" cy="365.47" r="1.9" fill="#ec008c"/>
<circle cx="489.22" cy="367.12" r="1.9" fill="#ec008c"/>
<circle cx="500.98" cy="375.12" r="1.9" fill="#ec008c"/>
<circle cx="496.09" cy="368.20" r="1.9" fill="#ec008c"/>
<circle cx="494.68" cy="344.46" r="1.9" fill="#ec008c"/>
<circle cx="498.56" cy="365.34" r="1.9" fill="#ec008c"/>
<circle cx="488.04" cy="369.66" r="1.9" fill="#ec008c"/>
<circle cx="492.11" cy="349.82" r="1.9" fill="#ec008c"/>
<circle cx="488.68" cy="367.85" r="1.9" fill="#ec008c"/>
<circle cx="487.64" cy="375.60" r="1.9" fill="#ec008c"/>
<circle cx="492.15" cy="383.83" r="1.9" fill="#ec008c"/>
<circle cx="497.47" cy="380.97" r="1.9" fill="#ec008c"/>
<circle cx="492.26" cy="357.78" r="1.9" fill="#ec008c"/>
<circle cx="496.57" cy="361.29" r="1.9" fill="#ec008c"/>
<circle cx="496.89" cy="386.58" r="1.9" fill="#ec008c"/>
<circle cx="492.48" cy="378.82" r="1.9" fill="#ec008c"/>
<circle cx="497.21" cy="358.16" r="1.9" fill="#ec008c"/>
<circle cx="502.39" cy="377.54" r="1.9" fill="#ec008c"/>
<circle cx="490.19" cy="385.82" r="1.9" fill="#ec008c"/>
<circle cx="488.70" cy="375.36" r="1.9" fill="#ec008c"/>
<circle cx="499.59" cy="387.33" r="1.9" fill="#ec008c"/>
<circle cx="499.37" cy="361.47" r="1.9" fill="#ec008c"/>
<circle cx="485.45" cy="377.35" r="1.9" fill="#ec008c"/>
<circle cx="495.20" cy="368.15" r="1.9" fill="#ec008c"/>
<circle cx="494.69" cy="321.38" r="1.9" fill="#ec008c"/>
<circle cx="493.62" cy="340.25" r="1.9" fill="#ec008c"/>
<circle cx="500.98" cy="366.75" r="1.9" fill="#ec008c"/>
<circle cx="495.41" cy="345.49" r="1.9" fill="#ec008c"/>
<circle cx="494.51" cy="333.02" r="1.9" fill="#ec008c"/>
<circle cx="488.14" cy="376.19" r="1.9" fill="#ec008c"/>
<circle cx="489.70" cy="362.80" r="1.9" fill="#ec008c"/>
<circle cx="488.38" cy="366.89" r="1.9" fill="#ec008c"/>
<circle cx="503.66" cy="374.31" r="1.9" fill="#ec008c"/>
<circle cx="490.93" cy="374.97" r="1.9" fill="#ec008c"/>
<circle cx="494.76" cy="326.20" r="1.9" fill="#ec008c"/>
<circle cx="493.87" cy="377.37" r="1.9" fill="#ec008c"/>
<circle cx="500.52" cy="384.69" r="1.9" fill="#ec008c"/>
<circle cx="491.89" cy="388.50" r="1.9" fill="#ec008c"/>
<circle cx="493.58" cy="352.27" r="1.9" fill="#ec008c"/>
<circle cx="490.09" cy="381.94" r="1.9" fill="#ec008c"/>
<circle cx="488.85" cy="388.28" r="1.9" fill="#ec008c"/>
<circle cx="501.53" cy="382.08" r="1.9" fill="#ec008c"/>
<circle cx="487.30" cy="382.21" r="1.9" fill="#ec008c"/>
<circle cx="492.79" cy="357.38" r="1.9" fill="#ec008c"/>
<circle cx="501.90" cy="388.50" r="1.9" fill="#ec008c"/>
<circle cx="486.11" cy="387.73" r="1.9" fill="#ec008c"/>
<circle cx="489.77" cy="374.71" r="1.9" fill="#ec008c"/>
<circle cx="503.55" cy="384.03" r="1.9" fill="#ec008c"/>
<circle cx="499.87" cy="364.06" r="1.9" fill="#ec008c"/>
<circle cx="504.77" cy="381.51" r="1.9" fill="#ec008c"/>
<circle cx="495.79" cy="338.88" r="1.9" fill="#ec008c"/>
<circle cx="485.35" cy="380.20" r="1.9" fill="#ec008c"/>
<circle cx="494.17" cy="321.55" r="1.9" fill="#ec008c"/>
<circle cx="502.16" cy="371.04" r="1.9" fill="#ec008c"/>
<circle cx="492.28" cy="367.49" r="1.9" fill="#ec008c"/>
<circle cx="493.95" cy="333.04" r="1.9" fill="#ec008c"/>
<circle cx="494.21" cy="345.66" r="1.9" fill="#ec008c"/>
<circle cx="494.80" cy="307.10" r="1.9" fill="#ec008c"/>
<line x1="370.20" y1="365.10" x2="530.00" y2="365.10" stroke="#bcbec0" stroke-width="1.6" stroke-dasharray="12.8 8.6"/>
<line x1="396.10" y1="360.20" x2="396.10" y2="368.20" stroke="#231f20" stroke-width="1.5" />
<line x1="394.40" y1="360.20" x2="397.80" y2="360.20" stroke="#231f20" stroke-width="1.3" />
<line x1="394.40" y1="368.20" x2="397.80" y2="368.20" stroke="#231f20" stroke-width="1.3" />
<circle cx="396.10" cy="364.20" r="1.2" fill="#231f20"/>
<line x1="445.60" y1="364.00" x2="445.60" y2="370.00" stroke="#231f20" stroke-width="1.5" />
<line x1="443.90" y1="364.00" x2="447.30" y2="364.00" stroke="#231f20" stroke-width="1.3" />
<line x1="443.90" y1="370.00" x2="447.30" y2="370.00" stroke="#231f20" stroke-width="1.3" />
<circle cx="445.60" cy="367.00" r="1.2" fill="#231f20"/>
<line x1="494.80" y1="361.50" x2="494.80" y2="369.50" stroke="#231f20" stroke-width="1.5" />
<line x1="493.10" y1="361.50" x2="496.50" y2="361.50" stroke="#231f20" stroke-width="1.3" />
<line x1="493.10" y1="369.50" x2="496.50" y2="369.50" stroke="#231f20" stroke-width="1.3" />
<circle cx="494.80" cy="365.50" r="1.2" fill="#231f20"/>
<line x1="370.20" y1="304.30" x2="370.20" y2="389.00" stroke="#6d6e71" stroke-width="1.0" />
<line x1="369.70" y1="389.00" x2="530.00" y2="389.00" stroke="#a7a9ac" stroke-width="1.5" />
<line x1="396.10" y1="389.00" x2="396.10" y2="386.50" stroke="#8a8a8a" stroke-width="0.9" />
<line x1="445.60" y1="389.00" x2="445.60" y2="386.50" stroke="#8a8a8a" stroke-width="0.9" />
<line x1="494.80" y1="389.00" x2="494.80" y2="386.50" stroke="#8a8a8a" stroke-width="0.9" />
<line x1="370.20" y1="315.00" x2="372.70" y2="315.00" stroke="#8a8a8a" stroke-width="0.9" />
<text x="369.00" y="320.48" font-size="15.3" fill="#58595b" text-anchor="end" textLength="19.3" lengthAdjust="spacingAndGlyphs">200</text>
<line x1="370.20" y1="339.60" x2="372.70" y2="339.60" stroke="#8a8a8a" stroke-width="0.9" />
<text x="369.00" y="345.08" font-size="15.3" fill="#58595b" text-anchor="end" textLength="19.3" lengthAdjust="spacingAndGlyphs">100</text>
<line x1="370.20" y1="364.20" x2="372.70" y2="364.20" stroke="#8a8a8a" stroke-width="0.9" />
<text x="369.00" y="369.68" font-size="15.3" fill="#58595b" text-anchor="end" textLength="6.2" lengthAdjust="spacingAndGlyphs">0</text>
<line x1="370.20" y1="386.60" x2="372.70" y2="386.60" stroke="#8a8a8a" stroke-width="0.9" />
<text x="369.00" y="392.08" font-size="15.3" fill="#58595b" text-anchor="end" textLength="22.5" lengthAdjust="spacingAndGlyphs">-100</text>
<text x="314.90" y="357.55" font-size="15.5" fill="#231f20" text-anchor="middle" textLength="37" lengthAdjust="spacingAndGlyphs" transform="rotate(-90 314.90 352.00)">Sleep</text>
<text x="329.80" y="355.85" font-size="15.5" fill="#231f20" text-anchor="middle" textLength="58.8" lengthAdjust="spacingAndGlyphs" transform="rotate(-90 329.80 350.30)">(%ΔWT)</text>
<line x1="370.20" y1="441.30" x2="530.00" y2="441.30" stroke="#5ab4ea" stroke-width="1.0" stroke-dasharray="1.1 4.25" stroke-dashoffset="-2.1"/>
<circle cx="395.90" cy="441.30" r="3.5" fill="#231f20"/>
<line x1="445.60" y1="429.10" x2="445.60" y2="486.20" stroke="#58595b" stroke-width="1.1" />
<line x1="444.20" y1="429.10" x2="447.00" y2="429.10" stroke="#231f20" stroke-width="1.3" />
<line x1="444.20" y1="486.20" x2="447.00" y2="486.20" stroke="#231f20" stroke-width="1.3" />
<circle cx="445.60" cy="458.30" r="3.5" fill="#231f20"/>
<line x1="494.70" y1="420.50" x2="494.70" y2="485.30" stroke="#58595b" stroke-width="1.1" />
<line x1="493.30" y1="420.50" x2="496.10" y2="420.50" stroke="#231f20" stroke-width="1.3" />
<line x1="493.30" y1="485.30" x2="496.10" y2="485.30" stroke="#231f20" stroke-width="1.3" />
<circle cx="494.70" cy="452.60" r="3.5" fill="#231f20"/>
<line x1="370.20" y1="414.00" x2="370.20" y2="493.60" stroke="#6d6e71" stroke-width="1.0" />
<line x1="369.70" y1="493.60" x2="530.00" y2="493.60" stroke="#6d6e71" stroke-width="1.0" />
<line x1="395.90" y1="493.60" x2="395.90" y2="491.10" stroke="#8a8a8a" stroke-width="0.9" />
<line x1="445.60" y1="493.60" x2="445.60" y2="491.10" stroke="#8a8a8a" stroke-width="0.9" />
<line x1="494.70" y1="493.60" x2="494.70" y2="491.10" stroke="#8a8a8a" stroke-width="0.9" />
<text x="369.00" y="429.50" font-size="14.8" fill="#58595b" text-anchor="end" textLength="12.5" lengthAdjust="spacingAndGlyphs">10</text>
<line x1="370.20" y1="425.60" x2="372.70" y2="425.60" stroke="#8a8a8a" stroke-width="0.9" />
<text x="369.00" y="444.90" font-size="14.8" fill="#58595b" text-anchor="end" textLength="6" lengthAdjust="spacingAndGlyphs">0</text>
<line x1="370.20" y1="441.00" x2="372.70" y2="441.00" stroke="#8a8a8a" stroke-width="0.9" />
<text x="369.00" y="460.90" font-size="14.8" fill="#58595b" text-anchor="end" textLength="17.5" lengthAdjust="spacingAndGlyphs">-10</text>
<line x1="370.20" y1="457.00" x2="372.70" y2="457.00" stroke="#8a8a8a" stroke-width="0.9" />
<text x="369.00" y="476.30" font-size="14.8" fill="#58595b" text-anchor="end" textLength="17.5" lengthAdjust="spacingAndGlyphs">-20</text>
<line x1="370.20" y1="472.40" x2="372.70" y2="472.40" stroke="#8a8a8a" stroke-width="0.9" />
<text x="369.00" y="491.50" font-size="14.8" fill="#58595b" text-anchor="end" textLength="17.5" lengthAdjust="spacingAndGlyphs">-30</text>
<line x1="370.20" y1="487.60" x2="372.70" y2="487.60" stroke="#8a8a8a" stroke-width="0.9" />
<text x="314.70" y="461.35" font-size="15.5" fill="#231f20" text-anchor="middle" textLength="66.3" lengthAdjust="spacingAndGlyphs" transform="rotate(-90 314.70 455.80)">Effect Size</text>
<text x="329.00" y="461.35" font-size="15.5" fill="#231f20" text-anchor="middle" textLength="21.4" lengthAdjust="spacingAndGlyphs" transform="rotate(-90 329.00 455.80)">(%)</text>
<text x="356.20" y="509.00" font-size="14" fill="#231f20" text-anchor="middle" font-style="italic" textLength="33" lengthAdjust="spacingAndGlyphs">appb</text>
<text x="392.00" y="509.00" font-size="14" fill="#231f20" text-anchor="middle" textLength="21" lengthAdjust="spacingAndGlyphs">+/+</text>
<text x="446.20" y="509.00" font-size="14" fill="#231f20" text-anchor="middle" textLength="17" lengthAdjust="spacingAndGlyphs">+/-</text>
<text x="500.10" y="509.00" font-size="14" fill="#231f20" text-anchor="middle" textLength="14" lengthAdjust="spacingAndGlyphs">-/-</text>
<text x="547.50" y="285.83" font-size="13.5" fill="#000" text-anchor="middle" font-weight="bold">F</text>
<line x1="605.80" y1="291.20" x2="715.10" y2="291.20" stroke="#5d5d5f" stroke-width="1.1" />
<text x="657.70" y="295.40" font-size="17" fill="#231f20" text-anchor="middle" font-weight="bold">*</text>
<line x1="605.80" y1="304.40" x2="661.20" y2="304.40" stroke="#5d5d5f" stroke-width="1.1" />
<text x="633.40" y="310.60" font-size="17" fill="#231f20" text-anchor="middle" font-weight="bold">*</text>
<circle cx="605.49" cy="360.15" r="1.9" fill="#6d6e71"/>
<circle cx="605.79" cy="329.49" r="1.9" fill="#6d6e71"/>
<circle cx="605.90" cy="340.19" r="1.9" fill="#6d6e71"/>
<circle cx="603.70" cy="341.15" r="1.9" fill="#6d6e71"/>
<circle cx="605.71" cy="345.15" r="1.9" fill="#6d6e71"/>
<circle cx="605.90" cy="337.07" r="1.9" fill="#6d6e71"/>
<circle cx="605.90" cy="348.08" r="1.9" fill="#6d6e71"/>
<circle cx="604.09" cy="331.19" r="1.9" fill="#6d6e71"/>
<circle cx="603.72" cy="336.07" r="1.9" fill="#6d6e71"/>
<circle cx="606.75" cy="342.43" r="1.9" fill="#6d6e71"/>
<circle cx="605.40" cy="350.56" r="1.9" fill="#6d6e71"/>
<circle cx="607.36" cy="351.96" r="1.9" fill="#6d6e71"/>
<circle cx="609.06" cy="341.77" r="1.9" fill="#6d6e71"/>
<circle cx="603.59" cy="348.73" r="1.9" fill="#6d6e71"/>
<circle cx="606.85" cy="334.87" r="1.9" fill="#6d6e71"/>
<circle cx="605.58" cy="327.01" r="1.9" fill="#6d6e71"/>
<circle cx="608.11" cy="345.09" r="1.9" fill="#6d6e71"/>
<circle cx="608.49" cy="336.62" r="1.9" fill="#6d6e71"/>
<circle cx="608.04" cy="349.16" r="1.9" fill="#6d6e71"/>
<circle cx="606.32" cy="332.08" r="1.9" fill="#6d6e71"/>
<circle cx="605.75" cy="356.01" r="1.9" fill="#6d6e71"/>
<circle cx="608.72" cy="332.24" r="1.9" fill="#6d6e71"/>
<circle cx="605.82" cy="366.05" r="1.9" fill="#6d6e71"/>
<circle cx="603.67" cy="343.89" r="1.9" fill="#6d6e71"/>
<circle cx="601.75" cy="337.44" r="1.9" fill="#6d6e71"/>
<circle cx="602.71" cy="333.89" r="1.9" fill="#6d6e71"/>
<circle cx="603.40" cy="361.34" r="1.9" fill="#6d6e71"/>
<circle cx="608.15" cy="355.89" r="1.9" fill="#6d6e71"/>
<circle cx="601.31" cy="341.35" r="1.9" fill="#6d6e71"/>
<circle cx="604.06" cy="352.56" r="1.9" fill="#6d6e71"/>
<circle cx="610.52" cy="335.35" r="1.9" fill="#6d6e71"/>
<circle cx="601.32" cy="344.35" r="1.9" fill="#6d6e71"/>
<circle cx="611.15" cy="340.60" r="1.9" fill="#6d6e71"/>
<circle cx="611.74" cy="342.93" r="1.9" fill="#6d6e71"/>
<circle cx="598.93" cy="344.60" r="1.9" fill="#6d6e71"/>
<circle cx="601.30" cy="348.01" r="1.9" fill="#6d6e71"/>
<circle cx="601.70" cy="331.06" r="1.9" fill="#6d6e71"/>
<circle cx="598.92" cy="341.57" r="1.9" fill="#6d6e71"/>
<circle cx="609.48" cy="347.07" r="1.9" fill="#6d6e71"/>
<circle cx="610.35" cy="338.14" r="1.9" fill="#6d6e71"/>
<circle cx="607.26" cy="366.21" r="1.9" fill="#6d6e71"/>
<circle cx="610.45" cy="330.58" r="1.9" fill="#6d6e71"/>
<circle cx="613.53" cy="340.30" r="1.9" fill="#6d6e71"/>
<circle cx="597.14" cy="339.95" r="1.9" fill="#6d6e71"/>
<circle cx="611.61" cy="345.96" r="1.9" fill="#6d6e71"/>
<circle cx="615.82" cy="341.02" r="1.9" fill="#6d6e71"/>
<circle cx="608.27" cy="339.34" r="1.9" fill="#6d6e71"/>
<circle cx="600.33" cy="334.23" r="1.9" fill="#6d6e71"/>
<circle cx="607.89" cy="360.05" r="1.9" fill="#6d6e71"/>
<circle cx="601.91" cy="351.50" r="1.9" fill="#6d6e71"/>
<circle cx="603.85" cy="330.44" r="1.9" fill="#6d6e71"/>
<circle cx="604.26" cy="357.89" r="1.9" fill="#6d6e71"/>
<circle cx="602.33" cy="354.22" r="1.9" fill="#6d6e71"/>
<circle cx="612.54" cy="334.05" r="1.9" fill="#6d6e71"/>
<circle cx="599.45" cy="336.76" r="1.9" fill="#6d6e71"/>
<circle cx="604.01" cy="333.46" r="1.9" fill="#6d6e71"/>
<circle cx="610.54" cy="349.22" r="1.9" fill="#6d6e71"/>
<circle cx="612.62" cy="337.37" r="1.9" fill="#6d6e71"/>
<circle cx="597.06" cy="336.94" r="1.9" fill="#6d6e71"/>
<circle cx="613.99" cy="345.64" r="1.9" fill="#6d6e71"/>
<circle cx="598.93" cy="347.62" r="1.9" fill="#6d6e71"/>
<circle cx="605.86" cy="331.95" r="1.9" fill="#6d6e71"/>
<circle cx="608.17" cy="329.79" r="1.9" fill="#6d6e71"/>
<circle cx="610.80" cy="337.71" r="1.9" fill="#6d6e71"/>
<circle cx="612.98" cy="347.94" r="1.9" fill="#6d6e71"/>
<circle cx="601.12" cy="360.60" r="1.9" fill="#6d6e71"/>
<circle cx="607.97" cy="332.77" r="1.9" fill="#6d6e71"/>
<circle cx="615.52" cy="347.49" r="1.9" fill="#6d6e71"/>
<circle cx="602.13" cy="339.57" r="1.9" fill="#6d6e71"/>
<circle cx="610.12" cy="354.53" r="1.9" fill="#6d6e71"/>
<circle cx="603.77" cy="329.90" r="1.9" fill="#6d6e71"/>
<circle cx="610.21" cy="337.09" r="1.9" fill="#6d6e71"/>
<circle cx="596.59" cy="345.13" r="1.9" fill="#6d6e71"/>
<circle cx="597.98" cy="349.82" r="1.9" fill="#6d6e71"/>
<circle cx="599.93" cy="354.05" r="1.9" fill="#6d6e71"/>
<circle cx="610.28" cy="359.88" r="1.9" fill="#6d6e71"/>
<circle cx="613.80" cy="350.20" r="1.9" fill="#6d6e71"/>
<circle cx="603.71" cy="337.82" r="1.9" fill="#6d6e71"/>
<circle cx="610.08" cy="349.47" r="1.9" fill="#6d6e71"/>
<circle cx="611.25" cy="351.56" r="1.9" fill="#6d6e71"/>
<circle cx="614.13" cy="343.06" r="1.9" fill="#6d6e71"/>
<circle cx="595.11" cy="341.22" r="1.9" fill="#6d6e71"/>
<circle cx="613.78" cy="340.71" r="1.9" fill="#6d6e71"/>
<circle cx="595.76" cy="348.91" r="1.9" fill="#6d6e71"/>
<circle cx="598.08" cy="334.83" r="1.9" fill="#6d6e71"/>
<circle cx="598.55" cy="333.72" r="1.9" fill="#6d6e71"/>
<circle cx="612.42" cy="348.30" r="1.9" fill="#6d6e71"/>
<circle cx="610.54" cy="335.82" r="1.9" fill="#6d6e71"/>
<circle cx="601.88" cy="357.58" r="1.9" fill="#6d6e71"/>
<circle cx="612.03" cy="355.99" r="1.9" fill="#6d6e71"/>
<circle cx="615.11" cy="347.62" r="1.9" fill="#6d6e71"/>
<circle cx="605.47" cy="331.86" r="1.9" fill="#6d6e71"/>
<circle cx="613.15" cy="353.04" r="1.9" fill="#6d6e71"/>
<circle cx="616.35" cy="343.98" r="1.9" fill="#6d6e71"/>
<circle cx="609.14" cy="332.17" r="1.9" fill="#6d6e71"/>
<circle cx="595.66" cy="348.44" r="1.9" fill="#6d6e71"/>
<circle cx="610.45" cy="342.70" r="1.9" fill="#6d6e71"/>
<circle cx="600.66" cy="348.98" r="1.9" fill="#6d6e71"/>
<circle cx="606.00" cy="343.72" r="1.9" fill="#6d6e71"/>
<circle cx="601.54" cy="340.04" r="1.9" fill="#6d6e71"/>
<circle cx="607.24" cy="337.37" r="1.9" fill="#6d6e71"/>
<circle cx="614.25" cy="348.13" r="1.9" fill="#6d6e71"/>
<circle cx="603.54" cy="365.31" r="1.9" fill="#6d6e71"/>
<circle cx="603.23" cy="354.81" r="1.9" fill="#6d6e71"/>
<circle cx="597.62" cy="353.41" r="1.9" fill="#6d6e71"/>
<circle cx="599.55" cy="357.01" r="1.9" fill="#6d6e71"/>
<circle cx="605.96" cy="359.76" r="1.9" fill="#6d6e71"/>
<circle cx="615.40" cy="343.83" r="1.9" fill="#6d6e71"/>
<circle cx="610.90" cy="336.33" r="1.9" fill="#6d6e71"/>
<circle cx="606.50" cy="362.02" r="1.9" fill="#6d6e71"/>
<circle cx="611.12" cy="333.08" r="1.9" fill="#6d6e71"/>
<circle cx="611.03" cy="350.08" r="1.9" fill="#6d6e71"/>
<circle cx="606.66" cy="342.64" r="1.9" fill="#6d6e71"/>
<circle cx="609.53" cy="356.18" r="1.9" fill="#6d6e71"/>
<circle cx="604.59" cy="329.38" r="1.9" fill="#6d6e71"/>
<circle cx="605.70" cy="313.60" r="1.9" fill="#6d6e71"/>
<circle cx="605.70" cy="375.80" r="1.9" fill="#6d6e71"/>
<circle cx="659.48" cy="334.71" r="1.9" fill="#2e3192"/>
<circle cx="659.49" cy="361.99" r="1.9" fill="#2e3192"/>
<circle cx="658.14" cy="360.39" r="1.9" fill="#2e3192"/>
<circle cx="659.52" cy="349.63" r="1.9" fill="#2e3192"/>
<circle cx="659.33" cy="354.47" r="1.9" fill="#2e3192"/>
<circle cx="659.34" cy="344.56" r="1.9" fill="#2e3192"/>
<circle cx="659.71" cy="358.99" r="1.9" fill="#2e3192"/>
<circle cx="661.38" cy="354.04" r="1.9" fill="#2e3192"/>
<circle cx="659.33" cy="326.72" r="1.9" fill="#2e3192"/>
<circle cx="659.32" cy="329.88" r="1.9" fill="#2e3192"/>
<circle cx="659.80" cy="364.13" r="1.9" fill="#2e3192"/>
<circle cx="658.06" cy="333.17" r="1.9" fill="#2e3192"/>
<circle cx="660.08" cy="331.84" r="1.9" fill="#2e3192"/>
<circle cx="657.72" cy="350.72" r="1.9" fill="#2e3192"/>
<circle cx="661.61" cy="349.81" r="1.9" fill="#2e3192"/>
<circle cx="658.75" cy="365.94" r="1.9" fill="#2e3192"/>
<circle cx="662.14" cy="332.27" r="1.9" fill="#2e3192"/>
<circle cx="660.73" cy="366.63" r="1.9" fill="#2e3192"/>
<circle cx="659.37" cy="356.68" r="1.9" fill="#2e3192"/>
<circle cx="661.53" cy="357.94" r="1.9" fill="#2e3192"/>
<circle cx="660.14" cy="342.62" r="1.9" fill="#2e3192"/>
<circle cx="661.54" cy="344.19" r="1.9" fill="#2e3192"/>
<circle cx="661.40" cy="329.54" r="1.9" fill="#2e3192"/>
<circle cx="657.31" cy="357.06" r="1.9" fill="#2e3192"/>
<circle cx="659.65" cy="347.09" r="1.9" fill="#2e3192"/>
<circle cx="661.56" cy="335.03" r="1.9" fill="#2e3192"/>
<circle cx="659.33" cy="340.26" r="1.9" fill="#2e3192"/>
<circle cx="657.36" cy="341.00" r="1.9" fill="#2e3192"/>
<circle cx="661.85" cy="341.39" r="1.9" fill="#2e3192"/>
<circle cx="661.79" cy="364.79" r="1.9" fill="#2e3192"/>
<circle cx="657.81" cy="335.98" r="1.9" fill="#2e3192"/>
<circle cx="662.13" cy="359.96" r="1.9" fill="#2e3192"/>
<circle cx="659.80" cy="323.89" r="1.9" fill="#2e3192"/>
<circle cx="657.37" cy="348.64" r="1.9" fill="#2e3192"/>
<circle cx="662.13" cy="347.77" r="1.9" fill="#2e3192"/>
<circle cx="663.90" cy="348.91" r="1.9" fill="#2e3192"/>
<circle cx="655.57" cy="339.90" r="1.9" fill="#2e3192"/>
<circle cx="662.99" cy="355.39" r="1.9" fill="#2e3192"/>
<circle cx="657.10" cy="331.30" r="1.9" fill="#2e3192"/>
<circle cx="657.56" cy="353.34" r="1.9" fill="#2e3192"/>
<circle cx="663.92" cy="341.71" r="1.9" fill="#2e3192"/>
<circle cx="655.31" cy="348.25" r="1.9" fill="#2e3192"/>
<circle cx="665.05" cy="339.94" r="1.9" fill="#2e3192"/>
<circle cx="657.36" cy="343.86" r="1.9" fill="#2e3192"/>
<circle cx="664.94" cy="347.09" r="1.9" fill="#2e3192"/>
<circle cx="655.84" cy="335.27" r="1.9" fill="#2e3192"/>
<circle cx="659.86" cy="370.23" r="1.9" fill="#2e3192"/>
<circle cx="657.60" cy="362.90" r="1.9" fill="#2e3192"/>
<circle cx="653.66" cy="349.55" r="1.9" fill="#2e3192"/>
<circle cx="655.51" cy="355.97" r="1.9" fill="#2e3192"/>
<circle cx="657.68" cy="328.02" r="1.9" fill="#2e3192"/>
<circle cx="662.39" cy="362.77" r="1.9" fill="#2e3192"/>
<circle cx="665.08" cy="355.20" r="1.9" fill="#2e3192"/>
<circle cx="655.66" cy="351.12" r="1.9" fill="#2e3192"/>
<circle cx="655.48" cy="342.93" r="1.9" fill="#2e3192"/>
<circle cx="653.99" cy="354.52" r="1.9" fill="#2e3192"/>
<circle cx="664.06" cy="357.19" r="1.9" fill="#2e3192"/>
<circle cx="656.65" cy="365.80" r="1.9" fill="#2e3192"/>
<circle cx="655.53" cy="363.27" r="1.9" fill="#2e3192"/>
<circle cx="660.70" cy="338.67" r="1.9" fill="#2e3192"/>
<circle cx="652.01" cy="355.24" r="1.9" fill="#2e3192"/>
<circle cx="657.87" cy="369.57" r="1.9" fill="#2e3192"/>
<circle cx="664.45" cy="363.15" r="1.9" fill="#2e3192"/>
<circle cx="656.17" cy="359.67" r="1.9" fill="#2e3192"/>
<circle cx="663.50" cy="333.87" r="1.9" fill="#2e3192"/>
<circle cx="653.64" cy="340.73" r="1.9" fill="#2e3192"/>
<circle cx="665.97" cy="342.19" r="1.9" fill="#2e3192"/>
<circle cx="663.63" cy="344.35" r="1.9" fill="#2e3192"/>
<circle cx="659.55" cy="372.51" r="1.9" fill="#2e3192"/>
<circle cx="666.77" cy="348.12" r="1.9" fill="#2e3192"/>
<circle cx="663.34" cy="351.00" r="1.9" fill="#2e3192"/>
<circle cx="653.75" cy="344.12" r="1.9" fill="#2e3192"/>
<circle cx="665.73" cy="344.45" r="1.9" fill="#2e3192"/>
<circle cx="662.34" cy="337.35" r="1.9" fill="#2e3192"/>
<circle cx="666.89" cy="354.13" r="1.9" fill="#2e3192"/>
<circle cx="664.38" cy="352.83" r="1.9" fill="#2e3192"/>
<circle cx="652.50" cy="353.04" r="1.9" fill="#2e3192"/>
<circle cx="661.77" cy="368.45" r="1.9" fill="#2e3192"/>
<circle cx="665.18" cy="335.13" r="1.9" fill="#2e3192"/>
<circle cx="664.23" cy="359.82" r="1.9" fill="#2e3192"/>
<circle cx="654.52" cy="336.90" r="1.9" fill="#2e3192"/>
<circle cx="666.61" cy="356.64" r="1.9" fill="#2e3192"/>
<circle cx="654.30" cy="361.57" r="1.9" fill="#2e3192"/>
<circle cx="654.28" cy="358.75" r="1.9" fill="#2e3192"/>
<circle cx="665.63" cy="361.38" r="1.9" fill="#2e3192"/>
<circle cx="663.09" cy="328.30" r="1.9" fill="#2e3192"/>
<circle cx="651.79" cy="344.87" r="1.9" fill="#2e3192"/>
<circle cx="667.01" cy="339.17" r="1.9" fill="#2e3192"/>
<circle cx="652.65" cy="357.42" r="1.9" fill="#2e3192"/>
<circle cx="668.67" cy="353.02" r="1.9" fill="#2e3192"/>
<circle cx="662.87" cy="366.66" r="1.9" fill="#2e3192"/>
<circle cx="663.19" cy="361.67" r="1.9" fill="#2e3192"/>
<circle cx="668.57" cy="355.89" r="1.9" fill="#2e3192"/>
<circle cx="651.38" cy="354.94" r="1.9" fill="#2e3192"/>
<circle cx="655.90" cy="357.80" r="1.9" fill="#2e3192"/>
<circle cx="667.80" cy="344.13" r="1.9" fill="#2e3192"/>
<circle cx="655.05" cy="333.32" r="1.9" fill="#2e3192"/>
<circle cx="662.81" cy="356.10" r="1.9" fill="#2e3192"/>
<circle cx="651.74" cy="341.62" r="1.9" fill="#2e3192"/>
<circle cx="657.73" cy="346.24" r="1.9" fill="#2e3192"/>
<circle cx="654.12" cy="346.52" r="1.9" fill="#2e3192"/>
<circle cx="657.75" cy="324.33" r="1.9" fill="#2e3192"/>
<circle cx="656.43" cy="368.04" r="1.9" fill="#2e3192"/>
<circle cx="661.57" cy="369.36" r="1.9" fill="#2e3192"/>
<circle cx="658.55" cy="364.50" r="1.9" fill="#2e3192"/>
<circle cx="652.43" cy="360.61" r="1.9" fill="#2e3192"/>
<circle cx="652.98" cy="340.05" r="1.9" fill="#2e3192"/>
<circle cx="658.70" cy="338.03" r="1.9" fill="#2e3192"/>
<circle cx="651.68" cy="348.86" r="1.9" fill="#2e3192"/>
<circle cx="655.88" cy="360.51" r="1.9" fill="#2e3192"/>
<circle cx="650.40" cy="352.89" r="1.9" fill="#2e3192"/>
<circle cx="667.56" cy="358.51" r="1.9" fill="#2e3192"/>
<circle cx="661.08" cy="368.21" r="1.9" fill="#2e3192"/>
<circle cx="668.60" cy="349.15" r="1.9" fill="#2e3192"/>
<circle cx="665.60" cy="351.12" r="1.9" fill="#2e3192"/>
<circle cx="667.83" cy="341.21" r="1.9" fill="#2e3192"/>
<circle cx="665.16" cy="357.93" r="1.9" fill="#2e3192"/>
<circle cx="661.58" cy="325.01" r="1.9" fill="#2e3192"/>
<circle cx="660.34" cy="325.65" r="1.9" fill="#2e3192"/>
<circle cx="650.59" cy="347.06" r="1.9" fill="#2e3192"/>
<circle cx="658.94" cy="341.45" r="1.9" fill="#2e3192"/>
<circle cx="661.16" cy="361.20" r="1.9" fill="#2e3192"/>
<circle cx="652.04" cy="338.18" r="1.9" fill="#2e3192"/>
<circle cx="664.15" cy="363.17" r="1.9" fill="#2e3192"/>
<circle cx="649.88" cy="349.95" r="1.9" fill="#2e3192"/>
<circle cx="659.17" cy="335.86" r="1.9" fill="#2e3192"/>
<circle cx="659.37" cy="352.28" r="1.9" fill="#2e3192"/>
<circle cx="660.23" cy="354.55" r="1.9" fill="#2e3192"/>
<circle cx="661.28" cy="340.08" r="1.9" fill="#2e3192"/>
<circle cx="666.75" cy="349.02" r="1.9" fill="#2e3192"/>
<circle cx="661.23" cy="356.30" r="1.9" fill="#2e3192"/>
<circle cx="670.27" cy="350.43" r="1.9" fill="#2e3192"/>
<circle cx="658.48" cy="357.33" r="1.9" fill="#2e3192"/>
<circle cx="666.30" cy="336.90" r="1.9" fill="#2e3192"/>
<circle cx="658.91" cy="337.20" r="1.9" fill="#2e3192"/>
<circle cx="656.86" cy="362.45" r="1.9" fill="#2e3192"/>
<circle cx="667.93" cy="346.37" r="1.9" fill="#2e3192"/>
<circle cx="662.28" cy="363.93" r="1.9" fill="#2e3192"/>
<circle cx="651.47" cy="353.96" r="1.9" fill="#2e3192"/>
<circle cx="655.92" cy="364.35" r="1.9" fill="#2e3192"/>
<circle cx="657.72" cy="365.66" r="1.9" fill="#2e3192"/>
<circle cx="665.25" cy="332.71" r="1.9" fill="#2e3192"/>
<circle cx="660.02" cy="366.95" r="1.9" fill="#2e3192"/>
<circle cx="651.00" cy="342.33" r="1.9" fill="#2e3192"/>
<circle cx="664.97" cy="358.54" r="1.9" fill="#2e3192"/>
<circle cx="663.01" cy="358.43" r="1.9" fill="#2e3192"/>
<circle cx="654.23" cy="343.23" r="1.9" fill="#2e3192"/>
<circle cx="653.39" cy="358.00" r="1.9" fill="#2e3192"/>
<circle cx="661.15" cy="359.86" r="1.9" fill="#2e3192"/>
<circle cx="664.28" cy="356.85" r="1.9" fill="#2e3192"/>
<circle cx="653.16" cy="358.70" r="1.9" fill="#2e3192"/>
<circle cx="662.06" cy="341.76" r="1.9" fill="#2e3192"/>
<circle cx="657.04" cy="354.23" r="1.9" fill="#2e3192"/>
<circle cx="661.75" cy="349.49" r="1.9" fill="#2e3192"/>
<circle cx="664.98" cy="335.78" r="1.9" fill="#2e3192"/>
<circle cx="660.29" cy="348.02" r="1.9" fill="#2e3192"/>
<circle cx="653.35" cy="343.34" r="1.9" fill="#2e3192"/>
<circle cx="656.49" cy="339.41" r="1.9" fill="#2e3192"/>
<circle cx="653.17" cy="335.29" r="1.9" fill="#2e3192"/>
<circle cx="665.48" cy="348.85" r="1.9" fill="#2e3192"/>
<circle cx="664.66" cy="343.54" r="1.9" fill="#2e3192"/>
<circle cx="665.77" cy="350.43" r="1.9" fill="#2e3192"/>
<circle cx="653.05" cy="350.07" r="1.9" fill="#2e3192"/>
<circle cx="656.34" cy="366.93" r="1.9" fill="#2e3192"/>
<circle cx="657.31" cy="342.53" r="1.9" fill="#2e3192"/>
<circle cx="667.57" cy="343.86" r="1.9" fill="#2e3192"/>
<circle cx="663.68" cy="364.54" r="1.9" fill="#2e3192"/>
<circle cx="667.67" cy="344.08" r="1.9" fill="#2e3192"/>
<circle cx="662.47" cy="342.03" r="1.9" fill="#2e3192"/>
<circle cx="655.75" cy="328.85" r="1.9" fill="#2e3192"/>
<circle cx="661.73" cy="327.99" r="1.9" fill="#2e3192"/>
<circle cx="652.47" cy="357.76" r="1.9" fill="#2e3192"/>
<circle cx="669.12" cy="348.71" r="1.9" fill="#2e3192"/>
<circle cx="662.19" cy="347.51" r="1.9" fill="#2e3192"/>
<circle cx="651.12" cy="354.48" r="1.9" fill="#2e3192"/>
<circle cx="661.74" cy="332.49" r="1.9" fill="#2e3192"/>
<circle cx="659.64" cy="348.29" r="1.9" fill="#2e3192"/>
<circle cx="658.00" cy="369.74" r="1.9" fill="#2e3192"/>
<circle cx="650.18" cy="352.16" r="1.9" fill="#2e3192"/>
<circle cx="662.12" cy="337.14" r="1.9" fill="#2e3192"/>
<circle cx="659.60" cy="313.60" r="1.9" fill="#2e3192"/>
<circle cx="714.12" cy="346.03" r="1.9" fill="#ed1c24"/>
<circle cx="714.09" cy="339.70" r="1.9" fill="#ed1c24"/>
<circle cx="716.75" cy="340.16" r="1.9" fill="#ed1c24"/>
<circle cx="714.07" cy="330.08" r="1.9" fill="#ed1c24"/>
<circle cx="711.56" cy="338.75" r="1.9" fill="#ed1c24"/>
<circle cx="714.20" cy="350.01" r="1.9" fill="#ed1c24"/>
<circle cx="714.59" cy="358.00" r="1.9" fill="#ed1c24"/>
<circle cx="714.37" cy="353.94" r="1.9" fill="#ed1c24"/>
<circle cx="712.51" cy="343.86" r="1.9" fill="#ed1c24"/>
<circle cx="716.64" cy="355.42" r="1.9" fill="#ed1c24"/>
<circle cx="714.26" cy="367.29" r="1.9" fill="#ed1c24"/>
<circle cx="714.12" cy="336.50" r="1.9" fill="#ed1c24"/>
<circle cx="715.84" cy="328.04" r="1.9" fill="#ed1c24"/>
<circle cx="715.07" cy="343.00" r="1.9" fill="#ed1c24"/>
<circle cx="712.40" cy="356.42" r="1.9" fill="#ed1c24"/>
<circle cx="715.81" cy="365.08" r="1.9" fill="#ed1c24"/>
<circle cx="709.81" cy="340.81" r="1.9" fill="#ed1c24"/>
<circle cx="709.90" cy="355.40" r="1.9" fill="#ed1c24"/>
<circle cx="714.17" cy="333.33" r="1.9" fill="#ed1c24"/>
<circle cx="716.08" cy="347.89" r="1.9" fill="#ed1c24"/>
<circle cx="717.90" cy="337.72" r="1.9" fill="#ed1c24"/>
<circle cx="711.65" cy="335.40" r="1.9" fill="#ed1c24"/>
<circle cx="716.71" cy="330.66" r="1.9" fill="#ed1c24"/>
<circle cx="714.14" cy="360.66" r="1.9" fill="#ed1c24"/>
<circle cx="711.73" cy="359.45" r="1.9" fill="#ed1c24"/>
<circle cx="716.53" cy="351.38" r="1.9" fill="#ed1c24"/>
<circle cx="711.52" cy="346.73" r="1.9" fill="#ed1c24"/>
<circle cx="711.62" cy="350.81" r="1.9" fill="#ed1c24"/>
<circle cx="719.62" cy="339.79" r="1.9" fill="#ed1c24"/>
<circle cx="711.77" cy="328.67" r="1.9" fill="#ed1c24"/>
<circle cx="716.46" cy="362.05" r="1.9" fill="#ed1c24"/>
<circle cx="718.23" cy="357.60" r="1.9" fill="#ed1c24"/>
<circle cx="717.94" cy="345.93" r="1.9" fill="#ed1c24"/>
<circle cx="707.90" cy="338.90" r="1.9" fill="#ed1c24"/>
<circle cx="720.87" cy="357.06" r="1.9" fill="#ed1c24"/>
<circle cx="719.07" cy="339.40" r="1.9" fill="#ed1c24"/>
<circle cx="720.48" cy="336.94" r="1.9" fill="#ed1c24"/>
<circle cx="722.32" cy="339.73" r="1.9" fill="#ed1c24"/>
<circle cx="712.39" cy="365.35" r="1.9" fill="#ed1c24"/>
<circle cx="712.77" cy="339.75" r="1.9" fill="#ed1c24"/>
<circle cx="720.16" cy="338.37" r="1.9" fill="#ed1c24"/>
<circle cx="709.36" cy="345.11" r="1.9" fill="#ed1c24"/>
<circle cx="707.65" cy="356.88" r="1.9" fill="#ed1c24"/>
<circle cx="711.74" cy="331.44" r="1.9" fill="#ed1c24"/>
<circle cx="714.52" cy="357.86" r="1.9" fill="#ed1c24"/>
<circle cx="709.06" cy="347.84" r="1.9" fill="#ed1c24"/>
<circle cx="714.78" cy="369.94" r="1.9" fill="#ed1c24"/>
<circle cx="716.86" cy="333.47" r="1.9" fill="#ed1c24"/>
<circle cx="711.28" cy="358.86" r="1.9" fill="#ed1c24"/>
<circle cx="711.28" cy="362.89" r="1.9" fill="#ed1c24"/>
<circle cx="712.55" cy="366.91" r="1.9" fill="#ed1c24"/>
<circle cx="710.72" cy="365.71" r="1.9" fill="#ed1c24"/>
<circle cx="718.76" cy="343.36" r="1.9" fill="#ed1c24"/>
<circle cx="719.67" cy="348.00" r="1.9" fill="#ed1c24"/>
<circle cx="718.78" cy="353.78" r="1.9" fill="#ed1c24"/>
<circle cx="706.47" cy="348.61" r="1.9" fill="#ed1c24"/>
<circle cx="711.68" cy="331.69" r="1.9" fill="#ed1c24"/>
<circle cx="721.37" cy="344.05" r="1.9" fill="#ed1c24"/>
<circle cx="706.68" cy="344.82" r="1.9" fill="#ed1c24"/>
<circle cx="706.59" cy="356.19" r="1.9" fill="#ed1c24"/>
<circle cx="711.34" cy="331.03" r="1.9" fill="#ed1c24"/>
<circle cx="711.79" cy="356.65" r="1.9" fill="#ed1c24"/>
<circle cx="709.03" cy="351.55" r="1.9" fill="#ed1c24"/>
<circle cx="718.68" cy="360.52" r="1.9" fill="#ed1c24"/>
<circle cx="714.56" cy="329.53" r="1.9" fill="#ed1c24"/>
<circle cx="708.14" cy="340.33" r="1.9" fill="#ed1c24"/>
<circle cx="711.02" cy="343.00" r="1.9" fill="#ed1c24"/>
<circle cx="708.86" cy="361.69" r="1.9" fill="#ed1c24"/>
<circle cx="715.77" cy="343.11" r="1.9" fill="#ed1c24"/>
<circle cx="717.23" cy="332.22" r="1.9" fill="#ed1c24"/>
<circle cx="721.34" cy="352.92" r="1.9" fill="#ed1c24"/>
<circle cx="722.78" cy="350.63" r="1.9" fill="#ed1c24"/>
<circle cx="722.53" cy="349.29" r="1.9" fill="#ed1c24"/>
<circle cx="709.07" cy="361.57" r="1.9" fill="#ed1c24"/>
<circle cx="717.79" cy="347.21" r="1.9" fill="#ed1c24"/>
<circle cx="711.14" cy="354.52" r="1.9" fill="#ed1c24"/>
<circle cx="723.10" cy="350.38" r="1.9" fill="#ed1c24"/>
<circle cx="717.79" cy="361.39" r="1.9" fill="#ed1c24"/>
<circle cx="710.53" cy="338.69" r="1.9" fill="#ed1c24"/>
<circle cx="705.46" cy="353.74" r="1.9" fill="#ed1c24"/>
<line x1="580.10" y1="345.10" x2="731.70" y2="345.10" stroke="#c7c8ca" stroke-width="2.0" stroke-dasharray="12.8 8.6"/>
<line x1="605.70" y1="342.60" x2="605.70" y2="347.60" stroke="#231f20" stroke-width="1.5" />
<line x1="604.00" y1="342.60" x2="607.40" y2="342.60" stroke="#231f20" stroke-width="1.3" />
<line x1="604.00" y1="347.60" x2="607.40" y2="347.60" stroke="#231f20" stroke-width="1.3" />
<circle cx="605.70" cy="345.10" r="1.2" fill="#231f20"/>
<line x1="659.60" y1="345.20" x2="659.60" y2="350.20" stroke="#231f20" stroke-width="1.5" />
<line x1="657.90" y1="345.20" x2="661.30" y2="345.20" stroke="#231f20" stroke-width="1.3" />
<line x1="657.90" y1="350.20" x2="661.30" y2="350.20" stroke="#231f20" stroke-width="1.3" />
<circle cx="659.60" cy="347.70" r="1.2" fill="#231f20"/>
<line x1="714.30" y1="345.70" x2="714.30" y2="351.70" stroke="#231f20" stroke-width="1.5" />
<line x1="712.60" y1="345.70" x2="716.00" y2="345.70" stroke="#231f20" stroke-width="1.3" />
<line x1="712.60" y1="351.70" x2="716.00" y2="351.70" stroke="#231f20" stroke-width="1.3" />
<circle cx="714.30" cy="348.70" r="1.2" fill="#231f20"/>
<line x1="580.10" y1="299.30" x2="580.10" y2="389.10" stroke="#6d6e71" stroke-width="1.1" />
<line x1="579.60" y1="389.10" x2="731.70" y2="389.10" stroke="#6d6e71" stroke-width="1.1" />
<line x1="605.70" y1="389.10" x2="605.70" y2="386.60" stroke="#8a8a8a" stroke-width="0.9" />
<line x1="659.60" y1="389.10" x2="659.60" y2="386.60" stroke="#8a8a8a" stroke-width="0.9" />
<line x1="714.30" y1="389.10" x2="714.30" y2="386.60" stroke="#8a8a8a" stroke-width="0.9" />
<line x1="580.10" y1="300.20" x2="582.60" y2="300.20" stroke="#8a8a8a" stroke-width="0.9" />
<text x="578.90" y="305.82" font-size="15.7" fill="#58595b" text-anchor="end" textLength="19.4" lengthAdjust="spacingAndGlyphs">100</text>
<line x1="580.10" y1="322.20" x2="582.60" y2="322.20" stroke="#8a8a8a" stroke-width="0.9" />
<text x="578.90" y="327.82" font-size="15.7" fill="#58595b" text-anchor="end" textLength="14.1" lengthAdjust="spacingAndGlyphs">50</text>
<line x1="580.10" y1="344.50" x2="582.60" y2="344.50" stroke="#8a8a8a" stroke-width="0.9" />
<text x="578.90" y="350.12" font-size="15.7" fill="#58595b" text-anchor="end" textLength="6.5" lengthAdjust="spacingAndGlyphs">0</text>
<line x1="580.10" y1="366.70" x2="582.60" y2="366.70" stroke="#8a8a8a" stroke-width="0.9" />
<text x="578.90" y="372.32" font-size="15.7" fill="#58595b" text-anchor="end" textLength="17.3" lengthAdjust="spacingAndGlyphs">-50</text>
<line x1="580.10" y1="387.60" x2="582.60" y2="387.60" stroke="#8a8a8a" stroke-width="0.9" />
<text x="578.90" y="393.22" font-size="15.7" fill="#58595b" text-anchor="end" textLength="24.6" lengthAdjust="spacingAndGlyphs">-100</text>
<line x1="580.10" y1="423.50" x2="731.70" y2="423.50" stroke="#5ab4ea" stroke-width="1.0" stroke-dasharray="1.1 4.25" stroke-dashoffset="-2.1"/>
<circle cx="605.80" cy="423.50" r="3" fill="#231f20"/>
<line x1="660.30" y1="426.40" x2="660.30" y2="474.50" stroke="#58595b" stroke-width="1.1" />
<line x1="658.90" y1="426.40" x2="661.70" y2="426.40" stroke="#231f20" stroke-width="1.3" />
<line x1="658.90" y1="474.50" x2="661.70" y2="474.50" stroke="#231f20" stroke-width="1.3" />
<circle cx="660.30" cy="450.60" r="3.5" fill="#231f20"/>
<line x1="714.20" y1="431.70" x2="714.20" y2="488.20" stroke="#58595b" stroke-width="1.1" />
<line x1="712.80" y1="431.70" x2="715.60" y2="431.70" stroke="#231f20" stroke-width="1.3" />
<line x1="712.80" y1="488.20" x2="715.60" y2="488.20" stroke="#231f20" stroke-width="1.3" />
<circle cx="714.20" cy="460.00" r="3.5" fill="#231f20"/>
<line x1="580.10" y1="417.70" x2="580.10" y2="494.00" stroke="#6d6e71" stroke-width="1.1" />
<line x1="579.60" y1="494.00" x2="731.70" y2="494.00" stroke="#6d6e71" stroke-width="1.1" />
<line x1="605.80" y1="494.00" x2="605.80" y2="491.50" stroke="#8a8a8a" stroke-width="0.9" />
<line x1="660.30" y1="494.00" x2="660.30" y2="491.50" stroke="#8a8a8a" stroke-width="0.9" />
<line x1="714.20" y1="494.00" x2="714.20" y2="491.50" stroke="#8a8a8a" stroke-width="0.9" />
<text x="578.90" y="428.55" font-size="15.5" fill="#58595b" text-anchor="end" textLength="6.5" lengthAdjust="spacingAndGlyphs">0</text>
<line x1="580.10" y1="423.00" x2="582.60" y2="423.00" stroke="#8a8a8a" stroke-width="0.9" />
<text x="578.90" y="451.55" font-size="15.5" fill="#58595b" text-anchor="end" textLength="12.5" lengthAdjust="spacingAndGlyphs">-5</text>
<line x1="580.10" y1="446.00" x2="582.60" y2="446.00" stroke="#8a8a8a" stroke-width="0.9" />
<text x="578.90" y="474.75" font-size="15.5" fill="#58595b" text-anchor="end" textLength="19.5" lengthAdjust="spacingAndGlyphs">-10</text>
<line x1="580.10" y1="469.20" x2="582.60" y2="469.20" stroke="#8a8a8a" stroke-width="0.9" />
<text x="578.90" y="497.75" font-size="15.5" fill="#58595b" text-anchor="end" textLength="19.5" lengthAdjust="spacingAndGlyphs">-15</text>
<line x1="580.10" y1="492.20" x2="582.60" y2="492.20" stroke="#8a8a8a" stroke-width="0.9" />
<text x="600.40" y="508.00" font-size="14" fill="#231f20" text-anchor="middle" textLength="21" lengthAdjust="spacingAndGlyphs">+/+</text>
<text x="655.90" y="508.00" font-size="14" fill="#231f20" text-anchor="middle" textLength="17" lengthAdjust="spacingAndGlyphs">+/-</text>
<text x="711.60" y="508.00" font-size="14" fill="#231f20" text-anchor="middle" textLength="14" lengthAdjust="spacingAndGlyphs">-/-</text>
<text x="309.90" y="540.23" font-size="13.5" fill="#000" text-anchor="middle" font-weight="bold">G</text>
<line x1="394.50" y1="564.20" x2="502.70" y2="564.20" stroke="#5d5d5f" stroke-width="1.1" />
<text x="448.20" y="568.70" font-size="17" fill="#231f20" text-anchor="middle" font-weight="bold">*</text>
<circle cx="395.27" cy="635.94" r="1.9" fill="#bcbec0"/>
<circle cx="394.85" cy="591.10" r="1.9" fill="#bcbec0"/>
<circle cx="395.00" cy="633.04" r="1.9" fill="#bcbec0"/>
<circle cx="394.81" cy="622.38" r="1.9" fill="#bcbec0"/>
<circle cx="395.14" cy="581.93" r="1.9" fill="#bcbec0"/>
<circle cx="395.16" cy="606.10" r="1.9" fill="#bcbec0"/>
<circle cx="394.99" cy="619.99" r="1.9" fill="#bcbec0"/>
<circle cx="394.75" cy="611.07" r="1.9" fill="#bcbec0"/>
<circle cx="393.20" cy="604.72" r="1.9" fill="#bcbec0"/>
<circle cx="392.93" cy="635.43" r="1.9" fill="#bcbec0"/>
<circle cx="396.73" cy="609.71" r="1.9" fill="#bcbec0"/>
<circle cx="394.97" cy="628.97" r="1.9" fill="#bcbec0"/>
<circle cx="396.91" cy="618.55" r="1.9" fill="#bcbec0"/>
<circle cx="396.99" cy="621.31" r="1.9" fill="#bcbec0"/>
<circle cx="394.92" cy="615.53" r="1.9" fill="#bcbec0"/>
<circle cx="397.31" cy="615.32" r="1.9" fill="#bcbec0"/>
<circle cx="393.78" cy="636.23" r="1.9" fill="#bcbec0"/>
<circle cx="392.75" cy="620.87" r="1.9" fill="#bcbec0"/>
<circle cx="399.13" cy="620.22" r="1.9" fill="#bcbec0"/>
<circle cx="397.35" cy="629.28" r="1.9" fill="#bcbec0"/>
<circle cx="392.72" cy="629.81" r="1.9" fill="#bcbec0"/>
<circle cx="390.88" cy="619.36" r="1.9" fill="#bcbec0"/>
<circle cx="392.52" cy="615.59" r="1.9" fill="#bcbec0"/>
<circle cx="397.35" cy="633.52" r="1.9" fill="#bcbec0"/>
<circle cx="395.65" cy="591.80" r="1.9" fill="#bcbec0"/>
<circle cx="388.57" cy="619.99" r="1.9" fill="#bcbec0"/>
<circle cx="399.02" cy="617.01" r="1.9" fill="#bcbec0"/>
<circle cx="397.53" cy="605.71" r="1.9" fill="#bcbec0"/>
<circle cx="395.07" cy="626.14" r="1.9" fill="#bcbec0"/>
<circle cx="399.08" cy="630.94" r="1.9" fill="#bcbec0"/>
<circle cx="391.22" cy="622.72" r="1.9" fill="#bcbec0"/>
<circle cx="392.65" cy="632.54" r="1.9" fill="#bcbec0"/>
<circle cx="396.64" cy="635.69" r="1.9" fill="#bcbec0"/>
<circle cx="392.72" cy="625.65" r="1.9" fill="#bcbec0"/>
<circle cx="390.71" cy="634.51" r="1.9" fill="#bcbec0"/>
<circle cx="390.33" cy="616.58" r="1.9" fill="#bcbec0"/>
<circle cx="400.33" cy="615.00" r="1.9" fill="#bcbec0"/>
<circle cx="392.99" cy="607.11" r="1.9" fill="#bcbec0"/>
<circle cx="397.43" cy="625.69" r="1.9" fill="#bcbec0"/>
<circle cx="395.22" cy="596.76" r="1.9" fill="#bcbec0"/>
<circle cx="395.05" cy="579.29" r="1.9" fill="#bcbec0"/>
<circle cx="388.90" cy="614.65" r="1.9" fill="#bcbec0"/>
<circle cx="395.19" cy="601.59" r="1.9" fill="#bcbec0"/>
<circle cx="390.40" cy="630.44" r="1.9" fill="#bcbec0"/>
<circle cx="393.95" cy="617.82" r="1.9" fill="#bcbec0"/>
<circle cx="401.47" cy="619.70" r="1.9" fill="#bcbec0"/>
<circle cx="402.06" cy="617.37" r="1.9" fill="#bcbec0"/>
<circle cx="392.87" cy="602.22" r="1.9" fill="#bcbec0"/>
<circle cx="386.18" cy="620.27" r="1.9" fill="#bcbec0"/>
<circle cx="393.28" cy="595.35" r="1.9" fill="#bcbec0"/>
<circle cx="392.95" cy="612.65" r="1.9" fill="#bcbec0"/>
<circle cx="394.75" cy="595.67" r="1.9" fill="#bcbec0"/>
<circle cx="401.40" cy="630.33" r="1.9" fill="#bcbec0"/>
<circle cx="397.21" cy="605.21" r="1.9" fill="#bcbec0"/>
<circle cx="399.41" cy="624.33" r="1.9" fill="#bcbec0"/>
<circle cx="399.46" cy="614.48" r="1.9" fill="#bcbec0"/>
<circle cx="403.87" cy="619.72" r="1.9" fill="#bcbec0"/>
<circle cx="389.41" cy="624.29" r="1.9" fill="#bcbec0"/>
<circle cx="395.01" cy="603.26" r="1.9" fill="#bcbec0"/>
<circle cx="394.37" cy="596.21" r="1.9" fill="#bcbec0"/>
<circle cx="394.77" cy="607.20" r="1.9" fill="#bcbec0"/>
<circle cx="395.14" cy="608.44" r="1.9" fill="#bcbec0"/>
<circle cx="387.50" cy="616.61" r="1.9" fill="#bcbec0"/>
<circle cx="395.81" cy="593.15" r="1.9" fill="#bcbec0"/>
<circle cx="393.57" cy="594.20" r="1.9" fill="#bcbec0"/>
<circle cx="394.95" cy="588.02" r="1.9" fill="#bcbec0"/>
<circle cx="397.85" cy="611.83" r="1.9" fill="#bcbec0"/>
<circle cx="395.26" cy="576.25" r="1.9" fill="#bcbec0"/>
<circle cx="401.34" cy="625.77" r="1.9" fill="#bcbec0"/>
<circle cx="402.41" cy="621.90" r="1.9" fill="#bcbec0"/>
<circle cx="397.63" cy="605.41" r="1.9" fill="#bcbec0"/>
<circle cx="390.76" cy="627.02" r="1.9" fill="#bcbec0"/>
<circle cx="396.65" cy="614.23" r="1.9" fill="#bcbec0"/>
<circle cx="390.49" cy="619.66" r="1.9" fill="#bcbec0"/>
<circle cx="403.02" cy="620.46" r="1.9" fill="#bcbec0"/>
<circle cx="395.90" cy="620.18" r="1.9" fill="#bcbec0"/>
<circle cx="399.84" cy="628.51" r="1.9" fill="#bcbec0"/>
<circle cx="393.33" cy="619.53" r="1.9" fill="#bcbec0"/>
<circle cx="388.12" cy="626.32" r="1.9" fill="#bcbec0"/>
<circle cx="387.69" cy="622.23" r="1.9" fill="#bcbec0"/>
<circle cx="403.74" cy="625.71" r="1.9" fill="#bcbec0"/>
<circle cx="404.58" cy="623.46" r="1.9" fill="#bcbec0"/>
<circle cx="385.31" cy="621.33" r="1.9" fill="#bcbec0"/>
<circle cx="397.02" cy="635.14" r="1.9" fill="#bcbec0"/>
<circle cx="394.49" cy="580.73" r="1.9" fill="#bcbec0"/>
<circle cx="388.01" cy="630.57" r="1.9" fill="#bcbec0"/>
<circle cx="389.08" cy="621.28" r="1.9" fill="#bcbec0"/>
<circle cx="385.73" cy="626.11" r="1.9" fill="#bcbec0"/>
<circle cx="402.93" cy="628.48" r="1.9" fill="#bcbec0"/>
<circle cx="389.96" cy="629.12" r="1.9" fill="#bcbec0"/>
<circle cx="392.63" cy="628.20" r="1.9" fill="#bcbec0"/>
<circle cx="399.60" cy="634.34" r="1.9" fill="#bcbec0"/>
<circle cx="389.07" cy="616.87" r="1.9" fill="#bcbec0"/>
<circle cx="395.70" cy="589.53" r="1.9" fill="#bcbec0"/>
<circle cx="396.60" cy="595.23" r="1.9" fill="#bcbec0"/>
<circle cx="398.70" cy="634.19" r="1.9" fill="#bcbec0"/>
<circle cx="395.96" cy="624.12" r="1.9" fill="#bcbec0"/>
<circle cx="397.49" cy="621.47" r="1.9" fill="#bcbec0"/>
<circle cx="390.93" cy="625.68" r="1.9" fill="#bcbec0"/>
<circle cx="398.75" cy="624.78" r="1.9" fill="#bcbec0"/>
<circle cx="404.61" cy="625.75" r="1.9" fill="#bcbec0"/>
<circle cx="395.85" cy="608.15" r="1.9" fill="#bcbec0"/>
<circle cx="397.74" cy="604.52" r="1.9" fill="#bcbec0"/>
<circle cx="394.29" cy="588.22" r="1.9" fill="#bcbec0"/>
<circle cx="403.45" cy="626.97" r="1.9" fill="#bcbec0"/>
<circle cx="401.54" cy="625.87" r="1.9" fill="#bcbec0"/>
<circle cx="391.64" cy="631.63" r="1.9" fill="#bcbec0"/>
<circle cx="391.26" cy="610.94" r="1.9" fill="#bcbec0"/>
<circle cx="397.26" cy="606.90" r="1.9" fill="#bcbec0"/>
<circle cx="386.44" cy="627.05" r="1.9" fill="#bcbec0"/>
<circle cx="447.93" cy="621.71" r="1.9" fill="#27aae1"/>
<circle cx="449.82" cy="620.81" r="1.9" fill="#27aae1"/>
<circle cx="448.36" cy="617.74" r="1.9" fill="#27aae1"/>
<circle cx="448.26" cy="628.73" r="1.9" fill="#27aae1"/>
<circle cx="446.17" cy="628.95" r="1.9" fill="#27aae1"/>
<circle cx="448.10" cy="636.12" r="1.9" fill="#27aae1"/>
<circle cx="445.83" cy="621.61" r="1.9" fill="#27aae1"/>
<circle cx="448.33" cy="596.46" r="1.9" fill="#27aae1"/>
<circle cx="447.72" cy="626.70" r="1.9" fill="#27aae1"/>
<circle cx="449.51" cy="623.10" r="1.9" fill="#27aae1"/>
<circle cx="448.10" cy="632.71" r="1.9" fill="#27aae1"/>
<circle cx="447.80" cy="624.32" r="1.9" fill="#27aae1"/>
<circle cx="450.05" cy="627.63" r="1.9" fill="#27aae1"/>
<circle cx="444.62" cy="619.89" r="1.9" fill="#27aae1"/>
<circle cx="451.60" cy="621.92" r="1.9" fill="#27aae1"/>
<circle cx="445.70" cy="624.49" r="1.9" fill="#27aae1"/>
<circle cx="448.24" cy="600.86" r="1.9" fill="#27aae1"/>
<circle cx="449.10" cy="630.87" r="1.9" fill="#27aae1"/>
<circle cx="444.31" cy="627.96" r="1.9" fill="#27aae1"/>
<circle cx="446.14" cy="635.37" r="1.9" fill="#27aae1"/>
<circle cx="448.17" cy="607.84" r="1.9" fill="#27aae1"/>
<circle cx="452.79" cy="623.65" r="1.9" fill="#27aae1"/>
<circle cx="449.51" cy="625.53" r="1.9" fill="#27aae1"/>
<circle cx="452.89" cy="620.26" r="1.9" fill="#27aae1"/>
<circle cx="448.31" cy="613.31" r="1.9" fill="#27aae1"/>
<circle cx="451.56" cy="625.99" r="1.9" fill="#27aae1"/>
<circle cx="442.52" cy="619.86" r="1.9" fill="#27aae1"/>
<circle cx="443.25" cy="626.15" r="1.9" fill="#27aae1"/>
<circle cx="446.25" cy="612.92" r="1.9" fill="#27aae1"/>
<circle cx="450.27" cy="607.69" r="1.9" fill="#27aae1"/>
<circle cx="450.98" cy="629.93" r="1.9" fill="#27aae1"/>
<circle cx="448.21" cy="593.70" r="1.9" fill="#27aae1"/>
<circle cx="442.83" cy="624.10" r="1.9" fill="#27aae1"/>
<circle cx="450.20" cy="636.07" r="1.9" fill="#27aae1"/>
<circle cx="450.39" cy="613.00" r="1.9" fill="#27aae1"/>
<circle cx="453.56" cy="626.63" r="1.9" fill="#27aae1"/>
<circle cx="448.01" cy="603.65" r="1.9" fill="#27aae1"/>
<circle cx="441.67" cy="627.53" r="1.9" fill="#27aae1"/>
<circle cx="450.07" cy="633.45" r="1.9" fill="#27aae1"/>
<circle cx="446.64" cy="637.63" r="1.9" fill="#27aae1"/>
<circle cx="446.92" cy="606.15" r="1.9" fill="#27aae1"/>
<circle cx="448.38" cy="589.57" r="1.9" fill="#27aae1"/>
<circle cx="452.76" cy="628.81" r="1.9" fill="#27aae1"/>
<circle cx="450.10" cy="603.85" r="1.9" fill="#27aae1"/>
<circle cx="446.10" cy="602.78" r="1.9" fill="#27aae1"/>
<circle cx="443.64" cy="629.95" r="1.9" fill="#27aae1"/>
<circle cx="446.78" cy="619.12" r="1.9" fill="#27aae1"/>
<circle cx="441.17" cy="622.82" r="1.9" fill="#27aae1"/>
<circle cx="446.04" cy="632.29" r="1.9" fill="#27aae1"/>
<circle cx="446.28" cy="596.92" r="1.9" fill="#27aae1"/>
<circle cx="454.72" cy="624.48" r="1.9" fill="#27aae1"/>
<circle cx="455.90" cy="626.22" r="1.9" fill="#27aae1"/>
<circle cx="440.85" cy="624.89" r="1.9" fill="#27aae1"/>
<circle cx="449.16" cy="598.97" r="1.9" fill="#27aae1"/>
<circle cx="444.65" cy="604.31" r="1.9" fill="#27aae1"/>
<circle cx="456.52" cy="623.41" r="1.9" fill="#27aae1"/>
<circle cx="444.19" cy="612.53" r="1.9" fill="#27aae1"/>
<circle cx="444.52" cy="633.73" r="1.9" fill="#27aae1"/>
<circle cx="451.61" cy="605.31" r="1.9" fill="#27aae1"/>
<circle cx="439.19" cy="623.52" r="1.9" fill="#27aae1"/>
<circle cx="458.59" cy="623.74" r="1.9" fill="#27aae1"/>
<circle cx="448.30" cy="610.52" r="1.9" fill="#27aae1"/>
<circle cx="454.98" cy="620.40" r="1.9" fill="#27aae1"/>
<circle cx="451.88" cy="632.39" r="1.9" fill="#27aae1"/>
<circle cx="452.00" cy="611.65" r="1.9" fill="#27aae1"/>
<circle cx="452.25" cy="635.62" r="1.9" fill="#27aae1"/>
<circle cx="453.89" cy="631.78" r="1.9" fill="#27aae1"/>
<circle cx="450.40" cy="617.24" r="1.9" fill="#27aae1"/>
<circle cx="437.44" cy="624.68" r="1.9" fill="#27aae1"/>
<circle cx="447.14" cy="625.09" r="1.9" fill="#27aae1"/>
<circle cx="439.60" cy="627.18" r="1.9" fill="#27aae1"/>
<circle cx="441.57" cy="630.33" r="1.9" fill="#27aae1"/>
<circle cx="445.45" cy="617.50" r="1.9" fill="#27aae1"/>
<circle cx="450.18" cy="601.67" r="1.9" fill="#27aae1"/>
<circle cx="440.12" cy="620.99" r="1.9" fill="#27aae1"/>
<circle cx="447.49" cy="588.94" r="1.9" fill="#27aae1"/>
<circle cx="458.00" cy="626.34" r="1.9" fill="#27aae1"/>
<circle cx="442.66" cy="634.70" r="1.9" fill="#27aae1"/>
<circle cx="445.41" cy="600.80" r="1.9" fill="#27aae1"/>
<circle cx="454.00" cy="618.48" r="1.9" fill="#27aae1"/>
<circle cx="450.47" cy="611.43" r="1.9" fill="#27aae1"/>
<circle cx="456.96" cy="621.11" r="1.9" fill="#27aae1"/>
<circle cx="451.37" cy="620.06" r="1.9" fill="#27aae1"/>
<circle cx="452.23" cy="626.40" r="1.9" fill="#27aae1"/>
<circle cx="445.40" cy="598.43" r="1.9" fill="#27aae1"/>
<circle cx="445.02" cy="607.05" r="1.9" fill="#27aae1"/>
<circle cx="452.22" cy="616.19" r="1.9" fill="#27aae1"/>
<circle cx="449.28" cy="621.60" r="1.9" fill="#27aae1"/>
<circle cx="443.36" cy="617.41" r="1.9" fill="#27aae1"/>
<circle cx="454.02" cy="612.25" r="1.9" fill="#27aae1"/>
<circle cx="445.77" cy="636.04" r="1.9" fill="#27aae1"/>
<circle cx="455.90" cy="631.17" r="1.9" fill="#27aae1"/>
<circle cx="454.32" cy="616.34" r="1.9" fill="#27aae1"/>
<circle cx="443.56" cy="636.47" r="1.9" fill="#27aae1"/>
<circle cx="439.59" cy="629.64" r="1.9" fill="#27aae1"/>
<circle cx="442.29" cy="613.44" r="1.9" fill="#27aae1"/>
<circle cx="457.38" cy="629.68" r="1.9" fill="#27aae1"/>
<circle cx="440.97" cy="618.45" r="1.9" fill="#27aae1"/>
<circle cx="452.36" cy="607.58" r="1.9" fill="#27aae1"/>
<circle cx="456.75" cy="620.53" r="1.9" fill="#27aae1"/>
<circle cx="456.30" cy="623.01" r="1.9" fill="#27aae1"/>
<circle cx="454.84" cy="625.85" r="1.9" fill="#27aae1"/>
<circle cx="450.36" cy="631.43" r="1.9" fill="#27aae1"/>
<circle cx="454.86" cy="619.52" r="1.9" fill="#27aae1"/>
<circle cx="445.47" cy="622.96" r="1.9" fill="#27aae1"/>
<circle cx="450.65" cy="604.95" r="1.9" fill="#27aae1"/>
<circle cx="455.99" cy="626.20" r="1.9" fill="#27aae1"/>
<circle cx="451.37" cy="631.40" r="1.9" fill="#27aae1"/>
<circle cx="446.73" cy="626.98" r="1.9" fill="#27aae1"/>
<circle cx="450.16" cy="604.78" r="1.9" fill="#27aae1"/>
<circle cx="450.85" cy="601.81" r="1.9" fill="#27aae1"/>
<circle cx="443.53" cy="628.09" r="1.9" fill="#27aae1"/>
<circle cx="441.69" cy="616.13" r="1.9" fill="#27aae1"/>
<circle cx="455.84" cy="619.20" r="1.9" fill="#27aae1"/>
<circle cx="445.18" cy="635.85" r="1.9" fill="#27aae1"/>
<circle cx="446.24" cy="605.26" r="1.9" fill="#27aae1"/>
<circle cx="442.00" cy="624.97" r="1.9" fill="#27aae1"/>
<circle cx="450.34" cy="597.06" r="1.9" fill="#27aae1"/>
<circle cx="454.85" cy="628.67" r="1.9" fill="#27aae1"/>
<circle cx="447.71" cy="606.75" r="1.9" fill="#27aae1"/>
<circle cx="441.32" cy="630.32" r="1.9" fill="#27aae1"/>
<circle cx="448.61" cy="596.04" r="1.9" fill="#27aae1"/>
<circle cx="445.06" cy="637.34" r="1.9" fill="#27aae1"/>
<circle cx="444.85" cy="617.74" r="1.9" fill="#27aae1"/>
<circle cx="446.57" cy="631.22" r="1.9" fill="#27aae1"/>
<circle cx="450.25" cy="629.88" r="1.9" fill="#27aae1"/>
<circle cx="447.07" cy="595.09" r="1.9" fill="#27aae1"/>
<circle cx="458.22" cy="625.97" r="1.9" fill="#27aae1"/>
<circle cx="444.43" cy="630.60" r="1.9" fill="#27aae1"/>
<circle cx="446.20" cy="626.23" r="1.9" fill="#27aae1"/>
<circle cx="455.91" cy="621.18" r="1.9" fill="#27aae1"/>
<circle cx="455.46" cy="628.57" r="1.9" fill="#27aae1"/>
<circle cx="448.17" cy="615.48" r="1.9" fill="#27aae1"/>
<circle cx="447.82" cy="618.19" r="1.9" fill="#27aae1"/>
<circle cx="441.73" cy="620.62" r="1.9" fill="#27aae1"/>
<circle cx="449.97" cy="622.15" r="1.9" fill="#27aae1"/>
<circle cx="447.98" cy="627.90" r="1.9" fill="#27aae1"/>
<circle cx="443.74" cy="629.91" r="1.9" fill="#27aae1"/>
<circle cx="444.78" cy="605.57" r="1.9" fill="#27aae1"/>
<circle cx="447.77" cy="590.61" r="1.9" fill="#27aae1"/>
<circle cx="447.90" cy="621.69" r="1.9" fill="#27aae1"/>
<circle cx="442.02" cy="630.80" r="1.9" fill="#27aae1"/>
<circle cx="449.32" cy="617.81" r="1.9" fill="#27aae1"/>
<circle cx="455.51" cy="630.59" r="1.9" fill="#27aae1"/>
<circle cx="445.85" cy="620.95" r="1.9" fill="#27aae1"/>
<circle cx="445.43" cy="607.37" r="1.9" fill="#27aae1"/>
<circle cx="443.10" cy="627.39" r="1.9" fill="#27aae1"/>
<circle cx="444.68" cy="628.68" r="1.9" fill="#27aae1"/>
<circle cx="446.96" cy="587.85" r="1.9" fill="#27aae1"/>
<circle cx="451.62" cy="637.53" r="1.9" fill="#27aae1"/>
<circle cx="444.32" cy="627.47" r="1.9" fill="#27aae1"/>
<circle cx="445.28" cy="603.53" r="1.9" fill="#27aae1"/>
<circle cx="440.02" cy="630.33" r="1.9" fill="#27aae1"/>
<circle cx="440.78" cy="632.49" r="1.9" fill="#27aae1"/>
<circle cx="446.10" cy="633.14" r="1.9" fill="#27aae1"/>
<circle cx="447.85" cy="588.28" r="1.9" fill="#27aae1"/>
<circle cx="447.06" cy="621.13" r="1.9" fill="#27aae1"/>
<circle cx="450.61" cy="624.77" r="1.9" fill="#27aae1"/>
<circle cx="442.26" cy="625.60" r="1.9" fill="#27aae1"/>
<circle cx="450.17" cy="627.82" r="1.9" fill="#27aae1"/>
<circle cx="446.20" cy="610.53" r="1.9" fill="#27aae1"/>
<circle cx="448.24" cy="603.67" r="1.9" fill="#27aae1"/>
<circle cx="445.53" cy="629.96" r="1.9" fill="#27aae1"/>
<circle cx="444.94" cy="603.50" r="1.9" fill="#27aae1"/>
<circle cx="456.15" cy="631.91" r="1.9" fill="#27aae1"/>
<circle cx="449.00" cy="629.62" r="1.9" fill="#27aae1"/>
<circle cx="441.40" cy="629.45" r="1.9" fill="#27aae1"/>
<circle cx="455.01" cy="627.58" r="1.9" fill="#27aae1"/>
<circle cx="455.10" cy="629.55" r="1.9" fill="#27aae1"/>
<circle cx="453.23" cy="614.35" r="1.9" fill="#27aae1"/>
<circle cx="501.55" cy="622.30" r="1.9" fill="#ec008c"/>
<circle cx="501.33" cy="619.81" r="1.9" fill="#ec008c"/>
<circle cx="501.22" cy="612.53" r="1.9" fill="#ec008c"/>
<circle cx="501.54" cy="589.99" r="1.9" fill="#ec008c"/>
<circle cx="501.18" cy="637.73" r="1.9" fill="#ec008c"/>
<circle cx="501.35" cy="605.90" r="1.9" fill="#ec008c"/>
<circle cx="499.17" cy="622.03" r="1.9" fill="#ec008c"/>
<circle cx="499.07" cy="605.15" r="1.9" fill="#ec008c"/>
<circle cx="501.60" cy="602.07" r="1.9" fill="#ec008c"/>
<circle cx="501.34" cy="627.80" r="1.9" fill="#ec008c"/>
<circle cx="501.53" cy="588.23" r="1.9" fill="#ec008c"/>
<circle cx="501.55" cy="609.08" r="1.9" fill="#ec008c"/>
<circle cx="501.32" cy="615.15" r="1.9" fill="#ec008c"/>
<circle cx="500.36" cy="617.62" r="1.9" fill="#ec008c"/>
<circle cx="503.88" cy="622.90" r="1.9" fill="#ec008c"/>
<circle cx="501.22" cy="625.06" r="1.9" fill="#ec008c"/>
<circle cx="503.24" cy="629.26" r="1.9" fill="#ec008c"/>
<circle cx="501.44" cy="592.55" r="1.9" fill="#ec008c"/>
<circle cx="499.38" cy="610.99" r="1.9" fill="#ec008c"/>
<circle cx="503.32" cy="618.46" r="1.9" fill="#ec008c"/>
<circle cx="502.34" cy="591.76" r="1.9" fill="#ec008c"/>
<circle cx="501.01" cy="599.74" r="1.9" fill="#ec008c"/>
<circle cx="503.48" cy="613.33" r="1.9" fill="#ec008c"/>
<circle cx="496.98" cy="623.02" r="1.9" fill="#ec008c"/>
<circle cx="503.57" cy="616.00" r="1.9" fill="#ec008c"/>
<circle cx="506.08" cy="623.84" r="1.9" fill="#ec008c"/>
<circle cx="494.63" cy="622.52" r="1.9" fill="#ec008c"/>
<circle cx="501.72" cy="588.35" r="1.9" fill="#ec008c"/>
<circle cx="503.92" cy="609.48" r="1.9" fill="#ec008c"/>
<circle cx="504.47" cy="620.57" r="1.9" fill="#ec008c"/>
<circle cx="499.44" cy="629.27" r="1.9" fill="#ec008c"/>
<circle cx="498.98" cy="614.62" r="1.9" fill="#ec008c"/>
<circle cx="498.16" cy="618.59" r="1.9" fill="#ec008c"/>
<circle cx="501.25" cy="596.76" r="1.9" fill="#ec008c"/>
<circle cx="497.20" cy="628.41" r="1.9" fill="#ec008c"/>
<circle cx="501.27" cy="634.15" r="1.9" fill="#ec008c"/>
<circle cx="500.02" cy="594.48" r="1.9" fill="#ec008c"/>
<circle cx="496.72" cy="613.82" r="1.9" fill="#ec008c"/>
<circle cx="505.87" cy="613.60" r="1.9" fill="#ec008c"/>
<circle cx="501.55" cy="612.07" r="1.9" fill="#ec008c"/>
<circle cx="503.34" cy="636.70" r="1.9" fill="#ec008c"/>
<circle cx="503.51" cy="626.79" r="1.9" fill="#ec008c"/>
<circle cx="508.08" cy="622.52" r="1.9" fill="#ec008c"/>
<circle cx="497.65" cy="614.92" r="1.9" fill="#ec008c"/>
<circle cx="503.57" cy="606.83" r="1.9" fill="#ec008c"/>
<circle cx="505.39" cy="630.34" r="1.9" fill="#ec008c"/>
<circle cx="505.51" cy="617.48" r="1.9" fill="#ec008c"/>
<circle cx="492.43" cy="623.45" r="1.9" fill="#ec008c"/>
<circle cx="500.01" cy="591.33" r="1.9" fill="#ec008c"/>
<circle cx="503.26" cy="632.82" r="1.9" fill="#ec008c"/>
<circle cx="502.05" cy="588.97" r="1.9" fill="#ec008c"/>
<circle cx="499.05" cy="635.08" r="1.9" fill="#ec008c"/>
<circle cx="499.20" cy="602.00" r="1.9" fill="#ec008c"/>
<circle cx="499.43" cy="596.78" r="1.9" fill="#ec008c"/>
<circle cx="498.75" cy="624.64" r="1.9" fill="#ec008c"/>
<circle cx="501.11" cy="606.03" r="1.9" fill="#ec008c"/>
<circle cx="505.76" cy="627.63" r="1.9" fill="#ec008c"/>
<circle cx="496.65" cy="620.46" r="1.9" fill="#ec008c"/>
<circle cx="510.48" cy="622.35" r="1.9" fill="#ec008c"/>
<circle cx="501.18" cy="631.62" r="1.9" fill="#ec008c"/>
<circle cx="504.87" cy="634.60" r="1.9" fill="#ec008c"/>
<circle cx="492.96" cy="620.79" r="1.9" fill="#ec008c"/>
<circle cx="496.75" cy="634.38" r="1.9" fill="#ec008c"/>
<circle cx="501.76" cy="590.64" r="1.9" fill="#ec008c"/>
<circle cx="491.62" cy="623.15" r="1.9" fill="#ec008c"/>
<circle cx="496.47" cy="625.38" r="1.9" fill="#ec008c"/>
<circle cx="509.95" cy="623.62" r="1.9" fill="#ec008c"/>
<circle cx="495.02" cy="629.40" r="1.9" fill="#ec008c"/>
<circle cx="507.78" cy="630.46" r="1.9" fill="#ec008c"/>
<circle cx="496.98" cy="610.87" r="1.9" fill="#ec008c"/>
<circle cx="499.23" cy="608.48" r="1.9" fill="#ec008c"/>
<circle cx="506.80" cy="619.98" r="1.9" fill="#ec008c"/>
<circle cx="495.08" cy="618.64" r="1.9" fill="#ec008c"/>
<circle cx="509.14" cy="619.46" r="1.9" fill="#ec008c"/>
<circle cx="498.81" cy="631.99" r="1.9" fill="#ec008c"/>
<circle cx="497.24" cy="615.19" r="1.9" fill="#ec008c"/>
<circle cx="507.97" cy="625.33" r="1.9" fill="#ec008c"/>
<circle cx="494.41" cy="626.60" r="1.9" fill="#ec008c"/>
<circle cx="509.21" cy="622.68" r="1.9" fill="#ec008c"/>
<circle cx="510.07" cy="620.55" r="1.9" fill="#ec008c"/>
<circle cx="499.04" cy="608.96" r="1.9" fill="#ec008c"/>
<circle cx="509.32" cy="621.76" r="1.9" fill="#ec008c"/>
<circle cx="508.14" cy="627.98" r="1.9" fill="#ec008c"/>
<circle cx="495.33" cy="628.39" r="1.9" fill="#ec008c"/>
<circle cx="504.93" cy="619.52" r="1.9" fill="#ec008c"/>
<circle cx="506.36" cy="632.73" r="1.9" fill="#ec008c"/>
<circle cx="502.46" cy="624.16" r="1.9" fill="#ec008c"/>
<circle cx="497.97" cy="637.22" r="1.9" fill="#ec008c"/>
<circle cx="499.38" cy="621.59" r="1.9" fill="#ec008c"/>
<circle cx="508.49" cy="621.49" r="1.9" fill="#ec008c"/>
<circle cx="503.44" cy="622.55" r="1.9" fill="#ec008c"/>
<circle cx="508.98" cy="627.84" r="1.9" fill="#ec008c"/>
<circle cx="508.28" cy="619.72" r="1.9" fill="#ec008c"/>
<circle cx="503.81" cy="636.03" r="1.9" fill="#ec008c"/>
<circle cx="503.72" cy="611.64" r="1.9" fill="#ec008c"/>
<circle cx="495.55" cy="632.31" r="1.9" fill="#ec008c"/>
<circle cx="503.18" cy="620.02" r="1.9" fill="#ec008c"/>
<circle cx="503.78" cy="601.06" r="1.9" fill="#ec008c"/>
<circle cx="507.00" cy="630.06" r="1.9" fill="#ec008c"/>
<circle cx="503.67" cy="626.77" r="1.9" fill="#ec008c"/>
<line x1="369.60" y1="616.30" x2="530.00" y2="616.30" stroke="#808285" stroke-width="1.0" stroke-dasharray="12.8 8.6"/>
<line x1="395.00" y1="614.30" x2="395.00" y2="618.70" stroke="#231f20" stroke-width="1.5" />
<line x1="393.30" y1="614.30" x2="396.70" y2="614.30" stroke="#231f20" stroke-width="1.3" />
<line x1="393.30" y1="618.70" x2="396.70" y2="618.70" stroke="#231f20" stroke-width="1.3" />
<circle cx="395.00" cy="616.50" r="1.2" fill="#231f20"/>
<line x1="448.20" y1="618.00" x2="448.20" y2="621.60" stroke="#231f20" stroke-width="1.5" />
<line x1="446.50" y1="618.00" x2="449.90" y2="618.00" stroke="#231f20" stroke-width="1.3" />
<line x1="446.50" y1="621.60" x2="449.90" y2="621.60" stroke="#231f20" stroke-width="1.3" />
<circle cx="448.20" cy="619.80" r="1.2" fill="#231f20"/>
<line x1="501.30" y1="618.50" x2="501.30" y2="623.10" stroke="#231f20" stroke-width="1.5" />
<line x1="499.60" y1="618.50" x2="503.00" y2="618.50" stroke="#231f20" stroke-width="1.3" />
<line x1="499.60" y1="623.10" x2="503.00" y2="623.10" stroke="#231f20" stroke-width="1.3" />
<circle cx="501.30" cy="620.80" r="1.2" fill="#231f20"/>
<line x1="369.60" y1="561.70" x2="369.60" y2="652.30" stroke="#6d6e71" stroke-width="1.0" />
<line x1="369.10" y1="652.30" x2="530.00" y2="652.30" stroke="#6d6e71" stroke-width="1.0" />
<line x1="395.00" y1="652.30" x2="395.00" y2="649.80" stroke="#8a8a8a" stroke-width="0.9" />
<line x1="448.20" y1="652.30" x2="448.20" y2="649.80" stroke="#8a8a8a" stroke-width="0.9" />
<line x1="501.30" y1="652.30" x2="501.30" y2="649.80" stroke="#8a8a8a" stroke-width="0.9" />
<line x1="369.60" y1="577.20" x2="372.10" y2="577.20" stroke="#8a8a8a" stroke-width="0.9" />
<text x="368.40" y="582.68" font-size="15.3" fill="#58595b" text-anchor="end" textLength="18" lengthAdjust="spacingAndGlyphs">100</text>
<line x1="369.60" y1="595.40" x2="372.10" y2="595.40" stroke="#8a8a8a" stroke-width="0.9" />
<text x="368.40" y="600.88" font-size="15.3" fill="#58595b" text-anchor="end" textLength="12" lengthAdjust="spacingAndGlyphs">50</text>
<line x1="369.60" y1="614.70" x2="372.10" y2="614.70" stroke="#8a8a8a" stroke-width="0.9" />
<text x="368.40" y="620.18" font-size="15.3" fill="#58595b" text-anchor="end" textLength="5.6" lengthAdjust="spacingAndGlyphs">0</text>
<line x1="369.60" y1="630.90" x2="372.10" y2="630.90" stroke="#8a8a8a" stroke-width="0.9" />
<text x="368.40" y="636.38" font-size="15.3" fill="#58595b" text-anchor="end" textLength="15.4" lengthAdjust="spacingAndGlyphs">-50</text>
<line x1="369.60" y1="649.80" x2="372.10" y2="649.80" stroke="#8a8a8a" stroke-width="0.9" />
<text x="368.40" y="655.28" font-size="15.3" fill="#58595b" text-anchor="end" textLength="22.3" lengthAdjust="spacingAndGlyphs">-100</text>
<text x="309.70" y="629.25" font-size="15.5" fill="#231f20" text-anchor="middle" textLength="68.5" lengthAdjust="spacingAndGlyphs" transform="rotate(-90 309.70 623.70)">Sleep Bout</text>
<text x="325.40" y="621.25" font-size="15.5" fill="#231f20" text-anchor="middle" textLength="102.4" lengthAdjust="spacingAndGlyphs" transform="rotate(-90 325.40 615.70)">Length (%ΔWT)</text>
<line x1="369.60" y1="679.50" x2="530.00" y2="679.50" stroke="#5ab4ea" stroke-width="1.0" stroke-dasharray="1.1 4.25" stroke-dashoffset="-2.1"/>
<circle cx="394.60" cy="679.50" r="2.5" fill="#231f20"/>
<line x1="448.20" y1="685.30" x2="448.20" y2="739.80" stroke="#58595b" stroke-width="1.1" />
<line x1="446.80" y1="685.30" x2="449.60" y2="685.30" stroke="#231f20" stroke-width="1.3" />
<line x1="446.80" y1="739.80" x2="449.60" y2="739.80" stroke="#231f20" stroke-width="1.3" />
<circle cx="448.20" cy="712.20" r="3.5" fill="#231f20"/>
<line x1="501.70" y1="690.70" x2="501.70" y2="752.00" stroke="#58595b" stroke-width="1.1" />
<line x1="500.30" y1="690.70" x2="503.10" y2="690.70" stroke="#231f20" stroke-width="1.3" />
<line x1="500.30" y1="752.00" x2="503.10" y2="752.00" stroke="#231f20" stroke-width="1.3" />
<circle cx="501.70" cy="721.20" r="3.5" fill="#231f20"/>
<line x1="369.60" y1="672.50" x2="369.60" y2="759.10" stroke="#6d6e71" stroke-width="1.0" />
<line x1="369.10" y1="759.10" x2="530.00" y2="759.10" stroke="#6d6e71" stroke-width="1.0" />
<line x1="394.60" y1="759.10" x2="394.60" y2="756.60" stroke="#8a8a8a" stroke-width="0.9" />
<line x1="448.20" y1="759.10" x2="448.20" y2="756.60" stroke="#8a8a8a" stroke-width="0.9" />
<line x1="501.70" y1="759.10" x2="501.70" y2="756.60" stroke="#8a8a8a" stroke-width="0.9" />
<text x="368.40" y="683.90" font-size="14.8" fill="#58595b" text-anchor="end" textLength="7" lengthAdjust="spacingAndGlyphs">0</text>
<line x1="369.60" y1="678.60" x2="372.10" y2="678.60" stroke="#8a8a8a" stroke-width="0.9" />
<text x="368.40" y="701.30" font-size="14.8" fill="#58595b" text-anchor="end" textLength="11.4" lengthAdjust="spacingAndGlyphs">-5</text>
<line x1="369.60" y1="696.00" x2="372.10" y2="696.00" stroke="#8a8a8a" stroke-width="0.9" />
<text x="368.40" y="718.50" font-size="14.8" fill="#58595b" text-anchor="end" textLength="17.7" lengthAdjust="spacingAndGlyphs">-10</text>
<line x1="369.60" y1="713.20" x2="372.10" y2="713.20" stroke="#8a8a8a" stroke-width="0.9" />
<text x="368.40" y="735.60" font-size="14.8" fill="#58595b" text-anchor="end" textLength="17.7" lengthAdjust="spacingAndGlyphs">-15</text>
<line x1="369.60" y1="730.30" x2="372.10" y2="730.30" stroke="#8a8a8a" stroke-width="0.9" />
<text x="368.40" y="752.70" font-size="14.8" fill="#58595b" text-anchor="end" textLength="17.7" lengthAdjust="spacingAndGlyphs">-20</text>
<line x1="369.60" y1="747.40" x2="372.10" y2="747.40" stroke="#8a8a8a" stroke-width="0.9" />
<text x="311.70" y="735.05" font-size="15.5" fill="#231f20" text-anchor="middle" textLength="66.3" lengthAdjust="spacingAndGlyphs" transform="rotate(-90 311.70 729.50)">Effect Size</text>
<text x="326.50" y="735.05" font-size="15.5" fill="#231f20" text-anchor="middle" textLength="21.4" lengthAdjust="spacingAndGlyphs" transform="rotate(-90 326.50 729.50)">(%)</text>
<text x="357.80" y="775.50" font-size="14" fill="#231f20" text-anchor="middle" font-style="italic" textLength="33" lengthAdjust="spacingAndGlyphs">appb</text>
<text x="393.30" y="775.50" font-size="14" fill="#231f20" text-anchor="middle" textLength="21" lengthAdjust="spacingAndGlyphs">+/+</text>
<text x="442.40" y="775.50" font-size="14" fill="#231f20" text-anchor="middle" textLength="17" lengthAdjust="spacingAndGlyphs">+/-</text>
<text x="500.10" y="775.50" font-size="14" fill="#231f20" text-anchor="middle" textLength="14" lengthAdjust="spacingAndGlyphs">-/-</text>
<text x="548.10" y="540.03" font-size="13.5" fill="#000" text-anchor="middle" font-weight="bold">H</text>
<line x1="603.40" y1="549.10" x2="706.90" y2="549.10" stroke="#5d5d5f" stroke-width="1.1" />
<text x="654.50" y="554.80" font-size="17" fill="#231f20" text-anchor="middle" font-weight="bold">*</text>
<line x1="603.40" y1="564.30" x2="654.50" y2="564.30" stroke="#5d5d5f" stroke-width="1.1" />
<text x="629.10" y="569.70" font-size="17" fill="#231f20" text-anchor="middle" font-weight="bold">*</text>
<circle cx="603.29" cy="635.37" r="2.0" fill="#808285"/>
<circle cx="603.77" cy="608.81" r="2.0" fill="#808285"/>
<circle cx="603.69" cy="577.39" r="2.0" fill="#808285"/>
<circle cx="603.73" cy="585.58" r="2.0" fill="#808285"/>
<circle cx="603.34" cy="572.67" r="2.0" fill="#808285"/>
<circle cx="603.49" cy="604.55" r="2.0" fill="#808285"/>
<circle cx="603.20" cy="624.58" r="2.0" fill="#808285"/>
<circle cx="603.47" cy="615.08" r="2.0" fill="#808285"/>
<circle cx="604.79" cy="626.89" r="2.0" fill="#808285"/>
<circle cx="603.20" cy="621.38" r="2.0" fill="#808285"/>
<circle cx="603.70" cy="592.20" r="2.0" fill="#808285"/>
<circle cx="603.76" cy="631.00" r="2.0" fill="#808285"/>
<circle cx="602.08" cy="627.62" r="2.0" fill="#808285"/>
<circle cx="602.95" cy="578.30" r="2.0" fill="#808285"/>
<circle cx="601.53" cy="613.05" r="2.0" fill="#808285"/>
<circle cx="603.76" cy="582.72" r="2.0" fill="#808285"/>
<circle cx="600.94" cy="591.73" r="2.0" fill="#808285"/>
<circle cx="600.80" cy="603.77" r="2.0" fill="#808285"/>
<circle cx="605.55" cy="619.86" r="2.0" fill="#808285"/>
<circle cx="602.46" cy="579.93" r="2.0" fill="#808285"/>
<circle cx="605.23" cy="611.20" r="2.0" fill="#808285"/>
<circle cx="607.45" cy="626.02" r="2.0" fill="#808285"/>
<circle cx="605.61" cy="616.88" r="2.0" fill="#808285"/>
<circle cx="600.33" cy="610.53" r="2.0" fill="#808285"/>
<circle cx="600.45" cy="625.07" r="2.0" fill="#808285"/>
<circle cx="600.45" cy="620.85" r="2.0" fill="#808285"/>
<circle cx="606.06" cy="605.66" r="2.0" fill="#808285"/>
<circle cx="603.72" cy="595.12" r="2.0" fill="#808285"/>
<circle cx="605.78" cy="634.10" r="2.0" fill="#808285"/>
<circle cx="601.40" cy="632.52" r="2.0" fill="#808285"/>
<circle cx="603.53" cy="571.26" r="2.0" fill="#808285"/>
<circle cx="603.69" cy="584.17" r="2.0" fill="#808285"/>
<circle cx="606.51" cy="613.69" r="2.0" fill="#808285"/>
<circle cx="603.32" cy="573.19" r="2.0" fill="#808285"/>
<circle cx="607.92" cy="610.42" r="2.0" fill="#808285"/>
<circle cx="604.20" cy="585.93" r="2.0" fill="#808285"/>
<circle cx="602.67" cy="635.95" r="2.0" fill="#808285"/>
<circle cx="606.24" cy="591.02" r="2.0" fill="#808285"/>
<circle cx="597.66" cy="624.78" r="2.0" fill="#808285"/>
<circle cx="599.41" cy="628.46" r="2.0" fill="#808285"/>
<circle cx="609.86" cy="624.60" r="2.0" fill="#808285"/>
<circle cx="602.87" cy="586.78" r="2.0" fill="#808285"/>
<circle cx="594.87" cy="624.54" r="2.0" fill="#808285"/>
<circle cx="608.37" cy="633.03" r="2.0" fill="#808285"/>
<circle cx="605.55" cy="622.89" r="2.0" fill="#808285"/>
<circle cx="603.08" cy="618.08" r="2.0" fill="#808285"/>
<circle cx="598.98" cy="633.91" r="2.0" fill="#808285"/>
<circle cx="602.03" cy="592.79" r="2.0" fill="#808285"/>
<circle cx="599.79" cy="615.25" r="2.0" fill="#808285"/>
<circle cx="598.80" cy="608.18" r="2.0" fill="#808285"/>
<circle cx="599.82" cy="618.12" r="2.0" fill="#808285"/>
<circle cx="608.55" cy="615.61" r="2.0" fill="#808285"/>
<circle cx="609.31" cy="607.99" r="2.0" fill="#808285"/>
<circle cx="597.03" cy="614.79" r="2.0" fill="#808285"/>
<circle cx="608.26" cy="622.18" r="2.0" fill="#808285"/>
<circle cx="601.78" cy="589.27" r="2.0" fill="#808285"/>
<circle cx="600.97" cy="593.38" r="2.0" fill="#808285"/>
<circle cx="598.12" cy="626.05" r="2.0" fill="#808285"/>
<circle cx="603.33" cy="598.59" r="2.0" fill="#808285"/>
<circle cx="604.11" cy="635.64" r="2.0" fill="#808285"/>
<circle cx="608.12" cy="618.74" r="2.0" fill="#808285"/>
<circle cx="606.18" cy="629.59" r="2.0" fill="#808285"/>
<circle cx="612.48" cy="623.60" r="2.0" fill="#808285"/>
<circle cx="602.87" cy="574.29" r="2.0" fill="#808285"/>
<circle cx="609.31" cy="628.12" r="2.0" fill="#808285"/>
<circle cx="606.83" cy="605.98" r="2.0" fill="#808285"/>
<circle cx="598.76" cy="625.26" r="2.0" fill="#808285"/>
<circle cx="601.92" cy="586.95" r="2.0" fill="#808285"/>
<circle cx="604.40" cy="624.58" r="2.0" fill="#808285"/>
<circle cx="597.67" cy="620.50" r="2.0" fill="#808285"/>
<circle cx="605.98" cy="599.49" r="2.0" fill="#808285"/>
<circle cx="608.21" cy="608.57" r="2.0" fill="#808285"/>
<circle cx="600.69" cy="599.53" r="2.0" fill="#808285"/>
<circle cx="610.06" cy="612.23" r="2.0" fill="#808285"/>
<circle cx="606.19" cy="606.41" r="2.0" fill="#808285"/>
<circle cx="605.43" cy="590.61" r="2.0" fill="#808285"/>
<circle cx="600.91" cy="604.64" r="2.0" fill="#808285"/>
<circle cx="602.65" cy="574.54" r="2.0" fill="#808285"/>
<circle cx="603.45" cy="591.90" r="2.0" fill="#808285"/>
<circle cx="605.60" cy="602.71" r="2.0" fill="#808285"/>
<circle cx="598.16" cy="605.16" r="2.0" fill="#808285"/>
<circle cx="610.68" cy="619.89" r="2.0" fill="#808285"/>
<circle cx="595.61" cy="627.29" r="2.0" fill="#808285"/>
<circle cx="595.54" cy="618.69" r="2.0" fill="#808285"/>
<circle cx="612.69" cy="617.94" r="2.0" fill="#808285"/>
<circle cx="601.82" cy="618.15" r="2.0" fill="#808285"/>
<circle cx="598.04" cy="618.44" r="2.0" fill="#808285"/>
<circle cx="607.19" cy="604.31" r="2.0" fill="#808285"/>
<circle cx="596.95" cy="617.52" r="2.0" fill="#808285"/>
<circle cx="604.19" cy="616.10" r="2.0" fill="#808285"/>
<circle cx="603.50" cy="640.80" r="2.0" fill="#808285"/>
<circle cx="654.50" cy="622.46" r="2.0" fill="#2e3192"/>
<circle cx="654.30" cy="618.93" r="2.0" fill="#2e3192"/>
<circle cx="654.30" cy="625.30" r="2.0" fill="#2e3192"/>
<circle cx="654.68" cy="633.44" r="2.0" fill="#2e3192"/>
<circle cx="655.12" cy="616.88" r="2.0" fill="#2e3192"/>
<circle cx="652.81" cy="632.29" r="2.0" fill="#2e3192"/>
<circle cx="654.45" cy="601.91" r="2.0" fill="#2e3192"/>
<circle cx="654.68" cy="597.42" r="2.0" fill="#2e3192"/>
<circle cx="654.50" cy="608.04" r="2.0" fill="#2e3192"/>
<circle cx="656.08" cy="624.00" r="2.0" fill="#2e3192"/>
<circle cx="656.42" cy="621.38" r="2.0" fill="#2e3192"/>
<circle cx="652.71" cy="621.18" r="2.0" fill="#2e3192"/>
<circle cx="652.15" cy="624.83" r="2.0" fill="#2e3192"/>
<circle cx="656.24" cy="626.34" r="2.0" fill="#2e3192"/>
<circle cx="654.73" cy="614.63" r="2.0" fill="#2e3192"/>
<circle cx="656.35" cy="603.01" r="2.0" fill="#2e3192"/>
<circle cx="658.60" cy="621.71" r="2.0" fill="#2e3192"/>
<circle cx="656.22" cy="609.41" r="2.0" fill="#2e3192"/>
<circle cx="650.95" cy="619.85" r="2.0" fill="#2e3192"/>
<circle cx="654.69" cy="628.68" r="2.0" fill="#2e3192"/>
<circle cx="654.69" cy="578.86" r="2.0" fill="#2e3192"/>
<circle cx="652.29" cy="601.49" r="2.0" fill="#2e3192"/>
<circle cx="654.34" cy="587.91" r="2.0" fill="#2e3192"/>
<circle cx="658.24" cy="624.39" r="2.0" fill="#2e3192"/>
<circle cx="656.88" cy="633.57" r="2.0" fill="#2e3192"/>
<circle cx="653.48" cy="635.28" r="2.0" fill="#2e3192"/>
<circle cx="650.81" cy="622.30" r="2.0" fill="#2e3192"/>
<circle cx="653.62" cy="610.05" r="2.0" fill="#2e3192"/>
<circle cx="656.50" cy="618.83" r="2.0" fill="#2e3192"/>
<circle cx="656.00" cy="586.47" r="2.0" fill="#2e3192"/>
<circle cx="654.90" cy="644.76" r="2.0" fill="#2e3192"/>
<circle cx="651.83" cy="611.34" r="2.0" fill="#2e3192"/>
<circle cx="652.70" cy="606.77" r="2.0" fill="#2e3192"/>
<circle cx="656.36" cy="630.11" r="2.0" fill="#2e3192"/>
<circle cx="653.89" cy="599.47" r="2.0" fill="#2e3192"/>
<circle cx="649.82" cy="624.27" r="2.0" fill="#2e3192"/>
<circle cx="655.55" cy="636.03" r="2.0" fill="#2e3192"/>
<circle cx="652.52" cy="629.02" r="2.0" fill="#2e3192"/>
<circle cx="651.02" cy="631.01" r="2.0" fill="#2e3192"/>
<circle cx="657.88" cy="627.80" r="2.0" fill="#2e3192"/>
<circle cx="660.79" cy="621.64" r="2.0" fill="#2e3192"/>
<circle cx="658.52" cy="602.64" r="2.0" fill="#2e3192"/>
<circle cx="651.06" cy="626.74" r="2.0" fill="#2e3192"/>
<circle cx="658.30" cy="610.14" r="2.0" fill="#2e3192"/>
<circle cx="650.53" cy="602.80" r="2.0" fill="#2e3192"/>
<circle cx="658.31" cy="631.13" r="2.0" fill="#2e3192"/>
<circle cx="649.73" cy="610.68" r="2.0" fill="#2e3192"/>
<circle cx="649.49" cy="632.60" r="2.0" fill="#2e3192"/>
<circle cx="655.65" cy="587.70" r="2.0" fill="#2e3192"/>
<circle cx="652.97" cy="637.42" r="2.0" fill="#2e3192"/>
<circle cx="656.25" cy="600.65" r="2.0" fill="#2e3192"/>
<circle cx="660.48" cy="630.75" r="2.0" fill="#2e3192"/>
<circle cx="653.00" cy="616.29" r="2.0" fill="#2e3192"/>
<circle cx="654.49" cy="594.36" r="2.0" fill="#2e3192"/>
<circle cx="651.32" cy="635.70" r="2.0" fill="#2e3192"/>
<circle cx="649.16" cy="629.84" r="2.0" fill="#2e3192"/>
<circle cx="658.59" cy="618.14" r="2.0" fill="#2e3192"/>
<circle cx="649.89" cy="617.93" r="2.0" fill="#2e3192"/>
<circle cx="648.61" cy="622.42" r="2.0" fill="#2e3192"/>
<circle cx="660.08" cy="627.90" r="2.0" fill="#2e3192"/>
<circle cx="656.82" cy="615.33" r="2.0" fill="#2e3192"/>
<circle cx="657.68" cy="636.57" r="2.0" fill="#2e3192"/>
<circle cx="662.11" cy="628.74" r="2.0" fill="#2e3192"/>
<circle cx="648.88" cy="627.02" r="2.0" fill="#2e3192"/>
<circle cx="654.41" cy="574.99" r="2.0" fill="#2e3192"/>
<circle cx="650.82" cy="637.87" r="2.0" fill="#2e3192"/>
<circle cx="647.19" cy="628.42" r="2.0" fill="#2e3192"/>
<circle cx="660.44" cy="624.20" r="2.0" fill="#2e3192"/>
<circle cx="660.40" cy="616.89" r="2.0" fill="#2e3192"/>
<circle cx="647.74" cy="624.98" r="2.0" fill="#2e3192"/>
<circle cx="658.11" cy="629.34" r="2.0" fill="#2e3192"/>
<circle cx="646.43" cy="622.67" r="2.0" fill="#2e3192"/>
<circle cx="659.05" cy="633.95" r="2.0" fill="#2e3192"/>
<circle cx="652.50" cy="597.13" r="2.0" fill="#2e3192"/>
<circle cx="654.35" cy="612.13" r="2.0" fill="#2e3192"/>
<circle cx="661.96" cy="625.79" r="2.0" fill="#2e3192"/>
<circle cx="663.72" cy="629.44" r="2.0" fill="#2e3192"/>
<circle cx="646.01" cy="626.35" r="2.0" fill="#2e3192"/>
<circle cx="647.60" cy="631.39" r="2.0" fill="#2e3192"/>
<circle cx="660.40" cy="619.39" r="2.0" fill="#2e3192"/>
<circle cx="656.78" cy="598.06" r="2.0" fill="#2e3192"/>
<circle cx="661.15" cy="633.29" r="2.0" fill="#2e3192"/>
<circle cx="657.81" cy="599.83" r="2.0" fill="#2e3192"/>
<circle cx="648.45" cy="634.54" r="2.0" fill="#2e3192"/>
<circle cx="654.56" cy="640.66" r="2.0" fill="#2e3192"/>
<circle cx="659.82" cy="636.08" r="2.0" fill="#2e3192"/>
<circle cx="651.61" cy="599.40" r="2.0" fill="#2e3192"/>
<circle cx="650.66" cy="633.62" r="2.0" fill="#2e3192"/>
<circle cx="652.68" cy="633.53" r="2.0" fill="#2e3192"/>
<circle cx="661.39" cy="632.22" r="2.0" fill="#2e3192"/>
<circle cx="654.91" cy="638.47" r="2.0" fill="#2e3192"/>
<circle cx="648.18" cy="616.54" r="2.0" fill="#2e3192"/>
<circle cx="652.57" cy="641.60" r="2.0" fill="#2e3192"/>
<circle cx="645.02" cy="628.79" r="2.0" fill="#2e3192"/>
<circle cx="656.38" cy="643.14" r="2.0" fill="#2e3192"/>
<circle cx="656.32" cy="593.14" r="2.0" fill="#2e3192"/>
<circle cx="660.64" cy="628.94" r="2.0" fill="#2e3192"/>
<circle cx="652.30" cy="594.56" r="2.0" fill="#2e3192"/>
<circle cx="660.43" cy="609.59" r="2.0" fill="#2e3192"/>
<circle cx="655.70" cy="641.94" r="2.0" fill="#2e3192"/>
<circle cx="648.04" cy="619.12" r="2.0" fill="#2e3192"/>
<circle cx="662.01" cy="632.21" r="2.0" fill="#2e3192"/>
<circle cx="662.83" cy="620.80" r="2.0" fill="#2e3192"/>
<circle cx="646.09" cy="620.14" r="2.0" fill="#2e3192"/>
<circle cx="653.65" cy="631.21" r="2.0" fill="#2e3192"/>
<circle cx="653.25" cy="589.82" r="2.0" fill="#2e3192"/>
<circle cx="654.03" cy="632.39" r="2.0" fill="#2e3192"/>
<circle cx="651.46" cy="614.71" r="2.0" fill="#2e3192"/>
<circle cx="663.67" cy="627.18" r="2.0" fill="#2e3192"/>
<circle cx="664.44" cy="622.30" r="2.0" fill="#2e3192"/>
<circle cx="654.72" cy="621.61" r="2.0" fill="#2e3192"/>
<circle cx="664.52" cy="625.15" r="2.0" fill="#2e3192"/>
<circle cx="651.38" cy="609.19" r="2.0" fill="#2e3192"/>
<circle cx="655.60" cy="576.52" r="2.0" fill="#2e3192"/>
<circle cx="650.51" cy="622.32" r="2.0" fill="#2e3192"/>
<circle cx="651.94" cy="630.61" r="2.0" fill="#2e3192"/>
<circle cx="658.98" cy="614.92" r="2.0" fill="#2e3192"/>
<circle cx="649.50" cy="613.71" r="2.0" fill="#2e3192"/>
<circle cx="656.95" cy="607.34" r="2.0" fill="#2e3192"/>
<circle cx="653.91" cy="633.97" r="2.0" fill="#2e3192"/>
<circle cx="655.26" cy="634.53" r="2.0" fill="#2e3192"/>
<circle cx="662.48" cy="616.18" r="2.0" fill="#2e3192"/>
<circle cx="644.70" cy="625.17" r="2.0" fill="#2e3192"/>
<circle cx="652.30" cy="630.52" r="2.0" fill="#2e3192"/>
<circle cx="654.23" cy="628.25" r="2.0" fill="#2e3192"/>
<circle cx="646.22" cy="617.88" r="2.0" fill="#2e3192"/>
<circle cx="660.92" cy="613.88" r="2.0" fill="#2e3192"/>
<circle cx="654.25" cy="585.14" r="2.0" fill="#2e3192"/>
<circle cx="652.03" cy="610.25" r="2.0" fill="#2e3192"/>
<circle cx="653.43" cy="577.40" r="2.0" fill="#2e3192"/>
<circle cx="661.43" cy="619.90" r="2.0" fill="#2e3192"/>
<circle cx="656.94" cy="639.30" r="2.0" fill="#2e3192"/>
<circle cx="651.99" cy="596.92" r="2.0" fill="#2e3192"/>
<circle cx="656.35" cy="593.22" r="2.0" fill="#2e3192"/>
<circle cx="656.33" cy="602.35" r="2.0" fill="#2e3192"/>
<circle cx="653.33" cy="620.61" r="2.0" fill="#2e3192"/>
<circle cx="656.74" cy="598.97" r="2.0" fill="#2e3192"/>
<circle cx="647.54" cy="610.85" r="2.0" fill="#2e3192"/>
<circle cx="646.51" cy="620.92" r="2.0" fill="#2e3192"/>
<circle cx="653.87" cy="637.56" r="2.0" fill="#2e3192"/>
<circle cx="649.35" cy="608.36" r="2.0" fill="#2e3192"/>
<circle cx="655.72" cy="637.28" r="2.0" fill="#2e3192"/>
<circle cx="645.11" cy="626.61" r="2.0" fill="#2e3192"/>
<circle cx="653.60" cy="587.07" r="2.0" fill="#2e3192"/>
<circle cx="657.76" cy="626.91" r="2.0" fill="#2e3192"/>
<circle cx="658.96" cy="622.75" r="2.0" fill="#2e3192"/>
<circle cx="655.69" cy="635.19" r="2.0" fill="#2e3192"/>
<circle cx="656.48" cy="628.77" r="2.0" fill="#2e3192"/>
<circle cx="664.23" cy="617.52" r="2.0" fill="#2e3192"/>
<circle cx="656.59" cy="621.44" r="2.0" fill="#2e3192"/>
<circle cx="647.75" cy="623.06" r="2.0" fill="#2e3192"/>
<circle cx="657.09" cy="598.72" r="2.0" fill="#2e3192"/>
<circle cx="652.05" cy="596.97" r="2.0" fill="#2e3192"/>
<circle cx="659.70" cy="632.07" r="2.0" fill="#2e3192"/>
<circle cx="659.11" cy="638.91" r="2.0" fill="#2e3192"/>
<circle cx="652.17" cy="642.53" r="2.0" fill="#2e3192"/>
<circle cx="653.84" cy="575.60" r="2.0" fill="#2e3192"/>
<circle cx="661.82" cy="616.99" r="2.0" fill="#2e3192"/>
<circle cx="645.49" cy="618.69" r="2.0" fill="#2e3192"/>
<circle cx="655.28" cy="583.20" r="2.0" fill="#2e3192"/>
<circle cx="659.64" cy="630.67" r="2.0" fill="#2e3192"/>
<circle cx="659.08" cy="606.77" r="2.0" fill="#2e3192"/>
<circle cx="652.06" cy="630.41" r="2.0" fill="#2e3192"/>
<circle cx="651.55" cy="620.42" r="2.0" fill="#2e3192"/>
<circle cx="659.63" cy="616.42" r="2.0" fill="#2e3192"/>
<circle cx="648.93" cy="636.74" r="2.0" fill="#2e3192"/>
<circle cx="651.50" cy="617.54" r="2.0" fill="#2e3192"/>
<circle cx="654.67" cy="605.78" r="2.0" fill="#2e3192"/>
<circle cx="656.56" cy="628.45" r="2.0" fill="#2e3192"/>
<circle cx="651.05" cy="626.10" r="2.0" fill="#2e3192"/>
<circle cx="705.91" cy="637.92" r="2.0" fill="#ed1c24"/>
<circle cx="705.67" cy="605.56" r="2.0" fill="#ed1c24"/>
<circle cx="705.56" cy="615.75" r="2.0" fill="#ed1c24"/>
<circle cx="705.71" cy="624.27" r="2.0" fill="#ed1c24"/>
<circle cx="705.52" cy="619.79" r="2.0" fill="#ed1c24"/>
<circle cx="705.73" cy="597.35" r="2.0" fill="#ed1c24"/>
<circle cx="708.56" cy="615.81" r="2.0" fill="#ed1c24"/>
<circle cx="702.69" cy="616.63" r="2.0" fill="#ed1c24"/>
<circle cx="708.15" cy="622.52" r="2.0" fill="#ed1c24"/>
<circle cx="702.94" cy="637.48" r="2.0" fill="#ed1c24"/>
<circle cx="705.65" cy="631.53" r="2.0" fill="#ed1c24"/>
<circle cx="705.67" cy="627.33" r="2.0" fill="#ed1c24"/>
<circle cx="706.06" cy="595.51" r="2.0" fill="#ed1c24"/>
<circle cx="708.42" cy="630.36" r="2.0" fill="#ed1c24"/>
<circle cx="704.50" cy="596.59" r="2.0" fill="#ed1c24"/>
<circle cx="705.89" cy="610.23" r="2.0" fill="#ed1c24"/>
<circle cx="702.68" cy="631.93" r="2.0" fill="#ed1c24"/>
<circle cx="708.48" cy="626.26" r="2.0" fill="#ed1c24"/>
<circle cx="702.96" cy="626.05" r="2.0" fill="#ed1c24"/>
<circle cx="707.10" cy="613.18" r="2.0" fill="#ed1c24"/>
<circle cx="707.53" cy="635.39" r="2.0" fill="#ed1c24"/>
<circle cx="711.46" cy="615.03" r="2.0" fill="#ed1c24"/>
<circle cx="710.96" cy="631.94" r="2.0" fill="#ed1c24"/>
<circle cx="703.31" cy="622.47" r="2.0" fill="#ed1c24"/>
<circle cx="702.15" cy="628.97" r="2.0" fill="#ed1c24"/>
<circle cx="708.34" cy="604.21" r="2.0" fill="#ed1c24"/>
<circle cx="710.82" cy="624.38" r="2.0" fill="#ed1c24"/>
<circle cx="710.34" cy="618.22" r="2.0" fill="#ed1c24"/>
<circle cx="700.01" cy="626.87" r="2.0" fill="#ed1c24"/>
<circle cx="703.06" cy="611.21" r="2.0" fill="#ed1c24"/>
<circle cx="700.46" cy="621.53" r="2.0" fill="#ed1c24"/>
<circle cx="704.28" cy="640.44" r="2.0" fill="#ed1c24"/>
<circle cx="698.67" cy="619.13" r="2.0" fill="#ed1c24"/>
<circle cx="713.26" cy="618.93" r="2.0" fill="#ed1c24"/>
<circle cx="702.68" cy="605.32" r="2.0" fill="#ed1c24"/>
<circle cx="705.74" cy="606.53" r="2.0" fill="#ed1c24"/>
<circle cx="699.77" cy="631.19" r="2.0" fill="#ed1c24"/>
<circle cx="708.89" cy="610.35" r="2.0" fill="#ed1c24"/>
<circle cx="711.78" cy="618.64" r="2.0" fill="#ed1c24"/>
<circle cx="704.79" cy="631.39" r="2.0" fill="#ed1c24"/>
<circle cx="713.51" cy="623.06" r="2.0" fill="#ed1c24"/>
<circle cx="698.37" cy="624.36" r="2.0" fill="#ed1c24"/>
<circle cx="714.40" cy="625.53" r="2.0" fill="#ed1c24"/>
<circle cx="702.75" cy="617.40" r="2.0" fill="#ed1c24"/>
<circle cx="711.19" cy="627.54" r="2.0" fill="#ed1c24"/>
<circle cx="714.10" cy="622.70" r="2.0" fill="#ed1c24"/>
<circle cx="705.63" cy="596.18" r="2.0" fill="#ed1c24"/>
<circle cx="705.51" cy="601.42" r="2.0" fill="#ed1c24"/>
<circle cx="706.74" cy="636.11" r="2.0" fill="#ed1c24"/>
<circle cx="697.38" cy="628.30" r="2.0" fill="#ed1c24"/>
<circle cx="710.51" cy="635.70" r="2.0" fill="#ed1c24"/>
<circle cx="705.17" cy="603.84" r="2.0" fill="#ed1c24"/>
<circle cx="699.78" cy="615.93" r="2.0" fill="#ed1c24"/>
<circle cx="707.24" cy="640.94" r="2.0" fill="#ed1c24"/>
<circle cx="702.63" cy="613.68" r="2.0" fill="#ed1c24"/>
<circle cx="706.80" cy="594.88" r="2.0" fill="#ed1c24"/>
<circle cx="701.15" cy="636.20" r="2.0" fill="#ed1c24"/>
<circle cx="705.22" cy="623.31" r="2.0" fill="#ed1c24"/>
<circle cx="711.02" cy="630.20" r="2.0" fill="#ed1c24"/>
<circle cx="705.35" cy="625.27" r="2.0" fill="#ed1c24"/>
<circle cx="708.08" cy="599.21" r="2.0" fill="#ed1c24"/>
<circle cx="701.73" cy="625.79" r="2.0" fill="#ed1c24"/>
<circle cx="704.77" cy="619.97" r="2.0" fill="#ed1c24"/>
<circle cx="707.63" cy="623.37" r="2.0" fill="#ed1c24"/>
<circle cx="708.26" cy="632.90" r="2.0" fill="#ed1c24"/>
<circle cx="706.50" cy="613.57" r="2.0" fill="#ed1c24"/>
<circle cx="706.00" cy="593.19" r="2.0" fill="#ed1c24"/>
<circle cx="705.96" cy="593.90" r="2.0" fill="#ed1c24"/>
<circle cx="704.59" cy="614.49" r="2.0" fill="#ed1c24"/>
<circle cx="708.44" cy="602.82" r="2.0" fill="#ed1c24"/>
<circle cx="708.97" cy="606.47" r="2.0" fill="#ed1c24"/>
<circle cx="701.29" cy="627.16" r="2.0" fill="#ed1c24"/>
<circle cx="705.70" cy="581.70" r="2.0" fill="#ed1c24"/>
<line x1="579.00" y1="614.10" x2="738.40" y2="614.10" stroke="#808285" stroke-width="1.0" stroke-dasharray="12.8 8.6"/>
<line x1="603.50" y1="610.70" x2="603.50" y2="616.70" stroke="#231f20" stroke-width="1.5" />
<line x1="601.80" y1="610.70" x2="605.20" y2="610.70" stroke="#231f20" stroke-width="1.3" />
<line x1="601.80" y1="616.70" x2="605.20" y2="616.70" stroke="#231f20" stroke-width="1.3" />
<circle cx="603.50" cy="613.70" r="1.2" fill="#231f20"/>
<line x1="654.60" y1="614.80" x2="654.60" y2="620.80" stroke="#231f20" stroke-width="1.5" />
<line x1="652.90" y1="614.80" x2="656.30" y2="614.80" stroke="#231f20" stroke-width="1.3" />
<line x1="652.90" y1="620.80" x2="656.30" y2="620.80" stroke="#231f20" stroke-width="1.3" />
<circle cx="654.60" cy="617.80" r="1.2" fill="#231f20"/>
<line x1="705.70" y1="617.20" x2="705.70" y2="623.20" stroke="#231f20" stroke-width="1.5" />
<line x1="704.00" y1="617.20" x2="707.40" y2="617.20" stroke="#231f20" stroke-width="1.3" />
<line x1="704.00" y1="623.20" x2="707.40" y2="623.20" stroke="#231f20" stroke-width="1.3" />
<circle cx="705.70" cy="620.20" r="1.2" fill="#231f20"/>
<line x1="579.00" y1="571.00" x2="579.00" y2="654.00" stroke="#6d6e71" stroke-width="1.0" />
<line x1="578.50" y1="654.00" x2="738.40" y2="654.00" stroke="#6d6e71" stroke-width="1.0" />
<line x1="603.50" y1="654.00" x2="603.50" y2="651.50" stroke="#8a8a8a" stroke-width="0.9" />
<line x1="654.60" y1="654.00" x2="654.60" y2="651.50" stroke="#8a8a8a" stroke-width="0.9" />
<line x1="705.70" y1="654.00" x2="705.70" y2="651.50" stroke="#8a8a8a" stroke-width="0.9" />
<line x1="579.00" y1="573.10" x2="581.50" y2="573.10" stroke="#8a8a8a" stroke-width="0.9" />
<text x="577.80" y="578.36" font-size="14.7" fill="#58595b" text-anchor="end" textLength="16.6" lengthAdjust="spacingAndGlyphs">100</text>
<line x1="579.00" y1="592.40" x2="581.50" y2="592.40" stroke="#8a8a8a" stroke-width="0.9" />
<text x="577.80" y="597.66" font-size="14.7" fill="#58595b" text-anchor="end" textLength="11.4" lengthAdjust="spacingAndGlyphs">50</text>
<line x1="579.00" y1="613.80" x2="581.50" y2="613.80" stroke="#8a8a8a" stroke-width="0.9" />
<text x="577.80" y="619.06" font-size="14.7" fill="#58595b" text-anchor="end" textLength="5.7" lengthAdjust="spacingAndGlyphs">0</text>
<line x1="579.00" y1="634.80" x2="581.50" y2="634.80" stroke="#8a8a8a" stroke-width="0.9" />
<text x="577.80" y="640.06" font-size="14.7" fill="#58595b" text-anchor="end" textLength="15.2" lengthAdjust="spacingAndGlyphs">-50</text>
<line x1="579.00" y1="654.20" x2="581.50" y2="654.20" stroke="#8a8a8a" stroke-width="0.9" />
<text x="577.80" y="659.46" font-size="14.7" fill="#58595b" text-anchor="end" textLength="22.3" lengthAdjust="spacingAndGlyphs">-100</text>
<line x1="579.00" y1="684.40" x2="735.50" y2="684.40" stroke="#5ab4ea" stroke-width="1.0" stroke-dasharray="1.1 4.25" stroke-dashoffset="-2.1"/>
<circle cx="604.90" cy="684.40" r="2.5" fill="#231f20"/>
<line x1="655.90" y1="687.30" x2="655.90" y2="736.60" stroke="#58595b" stroke-width="1.1" />
<line x1="654.50" y1="687.30" x2="657.30" y2="687.30" stroke="#231f20" stroke-width="1.3" />
<line x1="654.50" y1="736.60" x2="657.30" y2="736.60" stroke="#231f20" stroke-width="1.3" />
<circle cx="655.90" cy="711.80" r="3.5" fill="#231f20"/>
<line x1="706.90" y1="701.60" x2="706.90" y2="753.50" stroke="#58595b" stroke-width="1.1" />
<line x1="705.50" y1="701.60" x2="708.30" y2="701.60" stroke="#231f20" stroke-width="1.3" />
<line x1="705.50" y1="753.50" x2="708.30" y2="753.50" stroke="#231f20" stroke-width="1.3" />
<circle cx="706.90" cy="727.80" r="3.5" fill="#231f20"/>
<line x1="579.00" y1="677.70" x2="579.00" y2="760.20" stroke="#6d6e71" stroke-width="1.0" />
<line x1="578.50" y1="760.20" x2="748.00" y2="760.20" stroke="#6d6e71" stroke-width="1.0" />
<line x1="604.90" y1="760.20" x2="604.90" y2="757.70" stroke="#8a8a8a" stroke-width="0.9" />
<line x1="655.90" y1="760.20" x2="655.90" y2="757.70" stroke="#8a8a8a" stroke-width="0.9" />
<line x1="706.90" y1="760.20" x2="706.90" y2="757.70" stroke="#8a8a8a" stroke-width="0.9" />
<text x="577.80" y="689.77" font-size="15" fill="#58595b" text-anchor="end" textLength="5.7" lengthAdjust="spacingAndGlyphs">0</text>
<line x1="579.00" y1="684.40" x2="581.50" y2="684.40" stroke="#8a8a8a" stroke-width="0.9" />
<line x1="579.00" y1="698.50" x2="581.50" y2="698.50" stroke="#8a8a8a" stroke-width="0.9" />
<text x="577.80" y="718.27" font-size="15" fill="#58595b" text-anchor="end" textLength="15.2" lengthAdjust="spacingAndGlyphs">-10</text>
<line x1="579.00" y1="712.90" x2="581.50" y2="712.90" stroke="#8a8a8a" stroke-width="0.9" />
<line x1="579.00" y1="727.00" x2="581.50" y2="727.00" stroke="#8a8a8a" stroke-width="0.9" />
<text x="577.80" y="747.67" font-size="15" fill="#58595b" text-anchor="end" textLength="15.2" lengthAdjust="spacingAndGlyphs">-20</text>
<line x1="579.00" y1="742.30" x2="581.50" y2="742.30" stroke="#8a8a8a" stroke-width="0.9" />
<line x1="579.00" y1="756.00" x2="581.50" y2="756.00" stroke="#8a8a8a" stroke-width="0.9" />
<text x="600.00" y="775.00" font-size="14" fill="#231f20" text-anchor="middle" textLength="21" lengthAdjust="spacingAndGlyphs">+/+</text>
<text x="658.20" y="775.00" font-size="14" fill="#231f20" text-anchor="middle" textLength="17" lengthAdjust="spacingAndGlyphs">+/-</text>
<text x="709.20" y="775.00" font-size="14" fill="#231f20" text-anchor="middle" textLength="14" lengthAdjust="spacingAndGlyphs">-/-</text>
<text x="306.70" y="819.83" font-size="13.5" fill="#000" text-anchor="middle" font-weight="bold">I</text>
<line x1="386.20" y1="840.70" x2="499.20" y2="840.70" stroke="#5d5d5f" stroke-width="1.1" />
<text x="441.70" y="836.76" font-size="13.3" fill="#231f20" text-anchor="middle" textLength="11.3" lengthAdjust="spacingAndGlyphs">ns</text>
<circle cx="386.82" cy="914.28" r="1.6" fill="#d1d3d4" stroke="#fff" stroke-width="0.3"/>
<circle cx="386.51" cy="929.44" r="1.6" fill="#d1d3d4" stroke="#fff" stroke-width="0.3"/>
<circle cx="388.96" cy="928.09" r="1.6" fill="#d1d3d4" stroke="#fff" stroke-width="0.3"/>
<circle cx="386.59" cy="924.56" r="1.6" fill="#d1d3d4" stroke="#fff" stroke-width="0.3"/>
<circle cx="384.19" cy="926.00" r="1.6" fill="#d1d3d4" stroke="#fff" stroke-width="0.3"/>
<circle cx="386.79" cy="883.42" r="1.6" fill="#d1d3d4" stroke="#fff" stroke-width="0.3"/>
<circle cx="384.59" cy="885.15" r="1.6" fill="#d1d3d4" stroke="#fff" stroke-width="0.3"/>
<circle cx="383.85" cy="930.30" r="1.6" fill="#d1d3d4" stroke="#fff" stroke-width="0.3"/>
<circle cx="386.91" cy="920.36" r="1.6" fill="#d1d3d4" stroke="#fff" stroke-width="0.3"/>
<circle cx="386.94" cy="875.54" r="1.6" fill="#d1d3d4" stroke="#fff" stroke-width="0.3"/>
<circle cx="386.76" cy="897.38" r="1.6" fill="#d1d3d4" stroke="#fff" stroke-width="0.3"/>
<circle cx="386.83" cy="907.04" r="1.6" fill="#d1d3d4" stroke="#fff" stroke-width="0.3"/>
<circle cx="389.70" cy="920.59" r="1.6" fill="#d1d3d4" stroke="#fff" stroke-width="0.3"/>
<circle cx="386.83" cy="911.09" r="1.6" fill="#d1d3d4" stroke="#fff" stroke-width="0.3"/>
<circle cx="384.20" cy="921.04" r="1.6" fill="#d1d3d4" stroke="#fff" stroke-width="0.3"/>
<circle cx="381.50" cy="921.80" r="1.6" fill="#d1d3d4" stroke="#fff" stroke-width="0.3"/>
<circle cx="386.98" cy="889.34" r="1.6" fill="#d1d3d4" stroke="#fff" stroke-width="0.3"/>
<circle cx="389.32" cy="884.63" r="1.6" fill="#d1d3d4" stroke="#fff" stroke-width="0.3"/>
<circle cx="382.37" cy="883.45" r="1.6" fill="#d1d3d4" stroke="#fff" stroke-width="0.3"/>
<circle cx="384.18" cy="875.07" r="1.6" fill="#d1d3d4" stroke="#fff" stroke-width="0.3"/>
<circle cx="385.86" cy="872.83" r="1.6" fill="#d1d3d4" stroke="#fff" stroke-width="0.3"/>
<circle cx="386.57" cy="892.97" r="1.6" fill="#d1d3d4" stroke="#fff" stroke-width="0.3"/>
<circle cx="391.17" cy="922.97" r="1.6" fill="#d1d3d4" stroke="#fff" stroke-width="0.3"/>
<circle cx="386.53" cy="879.83" r="1.6" fill="#d1d3d4" stroke="#fff" stroke-width="0.3"/>
<circle cx="382.53" cy="884.02" r="1.6" fill="#d1d3d4" stroke="#fff" stroke-width="0.3"/>
<circle cx="384.11" cy="907.68" r="1.6" fill="#d1d3d4" stroke="#fff" stroke-width="0.3"/>
<circle cx="386.95" cy="902.41" r="1.6" fill="#d1d3d4" stroke="#fff" stroke-width="0.3"/>
<circle cx="384.55" cy="890.74" r="1.6" fill="#d1d3d4" stroke="#fff" stroke-width="0.3"/>
<circle cx="384.46" cy="901.13" r="1.6" fill="#d1d3d4" stroke="#fff" stroke-width="0.3"/>
<circle cx="388.99" cy="878.49" r="1.6" fill="#d1d3d4" stroke="#fff" stroke-width="0.3"/>
<circle cx="389.64" cy="888.49" r="1.6" fill="#d1d3d4" stroke="#fff" stroke-width="0.3"/>
<circle cx="379.80" cy="924.02" r="1.6" fill="#d1d3d4" stroke="#fff" stroke-width="0.3"/>
<circle cx="389.11" cy="905.41" r="1.6" fill="#d1d3d4" stroke="#fff" stroke-width="0.3"/>
<circle cx="390.10" cy="930.65" r="1.6" fill="#d1d3d4" stroke="#fff" stroke-width="0.3"/>
<circle cx="381.21" cy="929.36" r="1.6" fill="#d1d3d4" stroke="#fff" stroke-width="0.3"/>
<circle cx="391.46" cy="906.94" r="1.6" fill="#d1d3d4" stroke="#fff" stroke-width="0.3"/>
<circle cx="393.02" cy="920.87" r="1.6" fill="#d1d3d4" stroke="#fff" stroke-width="0.3"/>
<circle cx="391.13" cy="926.32" r="1.6" fill="#d1d3d4" stroke="#fff" stroke-width="0.3"/>
<circle cx="384.02" cy="914.26" r="1.6" fill="#d1d3d4" stroke="#fff" stroke-width="0.3"/>
<circle cx="382.24" cy="889.17" r="1.6" fill="#d1d3d4" stroke="#fff" stroke-width="0.3"/>
<circle cx="391.88" cy="890.18" r="1.6" fill="#d1d3d4" stroke="#fff" stroke-width="0.3"/>
<circle cx="394.42" cy="923.29" r="1.6" fill="#d1d3d4" stroke="#fff" stroke-width="0.3"/>
<circle cx="387.50" cy="888.11" r="1.6" fill="#d1d3d4" stroke="#fff" stroke-width="0.3"/>
<circle cx="389.61" cy="914.08" r="1.6" fill="#d1d3d4" stroke="#fff" stroke-width="0.3"/>
<circle cx="387.03" cy="890.07" r="1.6" fill="#d1d3d4" stroke="#fff" stroke-width="0.3"/>
<circle cx="386.73" cy="917.35" r="1.6" fill="#d1d3d4" stroke="#fff" stroke-width="0.3"/>
<circle cx="384.45" cy="877.96" r="1.6" fill="#d1d3d4" stroke="#fff" stroke-width="0.3"/>
<circle cx="377.00" cy="924.08" r="1.6" fill="#d1d3d4" stroke="#fff" stroke-width="0.3"/>
<circle cx="389.72" cy="875.28" r="1.6" fill="#d1d3d4" stroke="#fff" stroke-width="0.3"/>
<circle cx="383.53" cy="883.20" r="1.6" fill="#d1d3d4" stroke="#fff" stroke-width="0.3"/>
<circle cx="389.35" cy="892.58" r="1.6" fill="#d1d3d4" stroke="#fff" stroke-width="0.3"/>
<circle cx="389.43" cy="910.05" r="1.6" fill="#d1d3d4" stroke="#fff" stroke-width="0.3"/>
<circle cx="381.98" cy="912.33" r="1.6" fill="#d1d3d4" stroke="#fff" stroke-width="0.3"/>
<circle cx="382.53" cy="918.79" r="1.6" fill="#d1d3d4" stroke="#fff" stroke-width="0.3"/>
<circle cx="397.13" cy="922.59" r="1.6" fill="#d1d3d4" stroke="#fff" stroke-width="0.3"/>
<circle cx="392.89" cy="930.92" r="1.6" fill="#d1d3d4" stroke="#fff" stroke-width="0.3"/>
<circle cx="381.43" cy="926.49" r="1.6" fill="#d1d3d4" stroke="#fff" stroke-width="0.3"/>
<circle cx="388.65" cy="872.60" r="1.6" fill="#d1d3d4" stroke="#fff" stroke-width="0.3"/>
<circle cx="385.14" cy="904.81" r="1.6" fill="#d1d3d4" stroke="#fff" stroke-width="0.3"/>
<circle cx="378.59" cy="930.35" r="1.6" fill="#d1d3d4" stroke="#fff" stroke-width="0.3"/>
<circle cx="389.43" cy="896.55" r="1.6" fill="#d1d3d4" stroke="#fff" stroke-width="0.3"/>
<circle cx="389.10" cy="900.62" r="1.6" fill="#d1d3d4" stroke="#fff" stroke-width="0.3"/>
<circle cx="387.31" cy="871.55" r="1.6" fill="#d1d3d4" stroke="#fff" stroke-width="0.3"/>
<circle cx="394.18" cy="928.43" r="1.6" fill="#d1d3d4" stroke="#fff" stroke-width="0.3"/>
<circle cx="392.57" cy="921.77" r="1.6" fill="#d1d3d4" stroke="#fff" stroke-width="0.3"/>
<circle cx="380.28" cy="914.56" r="1.6" fill="#d1d3d4" stroke="#fff" stroke-width="0.3"/>
<circle cx="395.93" cy="925.65" r="1.6" fill="#d1d3d4" stroke="#fff" stroke-width="0.3"/>
<circle cx="382.34" cy="904.63" r="1.6" fill="#d1d3d4" stroke="#fff" stroke-width="0.3"/>
<circle cx="390.04" cy="916.85" r="1.6" fill="#d1d3d4" stroke="#fff" stroke-width="0.3"/>
<circle cx="390.73" cy="903.12" r="1.6" fill="#d1d3d4" stroke="#fff" stroke-width="0.3"/>
<circle cx="396.85" cy="929.27" r="1.6" fill="#d1d3d4" stroke="#fff" stroke-width="0.3"/>
<circle cx="384.52" cy="895.70" r="1.6" fill="#d1d3d4" stroke="#fff" stroke-width="0.3"/>
<circle cx="381.68" cy="901.44" r="1.6" fill="#d1d3d4" stroke="#fff" stroke-width="0.3"/>
<circle cx="381.93" cy="909.44" r="1.6" fill="#d1d3d4" stroke="#fff" stroke-width="0.3"/>
<circle cx="392.68" cy="915.91" r="1.6" fill="#d1d3d4" stroke="#fff" stroke-width="0.3"/>
<circle cx="375.84" cy="930.91" r="1.6" fill="#d1d3d4" stroke="#fff" stroke-width="0.3"/>
<circle cx="385.11" cy="879.76" r="1.6" fill="#d1d3d4" stroke="#fff" stroke-width="0.3"/>
<circle cx="388.75" cy="876.41" r="1.6" fill="#d1d3d4" stroke="#fff" stroke-width="0.3"/>
<circle cx="384.80" cy="929.14" r="1.6" fill="#d1d3d4" stroke="#fff" stroke-width="0.3"/>
<circle cx="395.67" cy="921.77" r="1.6" fill="#d1d3d4" stroke="#fff" stroke-width="0.3"/>
<circle cx="393.23" cy="902.71" r="1.6" fill="#d1d3d4" stroke="#fff" stroke-width="0.3"/>
<circle cx="388.32" cy="871.06" r="1.6" fill="#d1d3d4" stroke="#fff" stroke-width="0.3"/>
<circle cx="391.90" cy="911.36" r="1.6" fill="#d1d3d4" stroke="#fff" stroke-width="0.3"/>
<circle cx="392.38" cy="931.54" r="1.6" fill="#d1d3d4" stroke="#fff" stroke-width="0.3"/>
<circle cx="388.05" cy="901.94" r="1.6" fill="#d1d3d4" stroke="#fff" stroke-width="0.3"/>
<circle cx="390.82" cy="880.61" r="1.6" fill="#d1d3d4" stroke="#fff" stroke-width="0.3"/>
<circle cx="393.67" cy="908.66" r="1.6" fill="#d1d3d4" stroke="#fff" stroke-width="0.3"/>
<circle cx="386.02" cy="881.37" r="1.6" fill="#d1d3d4" stroke="#fff" stroke-width="0.3"/>
<circle cx="379.06" cy="920.42" r="1.6" fill="#d1d3d4" stroke="#fff" stroke-width="0.3"/>
<circle cx="376.26" cy="920.40" r="1.6" fill="#d1d3d4" stroke="#fff" stroke-width="0.3"/>
<circle cx="386.70" cy="847.00" r="1.6" fill="#d1d3d4" stroke="#fff" stroke-width="0.3"/>
<circle cx="442.40" cy="903.85" r="1.7" fill="#27aae1" stroke="#fff" stroke-width="0.25"/>
<circle cx="440.13" cy="903.51" r="1.7" fill="#27aae1" stroke="#fff" stroke-width="0.25"/>
<circle cx="442.25" cy="915.51" r="1.7" fill="#27aae1" stroke="#fff" stroke-width="0.25"/>
<circle cx="444.70" cy="903.92" r="1.7" fill="#27aae1" stroke="#fff" stroke-width="0.25"/>
<circle cx="442.15" cy="908.45" r="1.7" fill="#27aae1" stroke="#fff" stroke-width="0.25"/>
<circle cx="444.35" cy="907.80" r="1.7" fill="#27aae1" stroke="#fff" stroke-width="0.25"/>
<circle cx="442.09" cy="927.38" r="1.7" fill="#27aae1" stroke="#fff" stroke-width="0.25"/>
<circle cx="442.14" cy="889.65" r="1.7" fill="#27aae1" stroke="#fff" stroke-width="0.25"/>
<circle cx="442.13" cy="881.35" r="1.7" fill="#27aae1" stroke="#fff" stroke-width="0.25"/>
<circle cx="441.96" cy="911.29" r="1.7" fill="#27aae1" stroke="#fff" stroke-width="0.25"/>
<circle cx="442.22" cy="922.01" r="1.7" fill="#27aae1" stroke="#fff" stroke-width="0.25"/>
<circle cx="444.55" cy="915.48" r="1.7" fill="#27aae1" stroke="#fff" stroke-width="0.25"/>
<circle cx="441.97" cy="931.15" r="1.7" fill="#27aae1" stroke="#fff" stroke-width="0.25"/>
<circle cx="438.30" cy="904.90" r="1.7" fill="#27aae1" stroke="#fff" stroke-width="0.25"/>
<circle cx="443.83" cy="925.88" r="1.7" fill="#27aae1" stroke="#fff" stroke-width="0.25"/>
<circle cx="443.81" cy="929.76" r="1.7" fill="#27aae1" stroke="#fff" stroke-width="0.25"/>
<circle cx="439.71" cy="931.56" r="1.7" fill="#27aae1" stroke="#fff" stroke-width="0.25"/>
<circle cx="441.73" cy="917.76" r="1.7" fill="#27aae1" stroke="#fff" stroke-width="0.25"/>
<circle cx="445.87" cy="930.79" r="1.7" fill="#27aae1" stroke="#fff" stroke-width="0.25"/>
<circle cx="443.91" cy="910.08" r="1.7" fill="#27aae1" stroke="#fff" stroke-width="0.25"/>
<circle cx="440.04" cy="914.86" r="1.7" fill="#27aae1" stroke="#fff" stroke-width="0.25"/>
<circle cx="440.07" cy="922.83" r="1.7" fill="#27aae1" stroke="#fff" stroke-width="0.25"/>
<circle cx="444.52" cy="922.02" r="1.7" fill="#27aae1" stroke="#fff" stroke-width="0.25"/>
<circle cx="439.88" cy="889.20" r="1.7" fill="#27aae1" stroke="#fff" stroke-width="0.25"/>
<circle cx="441.69" cy="901.66" r="1.7" fill="#27aae1" stroke="#fff" stroke-width="0.25"/>
<circle cx="442.01" cy="899.06" r="1.7" fill="#27aae1" stroke="#fff" stroke-width="0.25"/>
<circle cx="441.92" cy="886.29" r="1.7" fill="#27aae1" stroke="#fff" stroke-width="0.25"/>
<circle cx="442.40" cy="895.25" r="1.7" fill="#27aae1" stroke="#fff" stroke-width="0.25"/>
<circle cx="438.08" cy="913.65" r="1.7" fill="#27aae1" stroke="#fff" stroke-width="0.25"/>
<circle cx="443.33" cy="913.14" r="1.7" fill="#27aae1" stroke="#fff" stroke-width="0.25"/>
<circle cx="438.66" cy="921.01" r="1.7" fill="#27aae1" stroke="#fff" stroke-width="0.25"/>
<circle cx="446.65" cy="922.90" r="1.7" fill="#27aae1" stroke="#fff" stroke-width="0.25"/>
<circle cx="446.46" cy="914.20" r="1.7" fill="#27aae1" stroke="#fff" stroke-width="0.25"/>
<circle cx="446.05" cy="920.30" r="1.7" fill="#27aae1" stroke="#fff" stroke-width="0.25"/>
<circle cx="447.00" cy="903.86" r="1.7" fill="#27aae1" stroke="#fff" stroke-width="0.25"/>
<circle cx="441.86" cy="924.70" r="1.7" fill="#27aae1" stroke="#fff" stroke-width="0.25"/>
<circle cx="439.91" cy="907.92" r="1.7" fill="#27aae1" stroke="#fff" stroke-width="0.25"/>
<circle cx="437.82" cy="923.32" r="1.7" fill="#27aae1" stroke="#fff" stroke-width="0.25"/>
<circle cx="441.93" cy="876.56" r="1.7" fill="#27aae1" stroke="#fff" stroke-width="0.25"/>
<circle cx="437.26" cy="915.80" r="1.7" fill="#27aae1" stroke="#fff" stroke-width="0.25"/>
<circle cx="439.73" cy="911.86" r="1.7" fill="#27aae1" stroke="#fff" stroke-width="0.25"/>
<circle cx="439.99" cy="926.45" r="1.7" fill="#27aae1" stroke="#fff" stroke-width="0.25"/>
<circle cx="436.04" cy="904.49" r="1.7" fill="#27aae1" stroke="#fff" stroke-width="0.25"/>
<circle cx="440.46" cy="929.00" r="1.7" fill="#27aae1" stroke="#fff" stroke-width="0.25"/>
<circle cx="445.78" cy="911.42" r="1.7" fill="#27aae1" stroke="#fff" stroke-width="0.25"/>
<circle cx="444.03" cy="917.83" r="1.7" fill="#27aae1" stroke="#fff" stroke-width="0.25"/>
<circle cx="443.79" cy="897.60" r="1.7" fill="#27aae1" stroke="#fff" stroke-width="0.25"/>
<circle cx="446.46" cy="908.72" r="1.7" fill="#27aae1" stroke="#fff" stroke-width="0.25"/>
<circle cx="439.55" cy="918.48" r="1.7" fill="#27aae1" stroke="#fff" stroke-width="0.25"/>
<circle cx="436.00" cy="912.69" r="1.7" fill="#27aae1" stroke="#fff" stroke-width="0.25"/>
<circle cx="436.25" cy="921.65" r="1.7" fill="#27aae1" stroke="#fff" stroke-width="0.25"/>
<circle cx="447.95" cy="912.19" r="1.7" fill="#27aae1" stroke="#fff" stroke-width="0.25"/>
<circle cx="448.21" cy="921.08" r="1.7" fill="#27aae1" stroke="#fff" stroke-width="0.25"/>
<circle cx="437.12" cy="919.30" r="1.7" fill="#27aae1" stroke="#fff" stroke-width="0.25"/>
<circle cx="445.71" cy="928.47" r="1.7" fill="#27aae1" stroke="#fff" stroke-width="0.25"/>
<circle cx="447.56" cy="925.01" r="1.7" fill="#27aae1" stroke="#fff" stroke-width="0.25"/>
<circle cx="437.72" cy="926.06" r="1.7" fill="#27aae1" stroke="#fff" stroke-width="0.25"/>
<circle cx="433.80" cy="912.02" r="1.7" fill="#27aae1" stroke="#fff" stroke-width="0.25"/>
<circle cx="442.45" cy="892.86" r="1.7" fill="#27aae1" stroke="#fff" stroke-width="0.25"/>
<circle cx="443.89" cy="887.48" r="1.7" fill="#27aae1" stroke="#fff" stroke-width="0.25"/>
<circle cx="442.79" cy="874.43" r="1.7" fill="#27aae1" stroke="#fff" stroke-width="0.25"/>
<circle cx="448.47" cy="915.32" r="1.7" fill="#27aae1" stroke="#fff" stroke-width="0.25"/>
<circle cx="444.42" cy="881.14" r="1.7" fill="#27aae1" stroke="#fff" stroke-width="0.25"/>
<circle cx="450.16" cy="922.31" r="1.7" fill="#27aae1" stroke="#fff" stroke-width="0.25"/>
<circle cx="446.16" cy="906.37" r="1.7" fill="#27aae1" stroke="#fff" stroke-width="0.25"/>
<circle cx="443.73" cy="884.87" r="1.7" fill="#27aae1" stroke="#fff" stroke-width="0.25"/>
<circle cx="446.32" cy="917.60" r="1.7" fill="#27aae1" stroke="#fff" stroke-width="0.25"/>
<circle cx="434.32" cy="920.39" r="1.7" fill="#27aae1" stroke="#fff" stroke-width="0.25"/>
<circle cx="440.10" cy="897.77" r="1.7" fill="#27aae1" stroke="#fff" stroke-width="0.25"/>
<circle cx="449.77" cy="919.38" r="1.7" fill="#27aae1" stroke="#fff" stroke-width="0.25"/>
<circle cx="432.14" cy="921.12" r="1.7" fill="#27aae1" stroke="#fff" stroke-width="0.25"/>
<circle cx="438.17" cy="929.23" r="1.7" fill="#27aae1" stroke="#fff" stroke-width="0.25"/>
<circle cx="435.59" cy="923.87" r="1.7" fill="#27aae1" stroke="#fff" stroke-width="0.25"/>
<circle cx="439.65" cy="886.66" r="1.7" fill="#27aae1" stroke="#fff" stroke-width="0.25"/>
<circle cx="438.08" cy="909.31" r="1.7" fill="#27aae1" stroke="#fff" stroke-width="0.25"/>
<circle cx="442.47" cy="864.04" r="1.7" fill="#27aae1" stroke="#fff" stroke-width="0.25"/>
<circle cx="449.83" cy="924.63" r="1.7" fill="#27aae1" stroke="#fff" stroke-width="0.25"/>
<circle cx="445.93" cy="885.53" r="1.7" fill="#27aae1" stroke="#fff" stroke-width="0.25"/>
<circle cx="450.04" cy="911.23" r="1.7" fill="#27aae1" stroke="#fff" stroke-width="0.25"/>
<circle cx="441.38" cy="905.91" r="1.7" fill="#27aae1" stroke="#fff" stroke-width="0.25"/>
<circle cx="438.92" cy="895.80" r="1.7" fill="#27aae1" stroke="#fff" stroke-width="0.25"/>
<circle cx="435.48" cy="917.69" r="1.7" fill="#27aae1" stroke="#fff" stroke-width="0.25"/>
<circle cx="452.06" cy="919.49" r="1.7" fill="#27aae1" stroke="#fff" stroke-width="0.25"/>
<circle cx="449.07" cy="904.86" r="1.7" fill="#27aae1" stroke="#fff" stroke-width="0.25"/>
<circle cx="433.55" cy="924.93" r="1.7" fill="#27aae1" stroke="#fff" stroke-width="0.25"/>
<circle cx="445.53" cy="896.09" r="1.7" fill="#27aae1" stroke="#fff" stroke-width="0.25"/>
<circle cx="447.79" cy="929.44" r="1.7" fill="#27aae1" stroke="#fff" stroke-width="0.25"/>
<circle cx="453.70" cy="921.11" r="1.7" fill="#27aae1" stroke="#fff" stroke-width="0.25"/>
<circle cx="443.76" cy="900.65" r="1.7" fill="#27aae1" stroke="#fff" stroke-width="0.25"/>
<circle cx="430.72" cy="919.31" r="1.7" fill="#27aae1" stroke="#fff" stroke-width="0.25"/>
<circle cx="435.88" cy="908.62" r="1.7" fill="#27aae1" stroke="#fff" stroke-width="0.25"/>
<circle cx="448.33" cy="927.18" r="1.7" fill="#27aae1" stroke="#fff" stroke-width="0.25"/>
<circle cx="448.93" cy="918.73" r="1.7" fill="#27aae1" stroke="#fff" stroke-width="0.25"/>
<circle cx="451.93" cy="925.57" r="1.7" fill="#27aae1" stroke="#fff" stroke-width="0.25"/>
<circle cx="441.06" cy="862.22" r="1.7" fill="#27aae1" stroke="#fff" stroke-width="0.25"/>
<circle cx="450.50" cy="914.24" r="1.7" fill="#27aae1" stroke="#fff" stroke-width="0.25"/>
<circle cx="445.96" cy="919.16" r="1.7" fill="#27aae1" stroke="#fff" stroke-width="0.25"/>
<circle cx="448.74" cy="908.39" r="1.7" fill="#27aae1" stroke="#fff" stroke-width="0.25"/>
<circle cx="441.63" cy="883.94" r="1.7" fill="#27aae1" stroke="#fff" stroke-width="0.25"/>
<circle cx="445.79" cy="886.22" r="1.7" fill="#27aae1" stroke="#fff" stroke-width="0.25"/>
<circle cx="438.72" cy="896.50" r="1.7" fill="#27aae1" stroke="#fff" stroke-width="0.25"/>
<circle cx="431.61" cy="923.70" r="1.7" fill="#27aae1" stroke="#fff" stroke-width="0.25"/>
<circle cx="451.71" cy="920.72" r="1.7" fill="#27aae1" stroke="#fff" stroke-width="0.25"/>
<circle cx="452.06" cy="912.33" r="1.7" fill="#27aae1" stroke="#fff" stroke-width="0.25"/>
<circle cx="433.36" cy="909.76" r="1.7" fill="#27aae1" stroke="#fff" stroke-width="0.25"/>
<circle cx="441.18" cy="894.93" r="1.7" fill="#27aae1" stroke="#fff" stroke-width="0.25"/>
<circle cx="434.12" cy="915.83" r="1.7" fill="#27aae1" stroke="#fff" stroke-width="0.25"/>
<circle cx="444.33" cy="921.63" r="1.7" fill="#27aae1" stroke="#fff" stroke-width="0.25"/>
<circle cx="439.34" cy="883.72" r="1.7" fill="#27aae1" stroke="#fff" stroke-width="0.25"/>
<circle cx="434.60" cy="907.61" r="1.7" fill="#27aae1" stroke="#fff" stroke-width="0.25"/>
<circle cx="450.34" cy="916.92" r="1.7" fill="#27aae1" stroke="#fff" stroke-width="0.25"/>
<circle cx="436.25" cy="927.83" r="1.7" fill="#27aae1" stroke="#fff" stroke-width="0.25"/>
<circle cx="451.14" cy="912.21" r="1.7" fill="#27aae1" stroke="#fff" stroke-width="0.25"/>
<circle cx="434.35" cy="929.11" r="1.7" fill="#27aae1" stroke="#fff" stroke-width="0.25"/>
<circle cx="437.42" cy="931.82" r="1.7" fill="#27aae1" stroke="#fff" stroke-width="0.25"/>
<circle cx="439.75" cy="922.58" r="1.7" fill="#27aae1" stroke="#fff" stroke-width="0.25"/>
<circle cx="449.07" cy="921.05" r="1.7" fill="#27aae1" stroke="#fff" stroke-width="0.25"/>
<circle cx="432.34" cy="921.64" r="1.7" fill="#27aae1" stroke="#fff" stroke-width="0.25"/>
<circle cx="450.08" cy="929.71" r="1.7" fill="#27aae1" stroke="#fff" stroke-width="0.25"/>
<circle cx="452.64" cy="923.15" r="1.7" fill="#27aae1" stroke="#fff" stroke-width="0.25"/>
<circle cx="445.67" cy="899.38" r="1.7" fill="#27aae1" stroke="#fff" stroke-width="0.25"/>
<circle cx="432.33" cy="913.79" r="1.7" fill="#27aae1" stroke="#fff" stroke-width="0.25"/>
<circle cx="442.34" cy="869.89" r="1.7" fill="#27aae1" stroke="#fff" stroke-width="0.25"/>
<circle cx="432.53" cy="917.49" r="1.7" fill="#27aae1" stroke="#fff" stroke-width="0.25"/>
<circle cx="452.63" cy="917.19" r="1.7" fill="#27aae1" stroke="#fff" stroke-width="0.25"/>
<circle cx="451.74" cy="918.30" r="1.7" fill="#27aae1" stroke="#fff" stroke-width="0.25"/>
<circle cx="432.42" cy="930.36" r="1.7" fill="#27aae1" stroke="#fff" stroke-width="0.25"/>
<circle cx="446.03" cy="920.63" r="1.7" fill="#27aae1" stroke="#fff" stroke-width="0.25"/>
<circle cx="439.53" cy="909.43" r="1.7" fill="#27aae1" stroke="#fff" stroke-width="0.25"/>
<circle cx="442.51" cy="885.24" r="1.7" fill="#27aae1" stroke="#fff" stroke-width="0.25"/>
<circle cx="444.61" cy="893.66" r="1.7" fill="#27aae1" stroke="#fff" stroke-width="0.25"/>
<circle cx="434.42" cy="922.40" r="1.7" fill="#27aae1" stroke="#fff" stroke-width="0.25"/>
<circle cx="437.48" cy="905.81" r="1.7" fill="#27aae1" stroke="#fff" stroke-width="0.25"/>
<circle cx="451.05" cy="920.55" r="1.7" fill="#27aae1" stroke="#fff" stroke-width="0.25"/>
<circle cx="441.49" cy="915.85" r="1.7" fill="#27aae1" stroke="#fff" stroke-width="0.25"/>
<circle cx="433.14" cy="918.10" r="1.7" fill="#27aae1" stroke="#fff" stroke-width="0.25"/>
<circle cx="452.30" cy="929.12" r="1.7" fill="#27aae1" stroke="#fff" stroke-width="0.25"/>
<circle cx="438.12" cy="909.68" r="1.7" fill="#27aae1" stroke="#fff" stroke-width="0.25"/>
<circle cx="433.94" cy="923.21" r="1.7" fill="#27aae1" stroke="#fff" stroke-width="0.25"/>
<circle cx="452.16" cy="920.68" r="1.7" fill="#27aae1" stroke="#fff" stroke-width="0.25"/>
<circle cx="437.60" cy="911.03" r="1.7" fill="#27aae1" stroke="#fff" stroke-width="0.25"/>
<circle cx="450.40" cy="928.77" r="1.7" fill="#27aae1" stroke="#fff" stroke-width="0.25"/>
<circle cx="451.02" cy="908.64" r="1.7" fill="#27aae1" stroke="#fff" stroke-width="0.25"/>
<circle cx="432.80" cy="912.83" r="1.7" fill="#27aae1" stroke="#fff" stroke-width="0.25"/>
<circle cx="434.60" cy="919.69" r="1.7" fill="#27aae1" stroke="#fff" stroke-width="0.25"/>
<circle cx="448.32" cy="909.47" r="1.7" fill="#27aae1" stroke="#fff" stroke-width="0.25"/>
<circle cx="445.81" cy="888.75" r="1.7" fill="#27aae1" stroke="#fff" stroke-width="0.25"/>
<circle cx="440.23" cy="892.24" r="1.7" fill="#27aae1" stroke="#fff" stroke-width="0.25"/>
<circle cx="444.22" cy="929.75" r="1.7" fill="#27aae1" stroke="#fff" stroke-width="0.25"/>
<circle cx="437.29" cy="924.56" r="1.7" fill="#27aae1" stroke="#fff" stroke-width="0.25"/>
<circle cx="449.15" cy="916.42" r="1.7" fill="#27aae1" stroke="#fff" stroke-width="0.25"/>
<circle cx="435.12" cy="924.41" r="1.7" fill="#27aae1" stroke="#fff" stroke-width="0.25"/>
<circle cx="442.00" cy="863.16" r="1.7" fill="#27aae1" stroke="#fff" stroke-width="0.25"/>
<circle cx="433.14" cy="929.90" r="1.7" fill="#27aae1" stroke="#fff" stroke-width="0.25"/>
<circle cx="448.36" cy="916.00" r="1.7" fill="#27aae1" stroke="#fff" stroke-width="0.25"/>
<circle cx="442.83" cy="865.51" r="1.7" fill="#27aae1" stroke="#fff" stroke-width="0.25"/>
<circle cx="440.50" cy="874.64" r="1.7" fill="#27aae1" stroke="#fff" stroke-width="0.25"/>
<circle cx="434.77" cy="930.01" r="1.7" fill="#27aae1" stroke="#fff" stroke-width="0.25"/>
<circle cx="437.56" cy="925.61" r="1.7" fill="#27aae1" stroke="#fff" stroke-width="0.25"/>
<circle cx="440.23" cy="903.96" r="1.7" fill="#27aae1" stroke="#fff" stroke-width="0.25"/>
<circle cx="440.77" cy="930.32" r="1.7" fill="#27aae1" stroke="#fff" stroke-width="0.25"/>
<circle cx="434.38" cy="906.84" r="1.7" fill="#27aae1" stroke="#fff" stroke-width="0.25"/>
<circle cx="439.16" cy="928.27" r="1.7" fill="#27aae1" stroke="#fff" stroke-width="0.25"/>
<circle cx="444.03" cy="914.07" r="1.7" fill="#27aae1" stroke="#fff" stroke-width="0.25"/>
<circle cx="443.14" cy="883.77" r="1.7" fill="#27aae1" stroke="#fff" stroke-width="0.25"/>
<circle cx="446.76" cy="913.39" r="1.7" fill="#27aae1" stroke="#fff" stroke-width="0.25"/>
<circle cx="447.85" cy="931.90" r="1.7" fill="#27aae1" stroke="#fff" stroke-width="0.25"/>
<circle cx="443.70" cy="861.61" r="1.7" fill="#27aae1" stroke="#fff" stroke-width="0.25"/>
<circle cx="442.28" cy="929.83" r="1.7" fill="#27aae1" stroke="#fff" stroke-width="0.25"/>
<circle cx="440.60" cy="920.29" r="1.7" fill="#27aae1" stroke="#fff" stroke-width="0.25"/>
<circle cx="447.56" cy="897.16" r="1.7" fill="#27aae1" stroke="#fff" stroke-width="0.25"/>
<circle cx="441.44" cy="921.93" r="1.7" fill="#27aae1" stroke="#fff" stroke-width="0.25"/>
<circle cx="440.82" cy="895.38" r="1.7" fill="#27aae1" stroke="#fff" stroke-width="0.25"/>
<circle cx="439.63" cy="885.79" r="1.7" fill="#27aae1" stroke="#fff" stroke-width="0.25"/>
<circle cx="453.16" cy="916.09" r="1.7" fill="#27aae1" stroke="#fff" stroke-width="0.25"/>
<circle cx="444.46" cy="907.13" r="1.7" fill="#27aae1" stroke="#fff" stroke-width="0.25"/>
<circle cx="440.27" cy="880.00" r="1.7" fill="#27aae1" stroke="#fff" stroke-width="0.25"/>
<circle cx="440.88" cy="918.21" r="1.7" fill="#27aae1" stroke="#fff" stroke-width="0.25"/>
<circle cx="441.78" cy="889.86" r="1.7" fill="#27aae1" stroke="#fff" stroke-width="0.25"/>
<circle cx="440.21" cy="916.52" r="1.7" fill="#27aae1" stroke="#fff" stroke-width="0.25"/>
<circle cx="497.12" cy="927.81" r="1.6" fill="#db3f9b" stroke="#fff" stroke-width="0.3"/>
<circle cx="497.42" cy="913.53" r="1.6" fill="#db3f9b" stroke="#fff" stroke-width="0.3"/>
<circle cx="497.24" cy="882.76" r="1.6" fill="#db3f9b" stroke="#fff" stroke-width="0.3"/>
<circle cx="497.24" cy="872.48" r="1.6" fill="#db3f9b" stroke="#fff" stroke-width="0.3"/>
<circle cx="497.05" cy="889.07" r="1.6" fill="#db3f9b" stroke="#fff" stroke-width="0.3"/>
<circle cx="497.28" cy="901.76" r="1.6" fill="#db3f9b" stroke="#fff" stroke-width="0.3"/>
<circle cx="498.19" cy="925.11" r="1.6" fill="#db3f9b" stroke="#fff" stroke-width="0.3"/>
<circle cx="497.24" cy="897.95" r="1.6" fill="#db3f9b" stroke="#fff" stroke-width="0.3"/>
<circle cx="497.56" cy="918.71" r="1.6" fill="#db3f9b" stroke="#fff" stroke-width="0.3"/>
<circle cx="495.19" cy="920.37" r="1.6" fill="#db3f9b" stroke="#fff" stroke-width="0.3"/>
<circle cx="494.99" cy="917.37" r="1.6" fill="#db3f9b" stroke="#fff" stroke-width="0.3"/>
<circle cx="494.23" cy="889.73" r="1.6" fill="#db3f9b" stroke="#fff" stroke-width="0.3"/>
<circle cx="500.46" cy="918.91" r="1.6" fill="#db3f9b" stroke="#fff" stroke-width="0.3"/>
<circle cx="492.33" cy="920.89" r="1.6" fill="#db3f9b" stroke="#fff" stroke-width="0.3"/>
<circle cx="497.52" cy="905.94" r="1.6" fill="#db3f9b" stroke="#fff" stroke-width="0.3"/>
<circle cx="499.97" cy="914.92" r="1.6" fill="#db3f9b" stroke="#fff" stroke-width="0.3"/>
<circle cx="494.78" cy="926.09" r="1.6" fill="#db3f9b" stroke="#fff" stroke-width="0.3"/>
<circle cx="499.89" cy="904.27" r="1.6" fill="#db3f9b" stroke="#fff" stroke-width="0.3"/>
<circle cx="494.93" cy="904.63" r="1.6" fill="#db3f9b" stroke="#fff" stroke-width="0.3"/>
<circle cx="494.34" cy="898.08" r="1.6" fill="#db3f9b" stroke="#fff" stroke-width="0.3"/>
<circle cx="502.95" cy="920.38" r="1.6" fill="#db3f9b" stroke="#fff" stroke-width="0.3"/>
<circle cx="497.53" cy="909.79" r="1.6" fill="#db3f9b" stroke="#fff" stroke-width="0.3"/>
<circle cx="495.34" cy="907.89" r="1.6" fill="#db3f9b" stroke="#fff" stroke-width="0.3"/>
<circle cx="500.41" cy="910.11" r="1.6" fill="#db3f9b" stroke="#fff" stroke-width="0.3"/>
<circle cx="501.08" cy="925.20" r="1.6" fill="#db3f9b" stroke="#fff" stroke-width="0.3"/>
<circle cx="489.95" cy="919.23" r="1.6" fill="#db3f9b" stroke="#fff" stroke-width="0.3"/>
<circle cx="499.50" cy="899.76" r="1.6" fill="#db3f9b" stroke="#fff" stroke-width="0.3"/>
<circle cx="497.11" cy="893.92" r="1.6" fill="#db3f9b" stroke="#fff" stroke-width="0.3"/>
<circle cx="498.16" cy="880.01" r="1.6" fill="#db3f9b" stroke="#fff" stroke-width="0.3"/>
<circle cx="491.93" cy="925.58" r="1.6" fill="#db3f9b" stroke="#fff" stroke-width="0.3"/>
<circle cx="497.23" cy="875.38" r="1.6" fill="#db3f9b" stroke="#fff" stroke-width="0.3"/>
<circle cx="499.97" cy="928.35" r="1.6" fill="#db3f9b" stroke="#fff" stroke-width="0.3"/>
<circle cx="494.54" cy="913.83" r="1.6" fill="#db3f9b" stroke="#fff" stroke-width="0.3"/>
<circle cx="497.10" cy="931.90" r="1.6" fill="#db3f9b" stroke="#fff" stroke-width="0.3"/>
<circle cx="501.98" cy="912.55" r="1.6" fill="#db3f9b" stroke="#fff" stroke-width="0.3"/>
<circle cx="491.81" cy="912.84" r="1.6" fill="#db3f9b" stroke="#fff" stroke-width="0.3"/>
<circle cx="500.01" cy="876.22" r="1.6" fill="#db3f9b" stroke="#fff" stroke-width="0.3"/>
<circle cx="500.01" cy="893.77" r="1.6" fill="#db3f9b" stroke="#fff" stroke-width="0.3"/>
<circle cx="502.83" cy="915.39" r="1.6" fill="#db3f9b" stroke="#fff" stroke-width="0.3"/>
<circle cx="492.17" cy="903.75" r="1.6" fill="#db3f9b" stroke="#fff" stroke-width="0.3"/>
<circle cx="492.83" cy="909.35" r="1.6" fill="#db3f9b" stroke="#fff" stroke-width="0.3"/>
<circle cx="497.53" cy="922.08" r="1.6" fill="#db3f9b" stroke="#fff" stroke-width="0.3"/>
<circle cx="493.17" cy="900.73" r="1.6" fill="#db3f9b" stroke="#fff" stroke-width="0.3"/>
<circle cx="505.25" cy="913.79" r="1.6" fill="#db3f9b" stroke="#fff" stroke-width="0.3"/>
<circle cx="497.03" cy="885.79" r="1.6" fill="#db3f9b" stroke="#fff" stroke-width="0.3"/>
<circle cx="499.95" cy="889.15" r="1.6" fill="#db3f9b" stroke="#fff" stroke-width="0.3"/>
<circle cx="492.37" cy="915.76" r="1.6" fill="#db3f9b" stroke="#fff" stroke-width="0.3"/>
<circle cx="505.82" cy="919.95" r="1.6" fill="#db3f9b" stroke="#fff" stroke-width="0.3"/>
<circle cx="494.66" cy="876.74" r="1.6" fill="#db3f9b" stroke="#fff" stroke-width="0.3"/>
<circle cx="499.99" cy="931.90" r="1.6" fill="#db3f9b" stroke="#fff" stroke-width="0.3"/>
<circle cx="487.20" cy="920.15" r="1.6" fill="#db3f9b" stroke="#fff" stroke-width="0.3"/>
<circle cx="489.27" cy="911.45" r="1.6" fill="#db3f9b" stroke="#fff" stroke-width="0.3"/>
<circle cx="494.39" cy="931.08" r="1.6" fill="#db3f9b" stroke="#fff" stroke-width="0.3"/>
<circle cx="502.34" cy="902.72" r="1.6" fill="#db3f9b" stroke="#fff" stroke-width="0.3"/>
<circle cx="501.25" cy="897.45" r="1.6" fill="#db3f9b" stroke="#fff" stroke-width="0.3"/>
<circle cx="506.75" cy="911.30" r="1.6" fill="#db3f9b" stroke="#fff" stroke-width="0.3"/>
<circle cx="503.13" cy="909.12" r="1.6" fill="#db3f9b" stroke="#fff" stroke-width="0.3"/>
<circle cx="486.66" cy="910.17" r="1.6" fill="#db3f9b" stroke="#fff" stroke-width="0.3"/>
<circle cx="504.28" cy="904.88" r="1.6" fill="#db3f9b" stroke="#fff" stroke-width="0.3"/>
<circle cx="489.47" cy="914.55" r="1.6" fill="#db3f9b" stroke="#fff" stroke-width="0.3"/>
<circle cx="503.88" cy="925.96" r="1.6" fill="#db3f9b" stroke="#fff" stroke-width="0.3"/>
<circle cx="504.59" cy="900.89" r="1.6" fill="#db3f9b" stroke="#fff" stroke-width="0.3"/>
<circle cx="490.78" cy="899.09" r="1.6" fill="#db3f9b" stroke="#fff" stroke-width="0.3"/>
<circle cx="489.09" cy="926.20" r="1.6" fill="#db3f9b" stroke="#fff" stroke-width="0.3"/>
<circle cx="486.90" cy="913.20" r="1.6" fill="#db3f9b" stroke="#fff" stroke-width="0.3"/>
<circle cx="507.07" cy="912.88" r="1.6" fill="#db3f9b" stroke="#fff" stroke-width="0.3"/>
<circle cx="508.14" cy="921.69" r="1.6" fill="#db3f9b" stroke="#fff" stroke-width="0.3"/>
<circle cx="500.05" cy="886.25" r="1.6" fill="#db3f9b" stroke="#fff" stroke-width="0.3"/>
<circle cx="496.03" cy="919.58" r="1.6" fill="#db3f9b" stroke="#fff" stroke-width="0.3"/>
<circle cx="497.23" cy="874.60" r="1.6" fill="#db3f9b" stroke="#fff" stroke-width="0.3"/>
<circle cx="487.44" cy="911.42" r="1.6" fill="#db3f9b" stroke="#fff" stroke-width="0.3"/>
<circle cx="502.44" cy="920.20" r="1.6" fill="#db3f9b" stroke="#fff" stroke-width="0.3"/>
<circle cx="496.37" cy="877.68" r="1.6" fill="#db3f9b" stroke="#fff" stroke-width="0.3"/>
<circle cx="493.02" cy="928.39" r="1.6" fill="#db3f9b" stroke="#fff" stroke-width="0.3"/>
<circle cx="493.45" cy="909.06" r="1.6" fill="#db3f9b" stroke="#fff" stroke-width="0.3"/>
<circle cx="506.62" cy="916.34" r="1.6" fill="#db3f9b" stroke="#fff" stroke-width="0.3"/>
<circle cx="501.79" cy="887.94" r="1.6" fill="#db3f9b" stroke="#fff" stroke-width="0.3"/>
<circle cx="494.42" cy="895.00" r="1.6" fill="#db3f9b" stroke="#fff" stroke-width="0.3"/>
<circle cx="494.42" cy="884.52" r="1.6" fill="#db3f9b" stroke="#fff" stroke-width="0.3"/>
<circle cx="506.34" cy="924.42" r="1.6" fill="#db3f9b" stroke="#fff" stroke-width="0.3"/>
<circle cx="498.17" cy="900.67" r="1.6" fill="#db3f9b" stroke="#fff" stroke-width="0.3"/>
<circle cx="496.64" cy="873.38" r="1.6" fill="#db3f9b" stroke="#fff" stroke-width="0.3"/>
<circle cx="492.22" cy="887.64" r="1.6" fill="#db3f9b" stroke="#fff" stroke-width="0.3"/>
<circle cx="487.90" cy="917.18" r="1.6" fill="#db3f9b" stroke="#fff" stroke-width="0.3"/>
<circle cx="490.02" cy="905.70" r="1.6" fill="#db3f9b" stroke="#fff" stroke-width="0.3"/>
<circle cx="491.52" cy="931.50" r="1.6" fill="#db3f9b" stroke="#fff" stroke-width="0.3"/>
<circle cx="506.25" cy="927.63" r="1.6" fill="#db3f9b" stroke="#fff" stroke-width="0.3"/>
<circle cx="493.07" cy="920.87" r="1.6" fill="#db3f9b" stroke="#fff" stroke-width="0.3"/>
<circle cx="502.67" cy="929.39" r="1.6" fill="#db3f9b" stroke="#fff" stroke-width="0.3"/>
<circle cx="491.90" cy="915.12" r="1.6" fill="#db3f9b" stroke="#fff" stroke-width="0.3"/>
<circle cx="499.30" cy="847.00" r="1.6" fill="#db3f9b" stroke="#fff" stroke-width="0.3"/>
<circle cx="496.30" cy="854.00" r="1.6" fill="#db3f9b" stroke="#fff" stroke-width="0.3"/>
<line x1="367.50" y1="909.40" x2="519.40" y2="909.40" stroke="#808285" stroke-width="1.0" stroke-dasharray="12.8 8.6"/>
<line x1="386.70" y1="904.80" x2="386.70" y2="912.80" stroke="#231f20" stroke-width="1.5" />
<line x1="385.00" y1="904.80" x2="388.40" y2="904.80" stroke="#231f20" stroke-width="1.3" />
<line x1="385.00" y1="912.80" x2="388.40" y2="912.80" stroke="#231f20" stroke-width="1.3" />
<circle cx="386.70" cy="908.80" r="1.2" fill="#231f20"/>
<line x1="442.20" y1="907.20" x2="442.20" y2="911.20" stroke="#231f20" stroke-width="1.5" />
<line x1="440.50" y1="907.20" x2="443.90" y2="907.20" stroke="#231f20" stroke-width="1.3" />
<line x1="440.50" y1="911.20" x2="443.90" y2="911.20" stroke="#231f20" stroke-width="1.3" />
<circle cx="442.20" cy="909.20" r="1.2" fill="#231f20"/>
<line x1="497.30" y1="901.80" x2="497.30" y2="909.80" stroke="#231f20" stroke-width="1.5" />
<line x1="495.60" y1="901.80" x2="499.00" y2="901.80" stroke="#231f20" stroke-width="1.3" />
<line x1="495.60" y1="909.80" x2="499.00" y2="909.80" stroke="#231f20" stroke-width="1.3" />
<circle cx="497.30" cy="905.80" r="1.2" fill="#231f20"/>
<line x1="367.50" y1="846.90" x2="367.50" y2="932.40" stroke="#6d6e71" stroke-width="1.0" />
<line x1="367.00" y1="932.40" x2="519.40" y2="932.40" stroke="#6d6e71" stroke-width="1.0" />
<line x1="386.70" y1="932.40" x2="386.70" y2="929.90" stroke="#8a8a8a" stroke-width="0.9" />
<line x1="442.20" y1="932.40" x2="442.20" y2="929.90" stroke="#8a8a8a" stroke-width="0.9" />
<line x1="497.30" y1="932.40" x2="497.30" y2="929.90" stroke="#8a8a8a" stroke-width="0.9" />
<line x1="367.50" y1="862.60" x2="370.00" y2="862.60" stroke="#8a8a8a" stroke-width="0.9" />
<text x="366.30" y="867.72" font-size="14.3" fill="#58595b" text-anchor="end" textLength="22" lengthAdjust="spacingAndGlyphs">200</text>
<line x1="367.50" y1="885.90" x2="370.00" y2="885.90" stroke="#8a8a8a" stroke-width="0.9" />
<text x="366.30" y="891.02" font-size="14.3" fill="#58595b" text-anchor="end" textLength="22" lengthAdjust="spacingAndGlyphs">100</text>
<line x1="367.50" y1="908.80" x2="370.00" y2="908.80" stroke="#8a8a8a" stroke-width="0.9" />
<text x="366.30" y="913.92" font-size="14.3" fill="#58595b" text-anchor="end" textLength="7.6" lengthAdjust="spacingAndGlyphs">0</text>
<text x="311.20" y="897.55" font-size="15.5" fill="#231f20" text-anchor="middle" textLength="76" lengthAdjust="spacingAndGlyphs" transform="rotate(-90 311.20 892.00)">Sleep Bouts</text>
<text x="324.70" y="896.55" font-size="15.5" fill="#231f20" text-anchor="middle" textLength="58.8" lengthAdjust="spacingAndGlyphs" transform="rotate(-90 324.70 891.00)">(%ΔWT)</text>
<line x1="367.60" y1="998.00" x2="519.40" y2="998.00" stroke="#5ab4ea" stroke-width="1.0" stroke-dasharray="1.1 4.25" stroke-dashoffset="-2.1"/>
<circle cx="390.40" cy="998.00" r="3.2" fill="#231f20"/>
<line x1="445.00" y1="977.10" x2="445.00" y2="1020.40" stroke="#58595b" stroke-width="1.1" />
<line x1="443.60" y1="977.10" x2="446.40" y2="977.10" stroke="#231f20" stroke-width="1.3" />
<line x1="443.60" y1="1020.40" x2="446.40" y2="1020.40" stroke="#231f20" stroke-width="1.3" />
<circle cx="445.00" cy="998.00" r="3.5" fill="#231f20"/>
<line x1="499.50" y1="954.30" x2="499.50" y2="1007.60" stroke="#58595b" stroke-width="1.1" />
<line x1="498.10" y1="954.30" x2="500.90" y2="954.30" stroke="#231f20" stroke-width="1.3" />
<line x1="498.10" y1="1007.60" x2="500.90" y2="1007.60" stroke="#231f20" stroke-width="1.3" />
<circle cx="499.50" cy="981.00" r="3.5" fill="#231f20"/>
<line x1="367.60" y1="948.20" x2="367.60" y2="1027.50" stroke="#6d6e71" stroke-width="1.0" />
<line x1="367.10" y1="1027.50" x2="519.40" y2="1027.50" stroke="#6d6e71" stroke-width="1.0" />
<line x1="390.40" y1="1027.50" x2="390.40" y2="1025.00" stroke="#8a8a8a" stroke-width="0.9" />
<line x1="445.00" y1="1027.50" x2="445.00" y2="1025.00" stroke="#8a8a8a" stroke-width="0.9" />
<line x1="499.50" y1="1027.50" x2="499.50" y2="1025.00" stroke="#8a8a8a" stroke-width="0.9" />
<text x="366.40" y="975.43" font-size="14.6" fill="#58595b" text-anchor="end" textLength="16" lengthAdjust="spacingAndGlyphs">20</text>
<line x1="367.60" y1="970.20" x2="370.10" y2="970.20" stroke="#8a8a8a" stroke-width="0.9" />
<text x="366.40" y="1002.83" font-size="14.6" fill="#58595b" text-anchor="end" textLength="7.8" lengthAdjust="spacingAndGlyphs">0</text>
<line x1="367.60" y1="997.60" x2="370.10" y2="997.60" stroke="#8a8a8a" stroke-width="0.9" />
<text x="366.40" y="1029.53" font-size="14.6" fill="#58595b" text-anchor="end" textLength="20" lengthAdjust="spacingAndGlyphs">-20</text>
<line x1="367.60" y1="1024.30" x2="370.10" y2="1024.30" stroke="#8a8a8a" stroke-width="0.9" />
<text x="310.70" y="1004.35" font-size="15.5" fill="#231f20" text-anchor="middle" textLength="66.3" lengthAdjust="spacingAndGlyphs" transform="rotate(-90 310.70 998.80)">Effect Size</text>
<text x="325.00" y="1004.75" font-size="15.5" fill="#231f20" text-anchor="middle" textLength="21.4" lengthAdjust="spacingAndGlyphs" transform="rotate(-90 325.00 999.20)">(%)</text>
<text x="352.70" y="1048.50" font-size="14" fill="#231f20" text-anchor="middle" font-style="italic" textLength="31" lengthAdjust="spacingAndGlyphs">appb</text>
<text x="390.40" y="1048.50" font-size="14" fill="#231f20" text-anchor="middle" textLength="21" lengthAdjust="spacingAndGlyphs">+/+</text>
<text x="445.00" y="1048.50" font-size="14" fill="#231f20" text-anchor="middle" textLength="17" lengthAdjust="spacingAndGlyphs">+/-</text>
<text x="499.50" y="1048.50" font-size="14" fill="#231f20" text-anchor="middle" textLength="14" lengthAdjust="spacingAndGlyphs">-/-</text>
<text x="546.00" y="820.43" font-size="13.5" fill="#000" text-anchor="middle" font-weight="bold">J</text>
<line x1="603.00" y1="839.40" x2="722.00" y2="839.40" stroke="#939598" stroke-width="1.6" />
<text x="662.60" y="834.26" font-size="13.3" fill="#231f20" text-anchor="middle" textLength="11.3" lengthAdjust="spacingAndGlyphs">ns</text>
<circle cx="605.52" cy="885.02" r="1.6" fill="#bcbec0" stroke="#fff" stroke-width="0.25"/>
<circle cx="607.41" cy="883.39" r="1.6" fill="#bcbec0" stroke="#fff" stroke-width="0.25"/>
<circle cx="605.80" cy="894.37" r="1.6" fill="#bcbec0" stroke="#fff" stroke-width="0.25"/>
<circle cx="605.21" cy="873.03" r="1.6" fill="#bcbec0" stroke="#fff" stroke-width="0.25"/>
<circle cx="603.02" cy="885.17" r="1.6" fill="#bcbec0" stroke="#fff" stroke-width="0.25"/>
<circle cx="607.44" cy="886.63" r="1.6" fill="#bcbec0" stroke="#fff" stroke-width="0.25"/>
<circle cx="609.90" cy="883.56" r="1.6" fill="#bcbec0" stroke="#fff" stroke-width="0.25"/>
<circle cx="605.21" cy="904.18" r="1.6" fill="#bcbec0" stroke="#fff" stroke-width="0.25"/>
<circle cx="607.45" cy="874.15" r="1.6" fill="#bcbec0" stroke="#fff" stroke-width="0.25"/>
<circle cx="605.41" cy="888.08" r="1.6" fill="#bcbec0" stroke="#fff" stroke-width="0.25"/>
<circle cx="605.62" cy="900.65" r="1.6" fill="#bcbec0" stroke="#fff" stroke-width="0.25"/>
<circle cx="605.08" cy="882.49" r="1.6" fill="#bcbec0" stroke="#fff" stroke-width="0.25"/>
<circle cx="604.11" cy="896.21" r="1.6" fill="#bcbec0" stroke="#fff" stroke-width="0.25"/>
<circle cx="602.91" cy="887.94" r="1.6" fill="#bcbec0" stroke="#fff" stroke-width="0.25"/>
<circle cx="607.53" cy="889.40" r="1.6" fill="#bcbec0" stroke="#fff" stroke-width="0.25"/>
<circle cx="607.82" cy="892.90" r="1.6" fill="#bcbec0" stroke="#fff" stroke-width="0.25"/>
<circle cx="604.45" cy="892.26" r="1.6" fill="#bcbec0" stroke="#fff" stroke-width="0.25"/>
<circle cx="605.63" cy="868.46" r="1.6" fill="#bcbec0" stroke="#fff" stroke-width="0.25"/>
<circle cx="605.37" cy="876.26" r="1.6" fill="#bcbec0" stroke="#fff" stroke-width="0.25"/>
<circle cx="607.78" cy="876.92" r="1.6" fill="#bcbec0" stroke="#fff" stroke-width="0.25"/>
<circle cx="602.77" cy="872.48" r="1.6" fill="#bcbec0" stroke="#fff" stroke-width="0.25"/>
<circle cx="605.61" cy="865.68" r="1.6" fill="#bcbec0" stroke="#fff" stroke-width="0.25"/>
<circle cx="601.71" cy="883.04" r="1.6" fill="#bcbec0" stroke="#fff" stroke-width="0.25"/>
<circle cx="605.35" cy="879.59" r="1.6" fill="#bcbec0" stroke="#fff" stroke-width="0.25"/>
<circle cx="604.35" cy="904.98" r="1.6" fill="#bcbec0" stroke="#fff" stroke-width="0.25"/>
<circle cx="608.08" cy="880.98" r="1.6" fill="#bcbec0" stroke="#fff" stroke-width="0.25"/>
<circle cx="602.86" cy="879.81" r="1.6" fill="#bcbec0" stroke="#fff" stroke-width="0.25"/>
<circle cx="600.55" cy="885.51" r="1.6" fill="#bcbec0" stroke="#fff" stroke-width="0.25"/>
<circle cx="610.58" cy="881.09" r="1.6" fill="#bcbec0" stroke="#fff" stroke-width="0.25"/>
<circle cx="609.95" cy="874.23" r="1.6" fill="#bcbec0" stroke="#fff" stroke-width="0.25"/>
<circle cx="601.96" cy="892.08" r="1.6" fill="#bcbec0" stroke="#fff" stroke-width="0.25"/>
<circle cx="609.46" cy="890.99" r="1.6" fill="#bcbec0" stroke="#fff" stroke-width="0.25"/>
<circle cx="602.99" cy="877.02" r="1.6" fill="#bcbec0" stroke="#fff" stroke-width="0.25"/>
<circle cx="599.96" cy="881.25" r="1.6" fill="#bcbec0" stroke="#fff" stroke-width="0.25"/>
<circle cx="607.15" cy="871.46" r="1.6" fill="#bcbec0" stroke="#fff" stroke-width="0.25"/>
<circle cx="609.92" cy="886.36" r="1.6" fill="#bcbec0" stroke="#fff" stroke-width="0.25"/>
<circle cx="603.13" cy="866.00" r="1.6" fill="#bcbec0" stroke="#fff" stroke-width="0.25"/>
<circle cx="600.61" cy="894.18" r="1.6" fill="#bcbec0" stroke="#fff" stroke-width="0.25"/>
<circle cx="600.29" cy="872.75" r="1.6" fill="#bcbec0" stroke="#fff" stroke-width="0.25"/>
<circle cx="598.66" cy="887.15" r="1.6" fill="#bcbec0" stroke="#fff" stroke-width="0.25"/>
<circle cx="601.55" cy="874.97" r="1.6" fill="#bcbec0" stroke="#fff" stroke-width="0.25"/>
<circle cx="611.45" cy="888.33" r="1.6" fill="#bcbec0" stroke="#fff" stroke-width="0.25"/>
<circle cx="609.78" cy="878.43" r="1.6" fill="#bcbec0" stroke="#fff" stroke-width="0.25"/>
<circle cx="609.49" cy="870.58" r="1.6" fill="#bcbec0" stroke="#fff" stroke-width="0.25"/>
<circle cx="603.24" cy="869.20" r="1.6" fill="#bcbec0" stroke="#fff" stroke-width="0.25"/>
<circle cx="612.19" cy="884.57" r="1.6" fill="#bcbec0" stroke="#fff" stroke-width="0.25"/>
<circle cx="603.64" cy="899.12" r="1.6" fill="#bcbec0" stroke="#fff" stroke-width="0.25"/>
<circle cx="612.41" cy="873.83" r="1.6" fill="#bcbec0" stroke="#fff" stroke-width="0.25"/>
<circle cx="604.66" cy="870.23" r="1.6" fill="#bcbec0" stroke="#fff" stroke-width="0.25"/>
<circle cx="600.50" cy="877.30" r="1.6" fill="#bcbec0" stroke="#fff" stroke-width="0.25"/>
<circle cx="607.90" cy="866.69" r="1.6" fill="#bcbec0" stroke="#fff" stroke-width="0.25"/>
<circle cx="613.49" cy="886.88" r="1.6" fill="#bcbec0" stroke="#fff" stroke-width="0.25"/>
<circle cx="612.27" cy="878.21" r="1.6" fill="#bcbec0" stroke="#fff" stroke-width="0.25"/>
<circle cx="598.12" cy="878.07" r="1.6" fill="#bcbec0" stroke="#fff" stroke-width="0.25"/>
<circle cx="603.57" cy="868.63" r="1.6" fill="#bcbec0" stroke="#fff" stroke-width="0.25"/>
<circle cx="611.93" cy="891.39" r="1.6" fill="#bcbec0" stroke="#fff" stroke-width="0.25"/>
<circle cx="597.90" cy="873.50" r="1.6" fill="#bcbec0" stroke="#fff" stroke-width="0.25"/>
<circle cx="607.36" cy="868.32" r="1.6" fill="#bcbec0" stroke="#fff" stroke-width="0.25"/>
<circle cx="596.25" cy="887.82" r="1.6" fill="#bcbec0" stroke="#fff" stroke-width="0.25"/>
<circle cx="606.94" cy="898.52" r="1.6" fill="#bcbec0" stroke="#fff" stroke-width="0.25"/>
<circle cx="608.65" cy="895.26" r="1.6" fill="#bcbec0" stroke="#fff" stroke-width="0.25"/>
<circle cx="613.51" cy="882.45" r="1.6" fill="#bcbec0" stroke="#fff" stroke-width="0.25"/>
<circle cx="597.49" cy="881.65" r="1.6" fill="#bcbec0" stroke="#fff" stroke-width="0.25"/>
<circle cx="614.10" cy="876.51" r="1.6" fill="#bcbec0" stroke="#fff" stroke-width="0.25"/>
<circle cx="609.02" cy="899.91" r="1.6" fill="#bcbec0" stroke="#fff" stroke-width="0.25"/>
<circle cx="614.90" cy="878.88" r="1.6" fill="#bcbec0" stroke="#fff" stroke-width="0.25"/>
<circle cx="610.90" cy="894.17" r="1.6" fill="#bcbec0" stroke="#fff" stroke-width="0.25"/>
<circle cx="603.08" cy="871.98" r="1.6" fill="#bcbec0" stroke="#fff" stroke-width="0.25"/>
<circle cx="595.65" cy="877.73" r="1.6" fill="#bcbec0" stroke="#fff" stroke-width="0.25"/>
<circle cx="612.95" cy="873.34" r="1.6" fill="#bcbec0" stroke="#fff" stroke-width="0.25"/>
<circle cx="596.21" cy="877.18" r="1.6" fill="#bcbec0" stroke="#fff" stroke-width="0.25"/>
<circle cx="595.04" cy="878.29" r="1.6" fill="#bcbec0" stroke="#fff" stroke-width="0.25"/>
<circle cx="595.01" cy="885.64" r="1.6" fill="#bcbec0" stroke="#fff" stroke-width="0.25"/>
<circle cx="615.96" cy="881.93" r="1.6" fill="#bcbec0" stroke="#fff" stroke-width="0.25"/>
<circle cx="615.85" cy="886.04" r="1.6" fill="#bcbec0" stroke="#fff" stroke-width="0.25"/>
<circle cx="605.67" cy="878.66" r="1.6" fill="#bcbec0" stroke="#fff" stroke-width="0.25"/>
<circle cx="600.04" cy="890.47" r="1.6" fill="#bcbec0" stroke="#fff" stroke-width="0.25"/>
<circle cx="599.42" cy="879.87" r="1.6" fill="#bcbec0" stroke="#fff" stroke-width="0.25"/>
<circle cx="612.76" cy="873.85" r="1.6" fill="#bcbec0" stroke="#fff" stroke-width="0.25"/>
<circle cx="601.26" cy="898.34" r="1.6" fill="#bcbec0" stroke="#fff" stroke-width="0.25"/>
<circle cx="609.16" cy="885.71" r="1.6" fill="#bcbec0" stroke="#fff" stroke-width="0.25"/>
<circle cx="609.02" cy="877.62" r="1.6" fill="#bcbec0" stroke="#fff" stroke-width="0.25"/>
<circle cx="599.91" cy="885.72" r="1.6" fill="#bcbec0" stroke="#fff" stroke-width="0.25"/>
<circle cx="601.96" cy="880.26" r="1.6" fill="#bcbec0" stroke="#fff" stroke-width="0.25"/>
<circle cx="596.35" cy="885.90" r="1.6" fill="#bcbec0" stroke="#fff" stroke-width="0.25"/>
<circle cx="613.97" cy="889.34" r="1.6" fill="#bcbec0" stroke="#fff" stroke-width="0.25"/>
<circle cx="613.83" cy="887.06" r="1.6" fill="#bcbec0" stroke="#fff" stroke-width="0.25"/>
<circle cx="601.90" cy="873.69" r="1.6" fill="#bcbec0" stroke="#fff" stroke-width="0.25"/>
<circle cx="612.72" cy="895.88" r="1.6" fill="#bcbec0" stroke="#fff" stroke-width="0.25"/>
<circle cx="597.62" cy="891.08" r="1.6" fill="#bcbec0" stroke="#fff" stroke-width="0.25"/>
<circle cx="611.17" cy="898.64" r="1.6" fill="#bcbec0" stroke="#fff" stroke-width="0.25"/>
<circle cx="613.52" cy="886.55" r="1.6" fill="#bcbec0" stroke="#fff" stroke-width="0.25"/>
<circle cx="604.57" cy="868.56" r="1.6" fill="#bcbec0" stroke="#fff" stroke-width="0.25"/>
<circle cx="605.22" cy="874.14" r="1.6" fill="#bcbec0" stroke="#fff" stroke-width="0.25"/>
<circle cx="604.43" cy="885.58" r="1.6" fill="#bcbec0" stroke="#fff" stroke-width="0.25"/>
<circle cx="605.50" cy="857.50" r="1.6" fill="#bcbec0" stroke="#fff" stroke-width="0.25"/>
<circle cx="605.50" cy="916.80" r="1.6" fill="#bcbec0" stroke="#fff" stroke-width="0.25"/>
<circle cx="662.52" cy="884.71" r="1.7" fill="#1c58a8"/>
<circle cx="662.67" cy="893.84" r="1.7" fill="#1c58a8"/>
<circle cx="662.53" cy="877.36" r="1.7" fill="#1c58a8"/>
<circle cx="662.83" cy="887.72" r="1.7" fill="#1c58a8"/>
<circle cx="662.62" cy="874.49" r="1.7" fill="#1c58a8"/>
<circle cx="662.67" cy="890.35" r="1.7" fill="#1c58a8"/>
<circle cx="662.80" cy="868.76" r="1.7" fill="#1c58a8"/>
<circle cx="664.46" cy="885.19" r="1.7" fill="#1c58a8"/>
<circle cx="662.59" cy="896.13" r="1.7" fill="#1c58a8"/>
<circle cx="664.19" cy="897.33" r="1.7" fill="#1c58a8"/>
<circle cx="661.08" cy="888.69" r="1.7" fill="#1c58a8"/>
<circle cx="660.83" cy="869.08" r="1.7" fill="#1c58a8"/>
<circle cx="660.59" cy="884.19" r="1.7" fill="#1c58a8"/>
<circle cx="663.36" cy="882.89" r="1.7" fill="#1c58a8"/>
<circle cx="662.77" cy="871.95" r="1.7" fill="#1c58a8"/>
<circle cx="662.33" cy="899.54" r="1.7" fill="#1c58a8"/>
<circle cx="664.52" cy="877.17" r="1.7" fill="#1c58a8"/>
<circle cx="664.42" cy="873.63" r="1.7" fill="#1c58a8"/>
<circle cx="662.57" cy="904.07" r="1.7" fill="#1c58a8"/>
<circle cx="660.67" cy="894.00" r="1.7" fill="#1c58a8"/>
<circle cx="666.05" cy="883.97" r="1.7" fill="#1c58a8"/>
<circle cx="660.85" cy="871.38" r="1.7" fill="#1c58a8"/>
<circle cx="664.27" cy="892.65" r="1.7" fill="#1c58a8"/>
<circle cx="664.64" cy="890.06" r="1.7" fill="#1c58a8"/>
<circle cx="665.98" cy="893.69" r="1.7" fill="#1c58a8"/>
<circle cx="662.53" cy="866.02" r="1.7" fill="#1c58a8"/>
<circle cx="660.79" cy="886.71" r="1.7" fill="#1c58a8"/>
<circle cx="662.77" cy="879.51" r="1.7" fill="#1c58a8"/>
<circle cx="659.16" cy="889.26" r="1.7" fill="#1c58a8"/>
<circle cx="660.84" cy="878.97" r="1.7" fill="#1c58a8"/>
<circle cx="660.62" cy="874.37" r="1.7" fill="#1c58a8"/>
<circle cx="664.77" cy="879.46" r="1.7" fill="#1c58a8"/>
<circle cx="660.83" cy="898.22" r="1.7" fill="#1c58a8"/>
<circle cx="664.74" cy="871.60" r="1.7" fill="#1c58a8"/>
<circle cx="659.00" cy="878.20" r="1.7" fill="#1c58a8"/>
<circle cx="661.62" cy="881.91" r="1.7" fill="#1c58a8"/>
<circle cx="666.19" cy="897.42" r="1.7" fill="#1c58a8"/>
<circle cx="659.74" cy="881.21" r="1.7" fill="#1c58a8"/>
<circle cx="664.91" cy="887.14" r="1.7" fill="#1c58a8"/>
<circle cx="665.70" cy="875.56" r="1.7" fill="#1c58a8"/>
<circle cx="658.83" cy="898.07" r="1.7" fill="#1c58a8"/>
<circle cx="658.69" cy="874.90" r="1.7" fill="#1c58a8"/>
<circle cx="667.89" cy="898.47" r="1.7" fill="#1c58a8"/>
<circle cx="658.59" cy="884.31" r="1.7" fill="#1c58a8"/>
<circle cx="656.59" cy="884.41" r="1.7" fill="#1c58a8"/>
<circle cx="666.82" cy="877.22" r="1.7" fill="#1c58a8"/>
<circle cx="656.98" cy="898.82" r="1.7" fill="#1c58a8"/>
<circle cx="664.16" cy="867.29" r="1.7" fill="#1c58a8"/>
<circle cx="661.14" cy="891.65" r="1.7" fill="#1c58a8"/>
<circle cx="659.68" cy="867.44" r="1.7" fill="#1c58a8"/>
<circle cx="666.39" cy="873.28" r="1.7" fill="#1c58a8"/>
<circle cx="665.68" cy="865.99" r="1.7" fill="#1c58a8"/>
<circle cx="666.55" cy="889.44" r="1.7" fill="#1c58a8"/>
<circle cx="661.25" cy="902.56" r="1.7" fill="#1c58a8"/>
<circle cx="659.66" cy="895.73" r="1.7" fill="#1c58a8"/>
<circle cx="657.06" cy="876.06" r="1.7" fill="#1c58a8"/>
<circle cx="659.09" cy="870.44" r="1.7" fill="#1c58a8"/>
<circle cx="668.02" cy="888.09" r="1.7" fill="#1c58a8"/>
<circle cx="658.53" cy="894.08" r="1.7" fill="#1c58a8"/>
<circle cx="665.84" cy="869.93" r="1.7" fill="#1c58a8"/>
<circle cx="657.80" cy="887.80" r="1.7" fill="#1c58a8"/>
<circle cx="668.05" cy="883.92" r="1.7" fill="#1c58a8"/>
<circle cx="667.55" cy="866.71" r="1.7" fill="#1c58a8"/>
<circle cx="657.75" cy="896.32" r="1.7" fill="#1c58a8"/>
<circle cx="656.03" cy="888.72" r="1.7" fill="#1c58a8"/>
<circle cx="667.90" cy="893.13" r="1.7" fill="#1c58a8"/>
<circle cx="668.31" cy="875.89" r="1.7" fill="#1c58a8"/>
<circle cx="664.32" cy="899.74" r="1.7" fill="#1c58a8"/>
<circle cx="666.77" cy="879.45" r="1.7" fill="#1c58a8"/>
<circle cx="666.65" cy="886.15" r="1.7" fill="#1c58a8"/>
<circle cx="662.59" cy="862.95" r="1.7" fill="#1c58a8"/>
<circle cx="669.98" cy="888.47" r="1.7" fill="#1c58a8"/>
<circle cx="657.62" cy="890.54" r="1.7" fill="#1c58a8"/>
<circle cx="662.94" cy="901.49" r="1.7" fill="#1c58a8"/>
<circle cx="656.84" cy="893.01" r="1.7" fill="#1c58a8"/>
<circle cx="664.31" cy="895.11" r="1.7" fill="#1c58a8"/>
<circle cx="667.99" cy="890.82" r="1.7" fill="#1c58a8"/>
<circle cx="668.50" cy="878.46" r="1.7" fill="#1c58a8"/>
<circle cx="655.81" cy="894.73" r="1.7" fill="#1c58a8"/>
<circle cx="670.01" cy="883.53" r="1.7" fill="#1c58a8"/>
<circle cx="666.99" cy="895.42" r="1.7" fill="#1c58a8"/>
<circle cx="654.43" cy="889.92" r="1.7" fill="#1c58a8"/>
<circle cx="655.27" cy="886.87" r="1.7" fill="#1c58a8"/>
<circle cx="670.08" cy="890.46" r="1.7" fill="#1c58a8"/>
<circle cx="655.06" cy="876.08" r="1.7" fill="#1c58a8"/>
<circle cx="657.94" cy="880.35" r="1.7" fill="#1c58a8"/>
<circle cx="660.67" cy="876.62" r="1.7" fill="#1c58a8"/>
<circle cx="659.23" cy="872.56" r="1.7" fill="#1c58a8"/>
<circle cx="657.36" cy="871.87" r="1.7" fill="#1c58a8"/>
<circle cx="668.35" cy="873.68" r="1.7" fill="#1c58a8"/>
<circle cx="660.57" cy="900.50" r="1.7" fill="#1c58a8"/>
<circle cx="656.17" cy="879.41" r="1.7" fill="#1c58a8"/>
<circle cx="670.40" cy="877.84" r="1.7" fill="#1c58a8"/>
<circle cx="669.68" cy="880.07" r="1.7" fill="#1c58a8"/>
<circle cx="657.29" cy="869.57" r="1.7" fill="#1c58a8"/>
<circle cx="654.36" cy="877.95" r="1.7" fill="#1c58a8"/>
<circle cx="665.10" cy="881.90" r="1.7" fill="#1c58a8"/>
<circle cx="672.21" cy="878.71" r="1.7" fill="#1c58a8"/>
<circle cx="656.86" cy="873.80" r="1.7" fill="#1c58a8"/>
<circle cx="670.99" cy="875.93" r="1.7" fill="#1c58a8"/>
<circle cx="663.45" cy="905.05" r="1.7" fill="#1c58a8"/>
<circle cx="668.99" cy="895.30" r="1.7" fill="#1c58a8"/>
<circle cx="655.38" cy="896.68" r="1.7" fill="#1c58a8"/>
<circle cx="654.75" cy="883.64" r="1.7" fill="#1c58a8"/>
<circle cx="665.25" cy="898.48" r="1.7" fill="#1c58a8"/>
<circle cx="664.48" cy="903.34" r="1.7" fill="#1c58a8"/>
<circle cx="670.87" cy="895.97" r="1.7" fill="#1c58a8"/>
<circle cx="669.78" cy="897.65" r="1.7" fill="#1c58a8"/>
<circle cx="657.75" cy="882.49" r="1.7" fill="#1c58a8"/>
<circle cx="670.33" cy="873.43" r="1.7" fill="#1c58a8"/>
<circle cx="666.06" cy="891.47" r="1.7" fill="#1c58a8"/>
<circle cx="666.72" cy="899.23" r="1.7" fill="#1c58a8"/>
<circle cx="673.57" cy="877.24" r="1.7" fill="#1c58a8"/>
<circle cx="671.02" cy="886.76" r="1.7" fill="#1c58a8"/>
<circle cx="654.93" cy="892.41" r="1.7" fill="#1c58a8"/>
<circle cx="667.56" cy="897.41" r="1.7" fill="#1c58a8"/>
<circle cx="652.59" cy="877.02" r="1.7" fill="#1c58a8"/>
<circle cx="659.10" cy="877.70" r="1.7" fill="#1c58a8"/>
<circle cx="666.03" cy="898.83" r="1.7" fill="#1c58a8"/>
<circle cx="660.63" cy="862.58" r="1.7" fill="#1c58a8"/>
<circle cx="653.85" cy="894.35" r="1.7" fill="#1c58a8"/>
<circle cx="672.07" cy="890.24" r="1.7" fill="#1c58a8"/>
<circle cx="652.88" cy="882.93" r="1.7" fill="#1c58a8"/>
<circle cx="671.82" cy="876.35" r="1.7" fill="#1c58a8"/>
<circle cx="659.15" cy="891.85" r="1.7" fill="#1c58a8"/>
<circle cx="668.12" cy="895.12" r="1.7" fill="#1c58a8"/>
<circle cx="672.01" cy="883.40" r="1.7" fill="#1c58a8"/>
<circle cx="656.17" cy="882.79" r="1.7" fill="#1c58a8"/>
<circle cx="669.88" cy="893.51" r="1.7" fill="#1c58a8"/>
<circle cx="658.07" cy="866.26" r="1.7" fill="#1c58a8"/>
<circle cx="651.66" cy="878.79" r="1.7" fill="#1c58a8"/>
<circle cx="667.10" cy="881.93" r="1.7" fill="#1c58a8"/>
<circle cx="658.57" cy="900.59" r="1.7" fill="#1c58a8"/>
<circle cx="654.90" cy="881.25" r="1.7" fill="#1c58a8"/>
<circle cx="655.35" cy="872.49" r="1.7" fill="#1c58a8"/>
<circle cx="653.38" cy="875.00" r="1.7" fill="#1c58a8"/>
<circle cx="671.63" cy="892.54" r="1.7" fill="#1c58a8"/>
<circle cx="653.38" cy="879.82" r="1.7" fill="#1c58a8"/>
<circle cx="668.25" cy="872.07" r="1.7" fill="#1c58a8"/>
<circle cx="666.02" cy="878.12" r="1.7" fill="#1c58a8"/>
<circle cx="653.43" cy="887.65" r="1.7" fill="#1c58a8"/>
<circle cx="664.24" cy="875.96" r="1.7" fill="#1c58a8"/>
<circle cx="671.51" cy="877.44" r="1.7" fill="#1c58a8"/>
<circle cx="665.40" cy="875.32" r="1.7" fill="#1c58a8"/>
<circle cx="652.14" cy="889.18" r="1.7" fill="#1c58a8"/>
<circle cx="665.86" cy="895.47" r="1.7" fill="#1c58a8"/>
<circle cx="652.63" cy="891.02" r="1.7" fill="#1c58a8"/>
<circle cx="659.61" cy="903.70" r="1.7" fill="#1c58a8"/>
<circle cx="663.36" cy="891.38" r="1.7" fill="#1c58a8"/>
<circle cx="660.98" cy="889.61" r="1.7" fill="#1c58a8"/>
<circle cx="656.01" cy="876.23" r="1.7" fill="#1c58a8"/>
<circle cx="660.85" cy="864.93" r="1.7" fill="#1c58a8"/>
<circle cx="672.68" cy="887.88" r="1.7" fill="#1c58a8"/>
<circle cx="660.42" cy="883.28" r="1.7" fill="#1c58a8"/>
<circle cx="667.84" cy="869.91" r="1.7" fill="#1c58a8"/>
<circle cx="651.58" cy="886.89" r="1.7" fill="#1c58a8"/>
<circle cx="658.34" cy="872.66" r="1.7" fill="#1c58a8"/>
<circle cx="673.66" cy="882.27" r="1.7" fill="#1c58a8"/>
<circle cx="670.79" cy="877.29" r="1.7" fill="#1c58a8"/>
<circle cx="657.79" cy="898.24" r="1.7" fill="#1c58a8"/>
<circle cx="658.41" cy="888.15" r="1.7" fill="#1c58a8"/>
<circle cx="662.33" cy="898.27" r="1.7" fill="#1c58a8"/>
<circle cx="669.69" cy="897.53" r="1.7" fill="#1c58a8"/>
<circle cx="664.89" cy="874.38" r="1.7" fill="#1c58a8"/>
<circle cx="658.15" cy="890.96" r="1.7" fill="#1c58a8"/>
<circle cx="668.23" cy="870.32" r="1.7" fill="#1c58a8"/>
<circle cx="665.57" cy="893.20" r="1.7" fill="#1c58a8"/>
<circle cx="661.30" cy="895.33" r="1.7" fill="#1c58a8"/>
<circle cx="651.97" cy="884.71" r="1.7" fill="#1c58a8"/>
<circle cx="656.78" cy="877.48" r="1.7" fill="#1c58a8"/>
<circle cx="668.37" cy="869.21" r="1.7" fill="#1c58a8"/>
<circle cx="667.87" cy="900.86" r="1.7" fill="#1c58a8"/>
<circle cx="665.60" cy="890.86" r="1.7" fill="#1c58a8"/>
<circle cx="669.74" cy="877.48" r="1.7" fill="#1c58a8"/>
<circle cx="659.44" cy="894.25" r="1.7" fill="#1c58a8"/>
<circle cx="654.17" cy="891.45" r="1.7" fill="#1c58a8"/>
<circle cx="666.07" cy="901.73" r="1.7" fill="#1c58a8"/>
<circle cx="659.86" cy="901.22" r="1.7" fill="#1c58a8"/>
<circle cx="657.52" cy="898.16" r="1.7" fill="#1c58a8"/>
<circle cx="665.66" cy="900.67" r="1.7" fill="#1c58a8"/>
<circle cx="662.60" cy="845.40" r="1.7" fill="#1c58a8"/>
<circle cx="662.60" cy="916.80" r="1.7" fill="#1c58a8"/>
<circle cx="719.86" cy="858.89" r="1.6" fill="#ed1c24" stroke="#fff" stroke-width="0.25"/>
<circle cx="719.80" cy="902.11" r="1.6" fill="#ed1c24" stroke="#fff" stroke-width="0.25"/>
<circle cx="719.84" cy="888.06" r="1.6" fill="#ed1c24" stroke="#fff" stroke-width="0.25"/>
<circle cx="719.66" cy="884.73" r="1.6" fill="#ed1c24" stroke="#fff" stroke-width="0.25"/>
<circle cx="717.80" cy="902.54" r="1.6" fill="#ed1c24" stroke="#fff" stroke-width="0.25"/>
<circle cx="719.56" cy="881.43" r="1.6" fill="#ed1c24" stroke="#fff" stroke-width="0.25"/>
<circle cx="722.12" cy="883.91" r="1.6" fill="#ed1c24" stroke="#fff" stroke-width="0.25"/>
<circle cx="719.65" cy="877.15" r="1.6" fill="#ed1c24" stroke="#fff" stroke-width="0.25"/>
<circle cx="722.01" cy="876.06" r="1.6" fill="#ed1c24" stroke="#fff" stroke-width="0.25"/>
<circle cx="720.07" cy="861.56" r="1.6" fill="#ed1c24" stroke="#fff" stroke-width="0.25"/>
<circle cx="717.38" cy="882.84" r="1.6" fill="#ed1c24" stroke="#fff" stroke-width="0.25"/>
<circle cx="717.20" cy="878.00" r="1.6" fill="#ed1c24" stroke="#fff" stroke-width="0.25"/>
<circle cx="720.10" cy="894.88" r="1.6" fill="#ed1c24" stroke="#fff" stroke-width="0.25"/>
<circle cx="717.90" cy="863.00" r="1.6" fill="#ed1c24" stroke="#fff" stroke-width="0.25"/>
<circle cx="719.89" cy="871.87" r="1.6" fill="#ed1c24" stroke="#fff" stroke-width="0.25"/>
<circle cx="718.10" cy="889.99" r="1.6" fill="#ed1c24" stroke="#fff" stroke-width="0.25"/>
<circle cx="719.69" cy="868.75" r="1.6" fill="#ed1c24" stroke="#fff" stroke-width="0.25"/>
<circle cx="720.57" cy="890.82" r="1.6" fill="#ed1c24" stroke="#fff" stroke-width="0.25"/>
<circle cx="724.27" cy="882.45" r="1.6" fill="#ed1c24" stroke="#fff" stroke-width="0.25"/>
<circle cx="721.70" cy="879.95" r="1.6" fill="#ed1c24" stroke="#fff" stroke-width="0.25"/>
<circle cx="723.86" cy="878.51" r="1.6" fill="#ed1c24" stroke="#fff" stroke-width="0.25"/>
<circle cx="722.51" cy="889.10" r="1.6" fill="#ed1c24" stroke="#fff" stroke-width="0.25"/>
<circle cx="717.37" cy="887.22" r="1.6" fill="#ed1c24" stroke="#fff" stroke-width="0.25"/>
<circle cx="718.30" cy="893.01" r="1.6" fill="#ed1c24" stroke="#fff" stroke-width="0.25"/>
<circle cx="719.14" cy="874.36" r="1.6" fill="#ed1c24" stroke="#fff" stroke-width="0.25"/>
<circle cx="715.60" cy="884.75" r="1.6" fill="#ed1c24" stroke="#fff" stroke-width="0.25"/>
<circle cx="716.64" cy="875.08" r="1.6" fill="#ed1c24" stroke="#fff" stroke-width="0.25"/>
<circle cx="720.67" cy="866.34" r="1.6" fill="#ed1c24" stroke="#fff" stroke-width="0.25"/>
<circle cx="717.33" cy="872.37" r="1.6" fill="#ed1c24" stroke="#fff" stroke-width="0.25"/>
<circle cx="724.47" cy="875.20" r="1.6" fill="#ed1c24" stroke="#fff" stroke-width="0.25"/>
<circle cx="713.67" cy="883.01" r="1.6" fill="#ed1c24" stroke="#fff" stroke-width="0.25"/>
<circle cx="724.36" cy="887.27" r="1.6" fill="#ed1c24" stroke="#fff" stroke-width="0.25"/>
<circle cx="722.32" cy="872.78" r="1.6" fill="#ed1c24" stroke="#fff" stroke-width="0.25"/>
<circle cx="720.02" cy="861.14" r="1.6" fill="#ed1c24" stroke="#fff" stroke-width="0.25"/>
<circle cx="725.79" cy="884.56" r="1.6" fill="#ed1c24" stroke="#fff" stroke-width="0.25"/>
<circle cx="721.37" cy="900.04" r="1.6" fill="#ed1c24" stroke="#fff" stroke-width="0.25"/>
<circle cx="715.51" cy="890.25" r="1.6" fill="#ed1c24" stroke="#fff" stroke-width="0.25"/>
<circle cx="716.14" cy="880.56" r="1.6" fill="#ed1c24" stroke="#fff" stroke-width="0.25"/>
<circle cx="721.05" cy="859.86" r="1.6" fill="#ed1c24" stroke="#fff" stroke-width="0.25"/>
<circle cx="722.87" cy="892.04" r="1.6" fill="#ed1c24" stroke="#fff" stroke-width="0.25"/>
<circle cx="717.29" cy="867.73" r="1.6" fill="#ed1c24" stroke="#fff" stroke-width="0.25"/>
<circle cx="721.92" cy="870.21" r="1.6" fill="#ed1c24" stroke="#fff" stroke-width="0.25"/>
<circle cx="725.14" cy="890.77" r="1.6" fill="#ed1c24" stroke="#fff" stroke-width="0.25"/>
<circle cx="726.23" cy="880.74" r="1.6" fill="#ed1c24" stroke="#fff" stroke-width="0.25"/>
<circle cx="713.03" cy="891.01" r="1.6" fill="#ed1c24" stroke="#fff" stroke-width="0.25"/>
<circle cx="719.46" cy="858.18" r="1.6" fill="#ed1c24" stroke="#fff" stroke-width="0.25"/>
<circle cx="727.65" cy="890.09" r="1.6" fill="#ed1c24" stroke="#fff" stroke-width="0.25"/>
<circle cx="713.86" cy="879.30" r="1.6" fill="#ed1c24" stroke="#fff" stroke-width="0.25"/>
<circle cx="714.04" cy="875.09" r="1.6" fill="#ed1c24" stroke="#fff" stroke-width="0.25"/>
<circle cx="715.79" cy="893.67" r="1.6" fill="#ed1c24" stroke="#fff" stroke-width="0.25"/>
<circle cx="726.24" cy="877.47" r="1.6" fill="#ed1c24" stroke="#fff" stroke-width="0.25"/>
<circle cx="725.52" cy="890.51" r="1.6" fill="#ed1c24" stroke="#fff" stroke-width="0.25"/>
<circle cx="711.38" cy="889.01" r="1.6" fill="#ed1c24" stroke="#fff" stroke-width="0.25"/>
<circle cx="727.20" cy="891.87" r="1.6" fill="#ed1c24" stroke="#fff" stroke-width="0.25"/>
<circle cx="719.77" cy="905.54" r="1.6" fill="#ed1c24" stroke="#fff" stroke-width="0.25"/>
<circle cx="713.43" cy="886.16" r="1.6" fill="#ed1c24" stroke="#fff" stroke-width="0.25"/>
<circle cx="724.51" cy="870.45" r="1.6" fill="#ed1c24" stroke="#fff" stroke-width="0.25"/>
<circle cx="723.20" cy="866.95" r="1.6" fill="#ed1c24" stroke="#fff" stroke-width="0.25"/>
<circle cx="728.23" cy="883.66" r="1.6" fill="#ed1c24" stroke="#fff" stroke-width="0.25"/>
<circle cx="711.42" cy="878.40" r="1.6" fill="#ed1c24" stroke="#fff" stroke-width="0.25"/>
<circle cx="728.83" cy="880.61" r="1.6" fill="#ed1c24" stroke="#fff" stroke-width="0.25"/>
<circle cx="715.09" cy="869.11" r="1.6" fill="#ed1c24" stroke="#fff" stroke-width="0.25"/>
<circle cx="711.10" cy="883.42" r="1.6" fill="#ed1c24" stroke="#fff" stroke-width="0.25"/>
<circle cx="727.73" cy="886.29" r="1.6" fill="#ed1c24" stroke="#fff" stroke-width="0.25"/>
<circle cx="728.55" cy="876.27" r="1.6" fill="#ed1c24" stroke="#fff" stroke-width="0.25"/>
<circle cx="713.77" cy="871.35" r="1.6" fill="#ed1c24" stroke="#fff" stroke-width="0.25"/>
<circle cx="718.23" cy="879.84" r="1.6" fill="#ed1c24" stroke="#fff" stroke-width="0.25"/>
<circle cx="719.92" cy="897.56" r="1.6" fill="#ed1c24" stroke="#fff" stroke-width="0.25"/>
<circle cx="723.40" cy="885.14" r="1.6" fill="#ed1c24" stroke="#fff" stroke-width="0.25"/>
<circle cx="717.70" cy="896.20" r="1.6" fill="#ed1c24" stroke="#fff" stroke-width="0.25"/>
<circle cx="730.64" cy="882.47" r="1.6" fill="#ed1c24" stroke="#fff" stroke-width="0.25"/>
<circle cx="708.81" cy="882.19" r="1.6" fill="#ed1c24" stroke="#fff" stroke-width="0.25"/>
<circle cx="718.74" cy="864.15" r="1.6" fill="#ed1c24" stroke="#fff" stroke-width="0.25"/>
<circle cx="716.56" cy="871.41" r="1.6" fill="#ed1c24" stroke="#fff" stroke-width="0.25"/>
<circle cx="720.58" cy="903.91" r="1.6" fill="#ed1c24" stroke="#fff" stroke-width="0.25"/>
<circle cx="716.41" cy="900.35" r="1.6" fill="#ed1c24" stroke="#fff" stroke-width="0.25"/>
<circle cx="718.07" cy="891.58" r="1.6" fill="#ed1c24" stroke="#fff" stroke-width="0.25"/>
<circle cx="717.19" cy="890.98" r="1.6" fill="#ed1c24" stroke="#fff" stroke-width="0.25"/>
<circle cx="723.40" cy="888.59" r="1.6" fill="#ed1c24" stroke="#fff" stroke-width="0.25"/>
<circle cx="719.85" cy="862.31" r="1.6" fill="#ed1c24" stroke="#fff" stroke-width="0.25"/>
<circle cx="725.10" cy="893.41" r="1.6" fill="#ed1c24" stroke="#fff" stroke-width="0.25"/>
<circle cx="727.42" cy="887.45" r="1.6" fill="#ed1c24" stroke="#fff" stroke-width="0.25"/>
<circle cx="720.92" cy="860.48" r="1.6" fill="#ed1c24" stroke="#fff" stroke-width="0.25"/>
<circle cx="725.15" cy="869.85" r="1.6" fill="#ed1c24" stroke="#fff" stroke-width="0.25"/>
<circle cx="713.89" cy="883.71" r="1.6" fill="#ed1c24" stroke="#fff" stroke-width="0.25"/>
<circle cx="725.89" cy="871.46" r="1.6" fill="#ed1c24" stroke="#fff" stroke-width="0.25"/>
<circle cx="718.51" cy="900.75" r="1.6" fill="#ed1c24" stroke="#fff" stroke-width="0.25"/>
<circle cx="722.69" cy="895.05" r="1.6" fill="#ed1c24" stroke="#fff" stroke-width="0.25"/>
<circle cx="712.62" cy="872.61" r="1.6" fill="#ed1c24" stroke="#fff" stroke-width="0.25"/>
<circle cx="720.63" cy="888.11" r="1.6" fill="#ed1c24" stroke="#fff" stroke-width="0.25"/>
<line x1="583.90" y1="884.70" x2="733.10" y2="884.70" stroke="#c7c8ca" stroke-width="2.0" stroke-dasharray="12.8 8.6"/>
<line x1="605.50" y1="882.20" x2="605.50" y2="887.20" stroke="#231f20" stroke-width="1.5" />
<line x1="603.80" y1="882.20" x2="607.20" y2="882.20" stroke="#231f20" stroke-width="1.3" />
<line x1="603.80" y1="887.20" x2="607.20" y2="887.20" stroke="#231f20" stroke-width="1.3" />
<circle cx="605.50" cy="884.70" r="1.2" fill="#231f20"/>
<line x1="662.60" y1="880.60" x2="662.60" y2="885.60" stroke="#231f20" stroke-width="1.5" />
<line x1="660.90" y1="880.60" x2="664.30" y2="880.60" stroke="#231f20" stroke-width="1.3" />
<line x1="660.90" y1="885.60" x2="664.30" y2="885.60" stroke="#231f20" stroke-width="1.3" />
<circle cx="662.60" cy="883.10" r="1.2" fill="#231f20"/>
<line x1="719.80" y1="880.60" x2="719.80" y2="885.60" stroke="#231f20" stroke-width="1.5" />
<line x1="718.10" y1="880.60" x2="721.50" y2="880.60" stroke="#231f20" stroke-width="1.3" />
<line x1="718.10" y1="885.60" x2="721.50" y2="885.60" stroke="#231f20" stroke-width="1.3" />
<circle cx="719.80" cy="883.10" r="1.2" fill="#231f20"/>
<line x1="583.90" y1="839.50" x2="583.90" y2="928.50" stroke="#b4b4b4" stroke-width="1.6" />
<line x1="583.40" y1="928.50" x2="733.10" y2="928.50" stroke="#b4b4b4" stroke-width="1.6" />
<line x1="605.50" y1="928.50" x2="605.50" y2="926.00" stroke="#8a8a8a" stroke-width="0.9" />
<line x1="662.60" y1="928.50" x2="662.60" y2="926.00" stroke="#8a8a8a" stroke-width="0.9" />
<line x1="719.80" y1="928.50" x2="719.80" y2="926.00" stroke="#8a8a8a" stroke-width="0.9" />
<line x1="583.90" y1="839.90" x2="586.40" y2="839.90" stroke="#8a8a8a" stroke-width="0.9" />
<text x="582.70" y="845.27" font-size="15" fill="#58595b" text-anchor="end" textLength="22" lengthAdjust="spacingAndGlyphs">100</text>
<line x1="583.90" y1="884.40" x2="586.40" y2="884.40" stroke="#8a8a8a" stroke-width="0.9" />
<text x="582.70" y="889.77" font-size="15" fill="#58595b" text-anchor="end" textLength="7" lengthAdjust="spacingAndGlyphs">0</text>
<line x1="583.90" y1="925.90" x2="586.40" y2="925.90" stroke="#8a8a8a" stroke-width="0.9" />
<text x="582.70" y="931.27" font-size="15" fill="#58595b" text-anchor="end" textLength="27.2" lengthAdjust="spacingAndGlyphs">-100</text>
<line x1="583.90" y1="1006.00" x2="733.10" y2="1006.00" stroke="#5ab4ea" stroke-width="1.0" stroke-dasharray="1.1 4.25" stroke-dashoffset="-2.1"/>
<circle cx="607.80" cy="1006.00" r="3.2" fill="#231f20"/>
<line x1="664.70" y1="957.30" x2="664.70" y2="1013.80" stroke="#808285" stroke-width="1.1" />
<line x1="663.30" y1="957.30" x2="666.10" y2="957.30" stroke="#231f20" stroke-width="1.3" />
<line x1="663.30" y1="1013.80" x2="666.10" y2="1013.80" stroke="#231f20" stroke-width="1.3" />
<circle cx="664.70" cy="985.60" r="3.5" fill="#231f20"/>
<line x1="721.80" y1="954.10" x2="721.80" y2="1019.10" stroke="#808285" stroke-width="1.1" />
<line x1="720.40" y1="954.10" x2="723.20" y2="954.10" stroke="#231f20" stroke-width="1.3" />
<line x1="720.40" y1="1019.10" x2="723.20" y2="1019.10" stroke="#231f20" stroke-width="1.3" />
<circle cx="721.80" cy="986.50" r="3.5" fill="#231f20"/>
<line x1="583.90" y1="945.60" x2="583.90" y2="1026.40" stroke="#b4b4b4" stroke-width="1.6" />
<line x1="583.40" y1="1026.40" x2="733.10" y2="1026.40" stroke="#b4b4b4" stroke-width="1.6" />
<line x1="607.80" y1="1026.40" x2="607.80" y2="1023.90" stroke="#8a8a8a" stroke-width="0.9" />
<line x1="664.70" y1="1026.40" x2="664.70" y2="1023.90" stroke="#8a8a8a" stroke-width="0.9" />
<line x1="721.80" y1="1026.40" x2="721.80" y2="1023.90" stroke="#8a8a8a" stroke-width="0.9" />
<text x="582.70" y="954.97" font-size="15" fill="#58595b" text-anchor="end" textLength="16" lengthAdjust="spacingAndGlyphs">10</text>
<line x1="583.90" y1="949.60" x2="586.40" y2="949.60" stroke="#8a8a8a" stroke-width="0.9" />
<text x="582.70" y="983.57" font-size="15" fill="#58595b" text-anchor="end" textLength="8" lengthAdjust="spacingAndGlyphs">5</text>
<line x1="583.90" y1="978.20" x2="586.40" y2="978.20" stroke="#8a8a8a" stroke-width="0.9" />
<text x="582.70" y="1011.87" font-size="15" fill="#58595b" text-anchor="end" textLength="8" lengthAdjust="spacingAndGlyphs">0</text>
<line x1="583.90" y1="1006.50" x2="586.40" y2="1006.50" stroke="#8a8a8a" stroke-width="0.9" />
<text x="609.60" y="1044.00" font-size="14" fill="#231f20" text-anchor="middle" textLength="21" lengthAdjust="spacingAndGlyphs">+/+</text>
<text x="664.70" y="1044.00" font-size="14" fill="#231f20" text-anchor="middle" textLength="17" lengthAdjust="spacingAndGlyphs">+/-</text>
<text x="719.40" y="1044.00" font-size="14" fill="#231f20" text-anchor="middle" textLength="14" lengthAdjust="spacingAndGlyphs">-/-</text>
</svg></body></html>
